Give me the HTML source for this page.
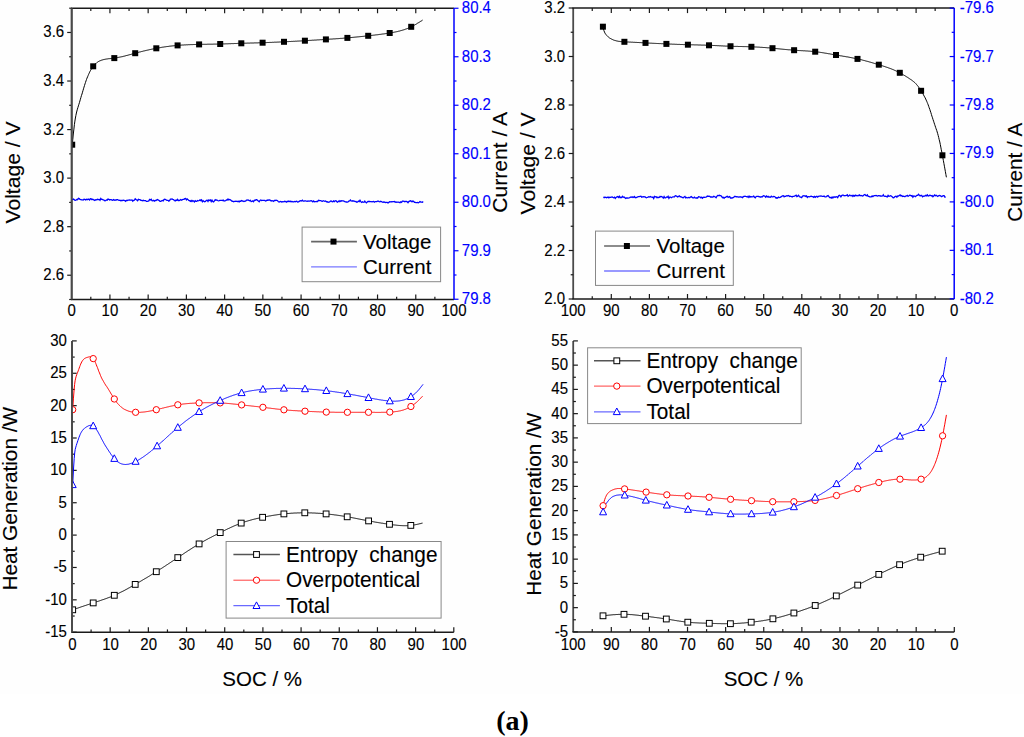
<!DOCTYPE html>
<html><head><meta charset="utf-8"><style>
html,body{margin:0;padding:0;background:#fff;}
body{width:1024px;height:737px;overflow:hidden;}
svg{display:block;}
text{font-family:"Liberation Sans",sans-serif;stroke-width:0.12px;}
</style></head><body>
<svg width="1024" height="737" viewBox="0 0 1024 737">
<rect x="0" y="0" width="1024" height="694" fill="#fefefe"/>
<line x1="71.70" y1="8.25" x2="71.70" y2="299.50" stroke="#4a4a4a" stroke-width="1.8"/>
<line x1="70.95" y1="299.50" x2="454.00" y2="299.50" stroke="#1a1a1a" stroke-width="1.5"/>
<line x1="70.95" y1="8.25" x2="454.00" y2="8.25" stroke="#1a1a1a" stroke-width="1.5"/>
<line x1="454.00" y1="8.25" x2="454.00" y2="299.50" stroke="#0000ff" stroke-width="1.5"/>
<line x1="69.20" y1="299.50" x2="71.70" y2="299.50" stroke="#1a1a1a" stroke-width="1.2"/>
<line x1="67.20" y1="275.22" x2="71.70" y2="275.22" stroke="#1a1a1a" stroke-width="1.2"/>
<text transform="translate(64.20,280.22) scale(1,1.050)" font-size="15" text-anchor="end" fill="#000" stroke="#000" >2.6</text>
<line x1="69.20" y1="250.95" x2="71.70" y2="250.95" stroke="#1a1a1a" stroke-width="1.2"/>
<line x1="67.20" y1="226.68" x2="71.70" y2="226.68" stroke="#1a1a1a" stroke-width="1.2"/>
<text transform="translate(64.20,231.68) scale(1,1.050)" font-size="15" text-anchor="end" fill="#000" stroke="#000" >2.8</text>
<line x1="69.20" y1="202.40" x2="71.70" y2="202.40" stroke="#1a1a1a" stroke-width="1.2"/>
<line x1="67.20" y1="178.12" x2="71.70" y2="178.12" stroke="#1a1a1a" stroke-width="1.2"/>
<text transform="translate(64.20,183.12) scale(1,1.050)" font-size="15" text-anchor="end" fill="#000" stroke="#000" >3.0</text>
<line x1="69.20" y1="153.85" x2="71.70" y2="153.85" stroke="#1a1a1a" stroke-width="1.2"/>
<line x1="67.20" y1="129.57" x2="71.70" y2="129.57" stroke="#1a1a1a" stroke-width="1.2"/>
<text transform="translate(64.20,134.57) scale(1,1.050)" font-size="15" text-anchor="end" fill="#000" stroke="#000" >3.2</text>
<line x1="69.20" y1="105.30" x2="71.70" y2="105.30" stroke="#1a1a1a" stroke-width="1.2"/>
<line x1="67.20" y1="81.03" x2="71.70" y2="81.03" stroke="#1a1a1a" stroke-width="1.2"/>
<text transform="translate(64.20,86.03) scale(1,1.050)" font-size="15" text-anchor="end" fill="#000" stroke="#000" >3.4</text>
<line x1="69.20" y1="56.75" x2="71.70" y2="56.75" stroke="#1a1a1a" stroke-width="1.2"/>
<line x1="67.20" y1="32.47" x2="71.70" y2="32.47" stroke="#1a1a1a" stroke-width="1.2"/>
<text transform="translate(64.20,37.47) scale(1,1.050)" font-size="15" text-anchor="end" fill="#000" stroke="#000" >3.6</text>
<line x1="69.20" y1="8.20" x2="71.70" y2="8.20" stroke="#1a1a1a" stroke-width="1.2"/>
<text transform="translate(71.70,316.40) scale(1,1.050)" font-size="15" text-anchor="middle" fill="#000" stroke="#000" >0</text>
<line x1="90.81" y1="296.70" x2="90.81" y2="299.50" stroke="#1a1a1a" stroke-width="1.2"/>
<line x1="90.81" y1="8.25" x2="90.81" y2="11.05" stroke="#1a1a1a" stroke-width="1.2"/>
<line x1="109.93" y1="294.50" x2="109.93" y2="299.50" stroke="#1a1a1a" stroke-width="1.2"/>
<line x1="109.93" y1="8.25" x2="109.93" y2="13.25" stroke="#1a1a1a" stroke-width="1.2"/>
<text transform="translate(109.93,316.40) scale(1,1.050)" font-size="15" text-anchor="middle" fill="#000" stroke="#000" >10</text>
<line x1="129.05" y1="296.70" x2="129.05" y2="299.50" stroke="#1a1a1a" stroke-width="1.2"/>
<line x1="129.05" y1="8.25" x2="129.05" y2="11.05" stroke="#1a1a1a" stroke-width="1.2"/>
<line x1="148.16" y1="294.50" x2="148.16" y2="299.50" stroke="#1a1a1a" stroke-width="1.2"/>
<line x1="148.16" y1="8.25" x2="148.16" y2="13.25" stroke="#1a1a1a" stroke-width="1.2"/>
<text transform="translate(148.16,316.40) scale(1,1.050)" font-size="15" text-anchor="middle" fill="#000" stroke="#000" >20</text>
<line x1="167.28" y1="296.70" x2="167.28" y2="299.50" stroke="#1a1a1a" stroke-width="1.2"/>
<line x1="167.28" y1="8.25" x2="167.28" y2="11.05" stroke="#1a1a1a" stroke-width="1.2"/>
<line x1="186.39" y1="294.50" x2="186.39" y2="299.50" stroke="#1a1a1a" stroke-width="1.2"/>
<line x1="186.39" y1="8.25" x2="186.39" y2="13.25" stroke="#1a1a1a" stroke-width="1.2"/>
<text transform="translate(186.39,316.40) scale(1,1.050)" font-size="15" text-anchor="middle" fill="#000" stroke="#000" >30</text>
<line x1="205.50" y1="296.70" x2="205.50" y2="299.50" stroke="#1a1a1a" stroke-width="1.2"/>
<line x1="205.50" y1="8.25" x2="205.50" y2="11.05" stroke="#1a1a1a" stroke-width="1.2"/>
<line x1="224.62" y1="294.50" x2="224.62" y2="299.50" stroke="#1a1a1a" stroke-width="1.2"/>
<line x1="224.62" y1="8.25" x2="224.62" y2="13.25" stroke="#1a1a1a" stroke-width="1.2"/>
<text transform="translate(224.62,316.40) scale(1,1.050)" font-size="15" text-anchor="middle" fill="#000" stroke="#000" >40</text>
<line x1="243.74" y1="296.70" x2="243.74" y2="299.50" stroke="#1a1a1a" stroke-width="1.2"/>
<line x1="243.74" y1="8.25" x2="243.74" y2="11.05" stroke="#1a1a1a" stroke-width="1.2"/>
<line x1="262.85" y1="294.50" x2="262.85" y2="299.50" stroke="#1a1a1a" stroke-width="1.2"/>
<line x1="262.85" y1="8.25" x2="262.85" y2="13.25" stroke="#1a1a1a" stroke-width="1.2"/>
<text transform="translate(262.85,316.40) scale(1,1.050)" font-size="15" text-anchor="middle" fill="#000" stroke="#000" >50</text>
<line x1="281.96" y1="296.70" x2="281.96" y2="299.50" stroke="#1a1a1a" stroke-width="1.2"/>
<line x1="281.96" y1="8.25" x2="281.96" y2="11.05" stroke="#1a1a1a" stroke-width="1.2"/>
<line x1="301.08" y1="294.50" x2="301.08" y2="299.50" stroke="#1a1a1a" stroke-width="1.2"/>
<line x1="301.08" y1="8.25" x2="301.08" y2="13.25" stroke="#1a1a1a" stroke-width="1.2"/>
<text transform="translate(301.08,316.40) scale(1,1.050)" font-size="15" text-anchor="middle" fill="#000" stroke="#000" >60</text>
<line x1="320.19" y1="296.70" x2="320.19" y2="299.50" stroke="#1a1a1a" stroke-width="1.2"/>
<line x1="320.19" y1="8.25" x2="320.19" y2="11.05" stroke="#1a1a1a" stroke-width="1.2"/>
<line x1="339.31" y1="294.50" x2="339.31" y2="299.50" stroke="#1a1a1a" stroke-width="1.2"/>
<line x1="339.31" y1="8.25" x2="339.31" y2="13.25" stroke="#1a1a1a" stroke-width="1.2"/>
<text transform="translate(339.31,316.40) scale(1,1.050)" font-size="15" text-anchor="middle" fill="#000" stroke="#000" >70</text>
<line x1="358.43" y1="296.70" x2="358.43" y2="299.50" stroke="#1a1a1a" stroke-width="1.2"/>
<line x1="358.43" y1="8.25" x2="358.43" y2="11.05" stroke="#1a1a1a" stroke-width="1.2"/>
<line x1="377.54" y1="294.50" x2="377.54" y2="299.50" stroke="#1a1a1a" stroke-width="1.2"/>
<line x1="377.54" y1="8.25" x2="377.54" y2="13.25" stroke="#1a1a1a" stroke-width="1.2"/>
<text transform="translate(377.54,316.40) scale(1,1.050)" font-size="15" text-anchor="middle" fill="#000" stroke="#000" >80</text>
<line x1="396.65" y1="296.70" x2="396.65" y2="299.50" stroke="#1a1a1a" stroke-width="1.2"/>
<line x1="396.65" y1="8.25" x2="396.65" y2="11.05" stroke="#1a1a1a" stroke-width="1.2"/>
<line x1="415.77" y1="294.50" x2="415.77" y2="299.50" stroke="#1a1a1a" stroke-width="1.2"/>
<line x1="415.77" y1="8.25" x2="415.77" y2="13.25" stroke="#1a1a1a" stroke-width="1.2"/>
<text transform="translate(415.77,316.40) scale(1,1.050)" font-size="15" text-anchor="middle" fill="#000" stroke="#000" >90</text>
<line x1="434.88" y1="296.70" x2="434.88" y2="299.50" stroke="#1a1a1a" stroke-width="1.2"/>
<line x1="434.88" y1="8.25" x2="434.88" y2="11.05" stroke="#1a1a1a" stroke-width="1.2"/>
<text transform="translate(454.00,316.40) scale(1,1.050)" font-size="15" text-anchor="middle" fill="#000" stroke="#000" >100</text>
<line x1="454.00" y1="8.25" x2="458.50" y2="8.25" stroke="#0000ff" stroke-width="1.2"/>
<text transform="translate(461.80,13.25) scale(1,1.050)" font-size="15" text-anchor="start" fill="#0000ff" stroke="#0000ff" >80.4</text>
<line x1="454.00" y1="32.50" x2="456.50" y2="32.50" stroke="#0000ff" stroke-width="1.2"/>
<line x1="454.00" y1="56.75" x2="458.50" y2="56.75" stroke="#0000ff" stroke-width="1.2"/>
<text transform="translate(461.80,61.75) scale(1,1.050)" font-size="15" text-anchor="start" fill="#0000ff" stroke="#0000ff" >80.3</text>
<line x1="454.00" y1="81.00" x2="456.50" y2="81.00" stroke="#0000ff" stroke-width="1.2"/>
<line x1="454.00" y1="105.25" x2="458.50" y2="105.25" stroke="#0000ff" stroke-width="1.2"/>
<text transform="translate(461.80,110.25) scale(1,1.050)" font-size="15" text-anchor="start" fill="#0000ff" stroke="#0000ff" >80.2</text>
<line x1="454.00" y1="129.50" x2="456.50" y2="129.50" stroke="#0000ff" stroke-width="1.2"/>
<line x1="454.00" y1="153.75" x2="458.50" y2="153.75" stroke="#0000ff" stroke-width="1.2"/>
<text transform="translate(461.80,158.75) scale(1,1.050)" font-size="15" text-anchor="start" fill="#0000ff" stroke="#0000ff" >80.1</text>
<line x1="454.00" y1="178.00" x2="456.50" y2="178.00" stroke="#0000ff" stroke-width="1.2"/>
<line x1="454.00" y1="202.25" x2="458.50" y2="202.25" stroke="#0000ff" stroke-width="1.2"/>
<text transform="translate(461.80,207.25) scale(1,1.050)" font-size="15" text-anchor="start" fill="#0000ff" stroke="#0000ff" >80.0</text>
<line x1="454.00" y1="226.50" x2="456.50" y2="226.50" stroke="#0000ff" stroke-width="1.2"/>
<line x1="454.00" y1="250.75" x2="458.50" y2="250.75" stroke="#0000ff" stroke-width="1.2"/>
<text transform="translate(461.80,255.75) scale(1,1.050)" font-size="15" text-anchor="start" fill="#0000ff" stroke="#0000ff" >79.9</text>
<line x1="454.00" y1="275.00" x2="456.50" y2="275.00" stroke="#0000ff" stroke-width="1.2"/>
<line x1="454.00" y1="299.25" x2="458.50" y2="299.25" stroke="#0000ff" stroke-width="1.2"/>
<text transform="translate(461.80,304.25) scale(1,1.050)" font-size="15" text-anchor="start" fill="#0000ff" stroke="#0000ff" >79.8</text>
<text transform="translate(20.40,172.45) rotate(-90) scale(1.030,1)" font-size="20.5" text-anchor="middle" fill="#000" stroke="#000" >Voltage / V</text>
<text transform="translate(507.00,162.30) rotate(-90) scale(1.030,1)" font-size="20.5" text-anchor="middle" fill="#000" stroke="#000" >Current / A</text>
<polyline points="72.0,199.6 72.8,199.4 73.6,199.0 74.4,199.9 75.2,200.3 76.0,200.2 76.8,199.4 77.6,199.7 78.4,198.4 79.2,198.7 80.0,199.3 80.8,199.5 81.6,199.9 82.4,199.9 83.2,200.1 84.0,199.3 84.8,199.4 85.6,199.9 86.4,199.3 87.2,199.7 88.0,199.2 88.8,199.2 89.6,200.0 90.4,198.7 91.2,198.9 92.0,199.6 92.8,199.2 93.6,199.8 94.4,200.4 95.2,199.8 96.0,200.1 96.8,199.5 97.6,199.3 98.4,199.6 99.2,199.4 100.0,200.3 100.8,198.5 101.6,199.4 102.4,199.4 103.2,200.0 104.0,200.1 104.8,200.8 105.6,200.7 106.4,199.9 107.2,200.2 108.0,199.0 108.8,199.3 109.6,200.0 110.4,199.6 111.2,199.7 112.0,200.1 112.8,200.2 113.6,199.5 114.4,200.2 115.2,199.9 116.0,200.3 116.8,199.6 117.6,199.6 118.4,200.1 119.2,200.4 120.0,200.2 120.8,200.7 121.6,200.5 122.4,200.5 123.2,200.2 124.0,200.3 124.8,200.6 125.6,201.3 126.4,200.4 127.2,200.5 128.0,200.1 128.8,200.2 129.6,200.0 130.4,200.2 131.2,200.1 132.0,199.9 132.8,201.2 133.6,200.4 134.4,200.2 135.2,198.8 136.0,199.5 136.8,200.1 137.6,200.7 138.4,199.4 139.2,199.7 140.0,199.6 140.8,200.3 141.6,200.4 142.4,200.8 143.2,200.3 144.0,200.6 144.8,200.7 145.6,200.6 146.4,201.4 147.2,201.4 148.0,201.2 148.8,200.9 149.6,199.4 150.4,200.0 151.2,199.3 152.0,200.6 152.8,200.8 153.6,200.4 154.4,201.2 155.2,200.5 156.0,200.5 156.8,199.9 157.6,199.6 158.4,200.2 159.2,200.5 160.0,201.4 160.8,201.3 161.6,200.8 162.4,200.5 163.2,200.9 164.0,199.6 164.8,199.2 165.6,199.5 166.4,200.1 167.2,200.4 168.0,200.4 168.8,201.2 169.6,200.5 170.4,199.2 171.2,199.1 172.0,198.9 172.8,199.3 173.6,199.5 174.4,200.6 175.2,201.0 176.0,200.1 176.8,200.4 177.6,199.3 178.4,200.5 179.2,200.5 180.0,200.1 180.8,199.5 181.6,200.2 182.4,199.7 183.2,199.4 184.0,199.3 184.8,198.7 185.6,198.5 186.4,199.8 187.2,198.9 188.0,199.6 188.8,200.5 189.6,200.7 190.4,201.3 191.2,200.5 192.0,201.5 192.8,200.6 193.6,201.0 194.4,201.9 195.2,200.7 196.0,201.3 196.8,201.4 197.6,200.5 198.4,200.8 199.2,200.5 200.0,199.9 200.8,200.6 201.6,199.9 202.4,201.8 203.2,200.7 204.0,201.4 204.8,201.8 205.6,201.3 206.4,200.3 207.2,200.2 208.0,201.5 208.8,200.0 209.6,200.5 210.4,200.0 211.2,201.6 212.0,200.1 212.8,201.5 213.6,202.0 214.4,201.0 215.2,199.6 216.0,200.2 216.8,199.9 217.6,200.5 218.4,200.8 219.2,200.7 220.0,200.4 220.8,200.3 221.6,200.4 222.4,200.5 223.2,200.1 224.0,201.0 224.8,200.8 225.6,200.7 226.4,200.0 227.2,200.0 228.0,199.0 228.8,200.0 229.6,199.5 230.4,199.9 231.2,200.4 232.0,201.3 232.8,201.1 233.6,201.8 234.4,201.4 235.2,201.4 236.0,201.1 236.8,201.3 237.6,201.5 238.4,201.3 239.2,201.8 240.0,201.0 240.8,201.2 241.6,200.5 242.4,201.0 243.2,201.1 244.0,201.5 244.8,201.2 245.6,201.1 246.4,200.2 247.2,200.2 248.0,199.9 248.8,200.4 249.6,200.7 250.4,200.3 251.2,201.6 252.0,201.5 252.8,200.8 253.6,201.7 254.4,200.3 255.2,200.4 256.0,199.7 256.8,199.7 257.6,200.4 258.4,201.0 259.2,201.8 260.0,200.5 260.8,200.0 261.6,200.5 262.4,200.4 263.2,200.3 264.0,200.4 264.8,200.4 265.6,201.1 266.4,200.8 267.2,200.1 268.0,200.4 268.8,200.0 269.6,200.0 270.4,200.4 271.2,201.0 272.0,200.7 272.8,200.8 273.6,201.3 274.4,200.4 275.2,200.5 276.0,200.2 276.8,200.4 277.6,200.7 278.4,201.8 279.2,202.1 280.0,201.5 280.8,201.4 281.6,202.0 282.4,201.7 283.2,201.8 284.0,201.5 284.8,201.3 285.6,201.6 286.4,202.2 287.2,201.3 288.0,201.7 288.8,201.1 289.6,201.5 290.4,201.3 291.2,201.7 292.0,201.4 292.8,201.8 293.6,201.8 294.4,201.4 295.2,201.8 296.0,201.4 296.8,201.2 297.6,202.1 298.4,201.9 299.2,201.4 300.0,200.9 300.8,200.6 301.6,200.9 302.4,200.1 303.2,201.1 304.0,201.1 304.8,200.8 305.6,200.8 306.4,201.2 307.2,201.3 308.0,200.9 308.8,201.1 309.6,201.2 310.4,200.8 311.2,200.6 312.0,201.1 312.8,201.9 313.6,201.0 314.4,201.8 315.2,201.7 316.0,201.6 316.8,201.4 317.6,201.5 318.4,200.2 319.2,200.5 320.0,200.6 320.8,200.6 321.6,201.2 322.4,201.4 323.2,200.7 324.0,201.0 324.8,201.3 325.6,201.0 326.4,201.7 327.2,201.6 328.0,202.3 328.8,202.1 329.6,201.9 330.4,201.2 331.2,201.0 332.0,201.7 332.8,201.8 333.6,200.9 334.4,201.6 335.2,200.8 336.0,200.7 336.8,201.8 337.6,202.2 338.4,201.1 339.2,201.7 340.0,200.7 340.8,201.4 341.6,200.7 342.4,200.9 343.2,200.9 344.0,201.2 344.8,201.7 345.6,201.8 346.4,202.0 347.2,202.2 348.0,202.0 348.8,201.1 349.6,201.0 350.4,200.1 351.2,201.0 352.0,201.1 352.8,200.8 353.6,201.0 354.4,201.1 355.2,201.6 356.0,201.5 356.8,202.2 357.6,201.9 358.4,201.1 359.2,201.6 360.0,200.3 360.8,201.6 361.6,202.4 362.4,201.8 363.2,202.1 364.0,202.3 364.8,201.1 365.6,202.1 366.4,202.9 367.2,202.0 368.0,201.4 368.8,201.5 369.6,201.4 370.4,201.6 371.2,201.7 372.0,201.9 372.8,201.6 373.6,201.4 374.4,202.2 375.2,201.6 376.0,201.7 376.8,201.6 377.6,201.2 378.4,201.1 379.2,201.6 380.0,201.8 380.8,201.2 381.6,201.7 382.4,202.1 383.2,202.3 384.0,201.8 384.8,202.4 385.6,202.5 386.4,202.3 387.2,202.4 388.0,202.9 388.8,202.4 389.6,201.7 390.4,201.8 391.2,201.6 392.0,201.9 392.8,201.6 393.6,201.7 394.4,201.5 395.2,202.3 396.0,201.9 396.8,202.4 397.6,202.2 398.4,202.1 399.2,202.4 400.0,202.7 400.8,201.8 401.6,202.3 402.4,201.2 403.2,201.1 404.0,201.4 404.8,201.7 405.6,201.3 406.4,201.4 407.2,201.8 408.0,202.7 408.8,201.6 409.6,201.1 410.4,200.8 411.2,201.1 412.0,201.8 412.8,201.1 413.6,201.4 414.4,202.3 415.2,202.4 416.0,202.7 416.8,202.7 417.6,202.5 418.4,202.8 419.2,202.3 420.0,201.5 420.8,202.1 421.6,202.2 422.4,202.3 423.2,201.6" fill="none" stroke="#0000ff" stroke-width="1.3"/>
<path d="M72.2,144.7 L72.8,139.3 L73.3,134.0 L73.9,129.1 L74.4,124.6 L74.9,121.1 L75.4,118.0 L75.9,115.4 L76.4,113.0 L76.9,111.0 L77.4,109.2 L77.9,107.5 L78.4,105.9 L78.9,104.3 L79.4,102.7 L79.9,101.0 L80.4,99.2 L80.9,97.5 L81.4,95.7 L82.0,94.0 L82.5,92.2 L83.0,90.5 L83.5,88.8 L84.0,87.1 L84.5,85.5 L85.0,83.9 L85.5,82.4 L86.0,80.9 L86.5,79.5 L87.0,78.1 L87.6,76.8 L88.1,75.6 L88.6,74.4 L89.1,73.3 L89.6,72.2 L90.1,71.2 L90.6,70.3 L91.2,69.4 L91.7,68.5 L92.2,67.7 L92.7,67.0 L93.2,66.3 L93.8,65.6 L94.3,65.0 L94.8,64.4 L95.4,63.9 L96.0,63.4 L96.5,62.9 L97.0,62.5 L97.5,62.2 L98.0,61.8 L98.5,61.5 L99.0,61.3 L99.5,61.0 L100.0,60.8 L100.5,60.6 L101.0,60.4 L101.5,60.2 L102.0,60.0 L102.5,59.9 L103.0,59.7 L103.5,59.6 L104.0,59.5 L104.5,59.4 L105.0,59.3 L105.5,59.2 L106.1,59.1 L106.6,59.0 L107.1,58.9 L107.6,58.9 L108.1,58.8 L108.6,58.7 L109.2,58.7 L109.7,58.6 L110.2,58.6 L110.7,58.5 L111.2,58.5 L111.7,58.4 L112.2,58.3 L112.8,58.3 L113.3,58.2 L113.8,58.2 L114.3,58.1 L114.8,58.0 L115.3,58.0 L115.8,57.9 L116.3,57.8 L116.8,57.7 L117.4,57.6 L117.9,57.5 L118.4,57.4 L118.9,57.3 L119.4,57.2 L119.9,57.1 L120.4,57.0 L120.9,56.9 L121.4,56.8 L121.9,56.7 L122.5,56.6 L123.0,56.4 L123.5,56.3 L124.0,56.2 L124.5,56.1 L125.0,55.9 L125.5,55.8 L126.0,55.7 L126.5,55.5 L127.0,55.4 L127.6,55.3 L128.1,55.1 L128.6,55.0 L129.1,54.9 L129.6,54.7 L130.1,54.6 L130.6,54.5 L131.1,54.3 L131.6,54.2 L132.1,54.0 L132.7,53.9 L133.2,53.8 L133.7,53.6 L134.2,53.5 L134.7,53.3 L135.2,53.2 L135.7,53.1 L136.2,52.9 L136.7,52.8 L137.2,52.7 L137.7,52.5 L138.2,52.4 L138.7,52.3 L139.2,52.1 L139.7,52.0 L140.2,51.9 L140.7,51.8 L141.2,51.6 L141.7,51.5 L142.2,51.4 L142.7,51.3 L143.2,51.1 L143.7,51.0 L144.2,50.9 L144.7,50.8 L145.2,50.7 L145.8,50.5 L146.3,50.4 L146.8,50.3 L147.3,50.2 L147.8,50.1 L148.3,50.0 L148.8,49.8 L149.3,49.7 L149.8,49.6 L150.3,49.5 L150.8,49.4 L151.3,49.3 L151.8,49.2 L152.3,49.1 L152.8,49.0 L153.3,48.9 L153.8,48.8 L154.3,48.7 L154.8,48.6 L155.3,48.5 L155.8,48.4 L156.3,48.3 L156.8,48.2 L157.3,48.1 L157.8,48.0 L158.3,47.9 L158.8,47.8 L159.3,47.8 L159.9,47.7 L160.4,47.6 L160.9,47.5 L161.4,47.4 L161.9,47.3 L162.4,47.2 L162.9,47.2 L163.4,47.1 L163.9,47.0 L164.4,46.9 L164.9,46.9 L165.4,46.8 L165.9,46.7 L166.4,46.6 L166.9,46.6 L167.5,46.5 L168.0,46.4 L168.5,46.4 L169.0,46.3 L169.5,46.2 L170.0,46.2 L170.5,46.1 L171.0,46.1 L171.5,46.0 L172.0,45.9 L172.5,45.9 L173.0,45.8 L173.5,45.8 L174.1,45.7 L174.6,45.7 L175.1,45.6 L175.6,45.6 L176.1,45.5 L176.6,45.5 L177.1,45.4 L177.6,45.4 L178.1,45.4 L178.6,45.3 L179.1,45.3 L179.6,45.2 L180.1,45.2 L180.6,45.2 L181.1,45.1 L181.6,45.1 L182.1,45.1 L182.6,45.0 L183.1,45.0 L183.6,45.0 L184.1,44.9 L184.6,44.9 L185.1,44.9 L185.6,44.9 L186.1,44.8 L186.6,44.8 L187.1,44.8 L187.6,44.8 L188.1,44.7 L188.6,44.7 L189.1,44.7 L189.6,44.7 L190.1,44.7 L190.6,44.6 L191.1,44.6 L191.6,44.6 L192.1,44.6 L192.6,44.6 L193.1,44.6 L193.6,44.5 L194.1,44.5 L194.6,44.5 L195.1,44.5 L195.6,44.5 L196.1,44.5 L196.6,44.5 L197.1,44.4 L197.6,44.4 L198.1,44.4 L198.6,44.4 L199.1,44.4 L199.6,44.4 L200.1,44.4 L200.6,44.4 L201.1,44.4 L201.6,44.3 L202.1,44.3 L202.6,44.3 L203.1,44.3 L203.6,44.3 L204.1,44.3 L204.6,44.3 L205.1,44.3 L205.6,44.3 L206.1,44.3 L206.6,44.3 L207.1,44.3 L207.6,44.2 L208.1,44.2 L208.6,44.2 L209.1,44.2 L209.6,44.2 L210.2,44.2 L210.7,44.2 L211.2,44.2 L211.7,44.2 L212.2,44.2 L212.7,44.2 L213.2,44.2 L213.7,44.1 L214.2,44.1 L214.7,44.1 L215.2,44.1 L215.7,44.1 L216.2,44.1 L216.7,44.1 L217.2,44.1 L217.7,44.1 L218.2,44.0 L218.7,44.0 L219.2,44.0 L219.7,44.0 L220.2,44.0 L220.7,44.0 L221.2,44.0 L221.7,44.0 L222.2,43.9 L222.7,43.9 L223.2,43.9 L223.7,43.9 L224.2,43.9 L224.7,43.9 L225.2,43.9 L225.7,43.8 L226.2,43.8 L226.7,43.8 L227.2,43.8 L227.7,43.8 L228.2,43.8 L228.7,43.7 L229.2,43.7 L229.7,43.7 L230.2,43.7 L230.8,43.7 L231.3,43.6 L231.8,43.6 L232.3,43.6 L232.8,43.6 L233.3,43.6 L233.8,43.6 L234.3,43.5 L234.8,43.5 L235.3,43.5 L235.8,43.5 L236.3,43.5 L236.8,43.5 L237.3,43.4 L237.8,43.4 L238.3,43.4 L238.8,43.4 L239.3,43.4 L239.8,43.3 L240.3,43.3 L240.8,43.3 L241.3,43.3 L241.8,43.3 L242.3,43.3 L242.8,43.3 L243.3,43.2 L243.8,43.2 L244.3,43.2 L244.9,43.2 L245.4,43.2 L245.9,43.2 L246.4,43.2 L246.9,43.1 L247.4,43.1 L247.9,43.1 L248.4,43.1 L248.9,43.1 L249.4,43.1 L249.9,43.1 L250.4,43.0 L250.9,43.0 L251.4,43.0 L252.0,43.0 L252.5,43.0 L253.0,43.0 L253.5,43.0 L254.0,43.0 L254.5,42.9 L255.0,42.9 L255.5,42.9 L256.0,42.9 L256.5,42.9 L257.0,42.9 L257.5,42.9 L258.0,42.8 L258.5,42.8 L259.1,42.8 L259.6,42.8 L260.1,42.8 L260.6,42.8 L261.1,42.7 L261.6,42.7 L262.1,42.7 L262.6,42.7 L263.1,42.7 L263.6,42.7 L264.1,42.6 L264.6,42.6 L265.1,42.6 L265.7,42.6 L266.2,42.6 L266.7,42.6 L267.2,42.5 L267.7,42.5 L268.2,42.5 L268.7,42.5 L269.2,42.5 L269.7,42.4 L270.2,42.4 L270.8,42.4 L271.3,42.4 L271.8,42.4 L272.3,42.3 L272.8,42.3 L273.3,42.3 L273.8,42.3 L274.3,42.2 L274.8,42.2 L275.3,42.2 L275.8,42.2 L276.4,42.2 L276.9,42.1 L277.4,42.1 L277.9,42.1 L278.4,42.1 L278.9,42.0 L279.4,42.0 L279.9,42.0 L280.4,42.0 L280.9,41.9 L281.5,41.9 L282.0,41.9 L282.5,41.9 L283.0,41.8 L283.5,41.8 L284.0,41.8 L284.5,41.8 L285.0,41.8 L285.5,41.7 L286.0,41.7 L286.5,41.7 L287.1,41.7 L287.6,41.6 L288.1,41.6 L288.6,41.6 L289.1,41.5 L289.6,41.5 L290.1,41.5 L290.6,41.5 L291.1,41.4 L291.6,41.4 L292.2,41.4 L292.7,41.4 L293.2,41.3 L293.7,41.3 L294.2,41.3 L294.7,41.3 L295.2,41.2 L295.7,41.2 L296.2,41.2 L296.7,41.2 L297.3,41.1 L297.8,41.1 L298.3,41.1 L298.8,41.0 L299.3,41.0 L299.8,41.0 L300.3,41.0 L300.8,40.9 L301.3,40.9 L301.8,40.9 L302.4,40.8 L302.9,40.8 L303.4,40.8 L303.9,40.8 L304.4,40.7 L304.9,40.7 L305.4,40.7 L305.9,40.6 L306.4,40.6 L306.9,40.6 L307.4,40.6 L307.9,40.5 L308.4,40.5 L308.9,40.5 L309.4,40.4 L309.9,40.4 L310.4,40.4 L310.9,40.3 L311.4,40.3 L311.9,40.3 L312.4,40.2 L312.9,40.2 L313.4,40.2 L313.9,40.2 L314.4,40.1 L314.9,40.1 L315.4,40.1 L315.9,40.0 L316.4,40.0 L316.9,40.0 L317.4,39.9 L317.9,39.9 L318.4,39.9 L318.9,39.8 L319.4,39.8 L319.9,39.8 L320.4,39.7 L320.9,39.7 L321.4,39.7 L321.9,39.7 L322.4,39.6 L322.9,39.6 L323.4,39.6 L323.9,39.5 L324.4,39.5 L324.9,39.5 L325.4,39.4 L325.9,39.4 L326.4,39.4 L326.9,39.3 L327.4,39.3 L327.9,39.3 L328.4,39.2 L328.9,39.2 L329.4,39.2 L329.9,39.1 L330.4,39.1 L330.9,39.1 L331.4,39.1 L331.9,39.0 L332.4,39.0 L332.9,39.0 L333.4,38.9 L333.9,38.9 L334.4,38.9 L334.9,38.8 L335.4,38.8 L335.9,38.8 L336.4,38.7 L336.9,38.7 L337.4,38.7 L337.9,38.6 L338.4,38.6 L338.9,38.6 L339.4,38.5 L339.9,38.5 L340.4,38.4 L340.9,38.4 L341.4,38.4 L341.9,38.3 L342.4,38.3 L342.9,38.3 L343.4,38.2 L343.9,38.2 L344.4,38.1 L344.9,38.1 L345.4,38.1 L345.9,38.0 L346.4,38.0 L346.9,37.9 L347.4,37.9 L347.9,37.9 L348.4,37.8 L348.9,37.8 L349.4,37.7 L349.9,37.7 L350.4,37.6 L351.0,37.6 L351.5,37.5 L352.0,37.5 L352.5,37.4 L353.0,37.4 L353.5,37.3 L354.0,37.3 L354.5,37.2 L355.0,37.2 L355.5,37.1 L356.0,37.1 L356.5,37.0 L357.0,37.0 L357.5,36.9 L358.1,36.9 L358.6,36.8 L359.1,36.8 L359.6,36.7 L360.1,36.7 L360.6,36.6 L361.1,36.6 L361.6,36.5 L362.1,36.5 L362.6,36.4 L363.1,36.4 L363.6,36.3 L364.1,36.2 L364.6,36.2 L365.2,36.1 L365.7,36.1 L366.2,36.0 L366.7,36.0 L367.2,35.9 L367.7,35.9 L368.2,35.8 L368.7,35.7 L369.2,35.7 L369.7,35.6 L370.2,35.6 L370.7,35.5 L371.2,35.5 L371.7,35.4 L372.2,35.3 L372.7,35.3 L373.2,35.2 L373.7,35.2 L374.2,35.1 L374.7,35.1 L375.2,35.0 L375.7,34.9 L376.2,34.9 L376.7,34.8 L377.2,34.8 L377.7,34.7 L378.2,34.6 L378.7,34.6 L379.2,34.5 L379.7,34.4 L380.2,34.4 L380.7,34.3 L381.2,34.2 L381.7,34.2 L382.2,34.1 L382.7,34.0 L383.2,34.0 L383.7,33.9 L384.2,33.8 L384.7,33.8 L385.2,33.7 L385.7,33.6 L386.2,33.5 L386.7,33.5 L387.2,33.4 L387.7,33.3 L388.2,33.2 L388.7,33.2 L389.2,33.1 L389.7,33.0 L390.2,32.9 L390.7,32.8 L391.2,32.7 L391.7,32.7 L392.2,32.6 L392.7,32.5 L393.2,32.4 L393.7,32.3 L394.2,32.2 L394.7,32.1 L395.2,32.0 L395.7,31.9 L396.2,31.8 L396.7,31.7 L397.2,31.6 L397.7,31.5 L398.2,31.3 L398.7,31.2 L399.2,31.1 L399.7,31.0 L400.2,30.8 L400.7,30.7 L401.2,30.6 L401.7,30.4 L402.2,30.3 L402.7,30.1 L403.2,30.0 L403.7,29.8 L404.2,29.7 L404.7,29.5 L405.2,29.3 L405.7,29.1 L406.2,28.9 L406.7,28.8 L407.2,28.6 L407.7,28.4 L408.2,28.2 L408.7,27.9 L409.2,27.7 L409.7,27.5 L410.2,27.3 L410.7,27.0 L411.2,26.8 L411.7,26.5 L412.2,26.3 L412.8,26.0 L413.3,25.7 L413.8,25.5 L414.3,25.2 L414.8,24.9 L415.3,24.6 L415.9,24.3 L416.4,24.0 L416.9,23.7 L417.4,23.3 L417.9,23.0 L418.5,22.7 L419.0,22.4 L419.5,22.1 L420.0,21.7 L420.5,21.4 L421.0,21.1 L421.6,20.8 L422.1,20.4 L422.6,20.1" fill="none" stroke="#000" stroke-width="1"/>
<clipPath id="c1"><rect x="71.70" y="0" width="400" height="300"/></clipPath>
<g clip-path="url(#c1)">
<rect x="69.20" y="141.70" width="6" height="6" fill="#000"/>
<rect x="90.20" y="63.30" width="6" height="6" fill="#000"/>
<rect x="111.30" y="55.10" width="6" height="6" fill="#000"/>
<rect x="132.20" y="50.20" width="6" height="6" fill="#000"/>
<rect x="153.30" y="45.30" width="6" height="6" fill="#000"/>
<rect x="174.60" y="42.40" width="6" height="6" fill="#000"/>
<rect x="196.10" y="41.40" width="6" height="6" fill="#000"/>
<rect x="217.20" y="41.00" width="6" height="6" fill="#000"/>
<rect x="238.30" y="40.30" width="6" height="6" fill="#000"/>
<rect x="259.60" y="39.70" width="6" height="6" fill="#000"/>
<rect x="281.00" y="38.80" width="6" height="6" fill="#000"/>
<rect x="301.90" y="37.70" width="6" height="6" fill="#000"/>
<rect x="322.90" y="36.40" width="6" height="6" fill="#000"/>
<rect x="344.40" y="34.90" width="6" height="6" fill="#000"/>
<rect x="365.20" y="32.80" width="6" height="6" fill="#000"/>
<rect x="386.70" y="30.00" width="6" height="6" fill="#000"/>
<rect x="408.20" y="23.80" width="6" height="6" fill="#000"/>
</g>
<line x1="71.70" y1="8.25" x2="71.70" y2="299.50" stroke="#4a4a4a" stroke-width="1.8"/>
<rect x="302.1" y="227.1" width="138.5" height="54.6" fill="none" stroke="#888" stroke-width="1"/>
<line x1="311.10" y1="241.60" x2="356.90" y2="241.60" stroke="#666" stroke-width="1.6"/>
<rect x="330.50" y="238.60" width="6" height="6" fill="#000"/>
<line x1="311.10" y1="266.80" x2="356.90" y2="266.80" stroke="#7777ff" stroke-width="1.3"/>
<text transform="translate(363.00,249.00) scale(1,1.000)" font-size="20.5" text-anchor="start" fill="#000" stroke="#000" >Voltage</text>
<text transform="translate(363.00,274.20) scale(1,1.000)" font-size="20.5" text-anchor="start" fill="#000" stroke="#000" >Current</text>
<line x1="573.20" y1="8.10" x2="573.20" y2="299.00" stroke="#4a4a4a" stroke-width="1.8"/>
<line x1="572.45" y1="299.00" x2="954.20" y2="299.00" stroke="#1a1a1a" stroke-width="1.5"/>
<line x1="572.45" y1="8.10" x2="954.20" y2="8.10" stroke="#1a1a1a" stroke-width="1.5"/>
<line x1="954.20" y1="8.10" x2="954.20" y2="299.00" stroke="#0000ff" stroke-width="1.5"/>
<line x1="568.70" y1="299.00" x2="573.20" y2="299.00" stroke="#1a1a1a" stroke-width="1.2"/>
<text transform="translate(565.20,304.00) scale(1,1.050)" font-size="15" text-anchor="end" fill="#000" stroke="#000" >2.0</text>
<line x1="570.70" y1="274.75" x2="573.20" y2="274.75" stroke="#1a1a1a" stroke-width="1.2"/>
<line x1="568.70" y1="250.50" x2="573.20" y2="250.50" stroke="#1a1a1a" stroke-width="1.2"/>
<text transform="translate(565.20,255.50) scale(1,1.050)" font-size="15" text-anchor="end" fill="#000" stroke="#000" >2.2</text>
<line x1="570.70" y1="226.25" x2="573.20" y2="226.25" stroke="#1a1a1a" stroke-width="1.2"/>
<line x1="568.70" y1="202.00" x2="573.20" y2="202.00" stroke="#1a1a1a" stroke-width="1.2"/>
<text transform="translate(565.20,207.00) scale(1,1.050)" font-size="15" text-anchor="end" fill="#000" stroke="#000" >2.4</text>
<line x1="570.70" y1="177.75" x2="573.20" y2="177.75" stroke="#1a1a1a" stroke-width="1.2"/>
<line x1="568.70" y1="153.50" x2="573.20" y2="153.50" stroke="#1a1a1a" stroke-width="1.2"/>
<text transform="translate(565.20,158.50) scale(1,1.050)" font-size="15" text-anchor="end" fill="#000" stroke="#000" >2.6</text>
<line x1="570.70" y1="129.25" x2="573.20" y2="129.25" stroke="#1a1a1a" stroke-width="1.2"/>
<line x1="568.70" y1="105.00" x2="573.20" y2="105.00" stroke="#1a1a1a" stroke-width="1.2"/>
<text transform="translate(565.20,110.00) scale(1,1.050)" font-size="15" text-anchor="end" fill="#000" stroke="#000" >2.8</text>
<line x1="570.70" y1="80.75" x2="573.20" y2="80.75" stroke="#1a1a1a" stroke-width="1.2"/>
<line x1="568.70" y1="56.50" x2="573.20" y2="56.50" stroke="#1a1a1a" stroke-width="1.2"/>
<text transform="translate(565.20,61.50) scale(1,1.050)" font-size="15" text-anchor="end" fill="#000" stroke="#000" >3.0</text>
<line x1="570.70" y1="32.25" x2="573.20" y2="32.25" stroke="#1a1a1a" stroke-width="1.2"/>
<line x1="568.70" y1="8.00" x2="573.20" y2="8.00" stroke="#1a1a1a" stroke-width="1.2"/>
<text transform="translate(565.20,13.00) scale(1,1.050)" font-size="15" text-anchor="end" fill="#000" stroke="#000" >3.2</text>
<text transform="translate(573.20,316.40) scale(1,1.050)" font-size="15" text-anchor="middle" fill="#000" stroke="#000" >100</text>
<line x1="592.25" y1="296.20" x2="592.25" y2="299.00" stroke="#1a1a1a" stroke-width="1.2"/>
<line x1="592.25" y1="8.10" x2="592.25" y2="10.90" stroke="#1a1a1a" stroke-width="1.2"/>
<line x1="611.30" y1="294.00" x2="611.30" y2="299.00" stroke="#1a1a1a" stroke-width="1.2"/>
<line x1="611.30" y1="8.10" x2="611.30" y2="13.10" stroke="#1a1a1a" stroke-width="1.2"/>
<text transform="translate(611.30,316.40) scale(1,1.050)" font-size="15" text-anchor="middle" fill="#000" stroke="#000" >90</text>
<line x1="630.35" y1="296.20" x2="630.35" y2="299.00" stroke="#1a1a1a" stroke-width="1.2"/>
<line x1="630.35" y1="8.10" x2="630.35" y2="10.90" stroke="#1a1a1a" stroke-width="1.2"/>
<line x1="649.40" y1="294.00" x2="649.40" y2="299.00" stroke="#1a1a1a" stroke-width="1.2"/>
<line x1="649.40" y1="8.10" x2="649.40" y2="13.10" stroke="#1a1a1a" stroke-width="1.2"/>
<text transform="translate(649.40,316.40) scale(1,1.050)" font-size="15" text-anchor="middle" fill="#000" stroke="#000" >80</text>
<line x1="668.45" y1="296.20" x2="668.45" y2="299.00" stroke="#1a1a1a" stroke-width="1.2"/>
<line x1="668.45" y1="8.10" x2="668.45" y2="10.90" stroke="#1a1a1a" stroke-width="1.2"/>
<line x1="687.50" y1="294.00" x2="687.50" y2="299.00" stroke="#1a1a1a" stroke-width="1.2"/>
<line x1="687.50" y1="8.10" x2="687.50" y2="13.10" stroke="#1a1a1a" stroke-width="1.2"/>
<text transform="translate(687.50,316.40) scale(1,1.050)" font-size="15" text-anchor="middle" fill="#000" stroke="#000" >70</text>
<line x1="706.55" y1="296.20" x2="706.55" y2="299.00" stroke="#1a1a1a" stroke-width="1.2"/>
<line x1="706.55" y1="8.10" x2="706.55" y2="10.90" stroke="#1a1a1a" stroke-width="1.2"/>
<line x1="725.60" y1="294.00" x2="725.60" y2="299.00" stroke="#1a1a1a" stroke-width="1.2"/>
<line x1="725.60" y1="8.10" x2="725.60" y2="13.10" stroke="#1a1a1a" stroke-width="1.2"/>
<text transform="translate(725.60,316.40) scale(1,1.050)" font-size="15" text-anchor="middle" fill="#000" stroke="#000" >60</text>
<line x1="744.65" y1="296.20" x2="744.65" y2="299.00" stroke="#1a1a1a" stroke-width="1.2"/>
<line x1="744.65" y1="8.10" x2="744.65" y2="10.90" stroke="#1a1a1a" stroke-width="1.2"/>
<line x1="763.70" y1="294.00" x2="763.70" y2="299.00" stroke="#1a1a1a" stroke-width="1.2"/>
<line x1="763.70" y1="8.10" x2="763.70" y2="13.10" stroke="#1a1a1a" stroke-width="1.2"/>
<text transform="translate(763.70,316.40) scale(1,1.050)" font-size="15" text-anchor="middle" fill="#000" stroke="#000" >50</text>
<line x1="782.75" y1="296.20" x2="782.75" y2="299.00" stroke="#1a1a1a" stroke-width="1.2"/>
<line x1="782.75" y1="8.10" x2="782.75" y2="10.90" stroke="#1a1a1a" stroke-width="1.2"/>
<line x1="801.80" y1="294.00" x2="801.80" y2="299.00" stroke="#1a1a1a" stroke-width="1.2"/>
<line x1="801.80" y1="8.10" x2="801.80" y2="13.10" stroke="#1a1a1a" stroke-width="1.2"/>
<text transform="translate(801.80,316.40) scale(1,1.050)" font-size="15" text-anchor="middle" fill="#000" stroke="#000" >40</text>
<line x1="820.85" y1="296.20" x2="820.85" y2="299.00" stroke="#1a1a1a" stroke-width="1.2"/>
<line x1="820.85" y1="8.10" x2="820.85" y2="10.90" stroke="#1a1a1a" stroke-width="1.2"/>
<line x1="839.90" y1="294.00" x2="839.90" y2="299.00" stroke="#1a1a1a" stroke-width="1.2"/>
<line x1="839.90" y1="8.10" x2="839.90" y2="13.10" stroke="#1a1a1a" stroke-width="1.2"/>
<text transform="translate(839.90,316.40) scale(1,1.050)" font-size="15" text-anchor="middle" fill="#000" stroke="#000" >30</text>
<line x1="858.95" y1="296.20" x2="858.95" y2="299.00" stroke="#1a1a1a" stroke-width="1.2"/>
<line x1="858.95" y1="8.10" x2="858.95" y2="10.90" stroke="#1a1a1a" stroke-width="1.2"/>
<line x1="878.00" y1="294.00" x2="878.00" y2="299.00" stroke="#1a1a1a" stroke-width="1.2"/>
<line x1="878.00" y1="8.10" x2="878.00" y2="13.10" stroke="#1a1a1a" stroke-width="1.2"/>
<text transform="translate(878.00,316.40) scale(1,1.050)" font-size="15" text-anchor="middle" fill="#000" stroke="#000" >20</text>
<line x1="897.05" y1="296.20" x2="897.05" y2="299.00" stroke="#1a1a1a" stroke-width="1.2"/>
<line x1="897.05" y1="8.10" x2="897.05" y2="10.90" stroke="#1a1a1a" stroke-width="1.2"/>
<line x1="916.10" y1="294.00" x2="916.10" y2="299.00" stroke="#1a1a1a" stroke-width="1.2"/>
<line x1="916.10" y1="8.10" x2="916.10" y2="13.10" stroke="#1a1a1a" stroke-width="1.2"/>
<text transform="translate(916.10,316.40) scale(1,1.050)" font-size="15" text-anchor="middle" fill="#000" stroke="#000" >10</text>
<line x1="935.15" y1="296.20" x2="935.15" y2="299.00" stroke="#1a1a1a" stroke-width="1.2"/>
<line x1="935.15" y1="8.10" x2="935.15" y2="10.90" stroke="#1a1a1a" stroke-width="1.2"/>
<text transform="translate(954.20,316.40) scale(1,1.050)" font-size="15" text-anchor="middle" fill="#000" stroke="#000" >0</text>
<line x1="949.70" y1="8.10" x2="954.20" y2="8.10" stroke="#0000ff" stroke-width="1.2"/>
<text transform="translate(959.70,13.10) scale(1,1.050)" font-size="15" text-anchor="start" fill="#0000ff" stroke="#0000ff" >-79.6</text>
<line x1="951.70" y1="32.32" x2="954.20" y2="32.32" stroke="#0000ff" stroke-width="1.2"/>
<line x1="949.70" y1="56.55" x2="954.20" y2="56.55" stroke="#0000ff" stroke-width="1.2"/>
<text transform="translate(959.70,61.55) scale(1,1.050)" font-size="15" text-anchor="start" fill="#0000ff" stroke="#0000ff" >-79.7</text>
<line x1="951.70" y1="80.78" x2="954.20" y2="80.78" stroke="#0000ff" stroke-width="1.2"/>
<line x1="949.70" y1="105.00" x2="954.20" y2="105.00" stroke="#0000ff" stroke-width="1.2"/>
<text transform="translate(959.70,110.00) scale(1,1.050)" font-size="15" text-anchor="start" fill="#0000ff" stroke="#0000ff" >-79.8</text>
<line x1="951.70" y1="129.22" x2="954.20" y2="129.22" stroke="#0000ff" stroke-width="1.2"/>
<line x1="949.70" y1="153.45" x2="954.20" y2="153.45" stroke="#0000ff" stroke-width="1.2"/>
<text transform="translate(959.70,158.45) scale(1,1.050)" font-size="15" text-anchor="start" fill="#0000ff" stroke="#0000ff" >-79.9</text>
<line x1="951.70" y1="177.67" x2="954.20" y2="177.67" stroke="#0000ff" stroke-width="1.2"/>
<line x1="949.70" y1="201.90" x2="954.20" y2="201.90" stroke="#0000ff" stroke-width="1.2"/>
<text transform="translate(959.70,206.90) scale(1,1.050)" font-size="15" text-anchor="start" fill="#0000ff" stroke="#0000ff" >-80.0</text>
<line x1="951.70" y1="226.13" x2="954.20" y2="226.13" stroke="#0000ff" stroke-width="1.2"/>
<line x1="949.70" y1="250.35" x2="954.20" y2="250.35" stroke="#0000ff" stroke-width="1.2"/>
<text transform="translate(959.70,255.35) scale(1,1.050)" font-size="15" text-anchor="start" fill="#0000ff" stroke="#0000ff" >-80.1</text>
<line x1="951.70" y1="274.57" x2="954.20" y2="274.57" stroke="#0000ff" stroke-width="1.2"/>
<line x1="949.70" y1="298.80" x2="954.20" y2="298.80" stroke="#0000ff" stroke-width="1.2"/>
<text transform="translate(959.70,303.80) scale(1,1.050)" font-size="15" text-anchor="start" fill="#0000ff" stroke="#0000ff" >-80.2</text>
<text transform="translate(535.00,163.45) rotate(-90) scale(1.030,1)" font-size="20.5" text-anchor="middle" fill="#000" stroke="#000" >Voltage / V</text>
<text transform="translate(1022.40,172.25) rotate(-90) scale(1.010,1)" font-size="20.5" text-anchor="middle" fill="#000" stroke="#000" >Current / A</text>
<polyline points="603.3,197.7 604.1,197.3 604.9,197.5 605.7,197.2 606.5,197.7 607.3,197.3 608.1,197.0 608.9,197.9 609.7,197.3 610.5,197.4 611.3,197.1 612.1,197.0 612.9,197.4 613.7,197.7 614.5,197.2 615.3,198.4 616.1,197.4 616.9,196.8 617.7,196.6 618.5,197.5 619.3,196.3 620.1,197.7 620.9,197.3 621.7,197.5 622.5,196.3 623.3,197.3 624.1,197.0 624.9,197.7 625.7,198.4 626.5,197.9 627.3,198.0 628.1,198.1 628.9,197.9 629.7,197.6 630.5,197.1 631.3,197.0 632.1,197.5 632.9,196.8 633.7,197.4 634.5,196.6 635.3,197.8 636.1,197.5 636.9,197.4 637.7,196.8 638.5,196.6 639.3,196.6 640.1,196.3 640.9,196.2 641.7,197.2 642.5,196.9 643.3,196.6 644.1,196.9 644.9,196.8 645.7,197.5 646.5,197.8 647.3,197.3 648.1,197.1 648.9,196.7 649.7,197.0 650.5,196.6 651.3,197.0 652.1,197.4 652.9,197.1 653.7,198.5 654.5,196.5 655.3,196.9 656.1,196.7 656.9,197.7 657.7,197.3 658.5,197.5 659.3,197.4 660.1,196.3 660.9,196.9 661.7,196.5 662.5,197.1 663.3,198.1 664.1,196.5 664.9,197.8 665.7,197.9 666.5,197.0 667.3,197.3 668.1,196.3 668.9,198.4 669.7,197.1 670.5,197.1 671.3,197.8 672.1,197.3 672.9,196.8 673.7,196.8 674.5,196.9 675.3,195.7 676.1,195.8 676.9,196.4 677.7,196.9 678.5,196.4 679.3,195.8 680.1,196.7 680.9,196.6 681.7,197.2 682.5,197.6 683.3,197.7 684.1,196.9 684.9,196.4 685.7,197.9 686.5,197.4 687.3,197.9 688.1,197.7 688.9,197.4 689.7,197.8 690.5,197.0 691.3,196.5 692.1,197.4 692.9,197.9 693.7,197.8 694.5,197.2 695.3,198.0 696.1,198.1 696.9,197.8 697.7,198.0 698.5,196.7 699.3,196.8 700.1,197.0 700.9,197.9 701.7,197.2 702.5,198.2 703.3,197.4 704.1,197.1 704.9,197.3 705.7,197.2 706.5,197.0 707.3,196.0 708.1,196.4 708.9,196.1 709.7,196.3 710.5,197.0 711.3,197.0 712.1,197.0 712.9,197.1 713.7,196.3 714.5,196.7 715.3,197.0 716.1,197.7 716.9,196.3 717.7,195.4 718.5,195.6 719.3,195.3 720.1,195.7 720.9,195.6 721.7,196.6 722.5,197.7 723.3,197.3 724.1,198.2 724.9,197.4 725.7,197.3 726.5,196.5 727.3,196.2 728.1,197.4 728.9,196.9 729.7,196.6 730.5,198.0 731.3,198.0 732.1,198.0 732.9,197.6 733.7,197.4 734.5,196.4 735.3,196.4 736.1,196.9 736.9,196.6 737.7,196.8 738.5,197.0 739.3,197.1 740.1,196.7 740.9,197.0 741.7,197.1 742.5,197.6 743.3,196.7 744.1,196.5 744.9,196.1 745.7,196.4 746.5,196.6 747.3,197.0 748.1,196.3 748.9,197.4 749.7,196.3 750.5,197.0 751.3,196.6 752.1,196.9 752.9,196.6 753.7,196.1 754.5,197.2 755.3,197.8 756.1,196.5 756.9,196.4 757.7,196.4 758.5,196.5 759.3,196.6 760.1,197.0 760.9,197.0 761.7,196.6 762.5,196.8 763.3,195.7 764.1,195.8 764.9,196.3 765.7,197.2 766.5,196.0 767.3,196.9 768.1,196.4 768.9,197.3 769.7,197.0 770.5,197.3 771.3,196.2 772.1,196.9 772.9,196.9 773.7,196.4 774.5,196.5 775.3,197.1 776.1,198.2 776.9,197.8 777.7,198.0 778.5,197.1 779.3,197.6 780.1,197.3 780.9,196.9 781.7,196.4 782.5,195.8 783.3,195.7 784.1,196.8 784.9,196.2 785.7,196.4 786.5,195.7 787.3,196.0 788.1,195.5 788.9,195.9 789.7,196.5 790.5,196.2 791.3,196.5 792.1,196.9 792.9,196.4 793.7,196.3 794.5,196.1 795.3,195.7 796.1,195.1 796.9,196.6 797.7,196.2 798.5,195.3 799.3,196.4 800.1,197.1 800.9,197.1 801.7,197.6 802.5,196.2 803.3,195.7 804.1,196.0 804.9,195.7 805.7,196.4 806.5,195.9 807.3,197.4 808.1,196.7 808.9,196.7 809.7,196.9 810.5,196.3 811.3,196.2 812.1,196.7 812.9,196.7 813.7,197.3 814.5,196.5 815.3,197.3 816.1,196.6 816.9,196.2 817.7,197.1 818.5,196.3 819.3,196.1 820.1,196.1 820.9,195.9 821.7,196.2 822.5,196.4 823.3,196.4 824.1,196.1 824.9,196.9 825.7,196.8 826.5,196.6 827.3,195.9 828.1,195.6 828.9,196.6 829.7,197.6 830.5,197.4 831.3,198.0 832.1,197.0 832.9,197.9 833.7,196.9 834.5,197.0 835.3,197.2 836.1,196.6 836.9,196.8 837.7,197.7 838.5,196.0 839.3,195.3 840.1,195.7 840.9,196.8 841.7,195.6 842.5,195.2 843.3,195.1 844.1,195.8 844.9,195.7 845.7,195.7 846.5,195.4 847.3,194.7 848.1,196.3 848.9,195.8 849.7,195.1 850.5,195.6 851.3,195.9 852.1,195.4 852.9,196.5 853.7,195.4 854.5,196.1 855.3,195.2 856.1,195.7 856.9,195.4 857.7,195.9 858.5,195.6 859.3,194.9 860.1,195.8 860.9,195.5 861.7,195.7 862.5,196.0 863.3,195.8 864.1,194.7 864.9,194.5 865.7,195.4 866.5,195.7 867.3,194.9 868.1,196.4 868.9,196.4 869.7,196.9 870.5,196.8 871.3,196.9 872.1,195.9 872.9,196.6 873.7,195.8 874.5,195.6 875.3,195.7 876.1,195.5 876.9,195.8 877.7,196.1 878.5,195.7 879.3,195.7 880.1,196.0 880.9,195.9 881.7,196.1 882.5,196.0 883.3,194.8 884.1,196.2 884.9,196.4 885.7,196.1 886.5,196.6 887.3,196.9 888.1,195.4 888.9,196.3 889.7,196.1 890.5,195.7 891.3,196.0 892.1,196.7 892.9,197.7 893.7,197.8 894.5,197.0 895.3,196.4 896.1,196.2 896.9,197.1 897.7,195.9 898.5,196.1 899.3,195.4 900.1,194.9 900.9,195.9 901.7,195.5 902.5,196.4 903.3,196.2 904.1,196.3 904.9,196.8 905.7,196.1 906.5,195.9 907.3,195.3 908.1,196.3 908.9,195.8 909.7,195.2 910.5,195.3 911.3,196.0 912.1,195.6 912.9,197.2 913.7,195.9 914.5,196.1 915.3,196.7 916.1,196.0 916.9,195.4 917.7,195.3 918.5,194.3 919.3,195.1 920.1,195.9 920.9,195.5 921.7,195.5 922.5,196.9 923.3,196.3 924.1,196.0 924.9,196.1 925.7,195.3 926.5,195.8 927.3,194.9 928.1,196.0 928.9,195.9 929.7,195.2 930.5,195.3 931.3,195.9 932.1,195.5 932.9,196.7 933.7,196.1 934.5,195.0 935.3,195.7 936.1,195.3 936.9,195.8 937.7,196.4 938.5,195.8 939.3,195.4 940.1,195.6 940.9,196.1 941.7,196.7 942.5,196.1 943.3,195.6 944.1,195.7 944.9,197.2 945.7,196.7" fill="none" stroke="#0000ff" stroke-width="1.3"/>
<path d="M602.9,26.7 L603.4,28.8 L603.9,30.6 L604.5,32.1 L605.0,33.2 L605.6,34.0 L606.1,34.7 L606.6,35.3 L607.2,35.9 L607.7,36.4 L608.2,36.9 L608.8,37.4 L609.3,37.8 L609.9,38.2 L610.5,38.5 L611.0,38.8 L611.6,39.1 L612.1,39.4 L612.7,39.6 L613.2,39.9 L613.8,40.1 L614.4,40.3 L614.9,40.5 L615.5,40.6 L616.0,40.8 L616.5,40.9 L617.0,41.0 L617.5,41.1 L618.0,41.2 L618.5,41.3 L619.0,41.4 L619.5,41.4 L620.0,41.5 L620.5,41.6 L621.1,41.6 L621.6,41.6 L622.2,41.7 L622.8,41.7 L623.3,41.7 L623.9,41.8 L624.4,41.8 L624.9,41.8 L625.4,41.9 L625.9,41.9 L626.4,41.9 L626.9,41.9 L627.4,42.0 L627.9,42.0 L628.4,42.0 L628.9,42.0 L629.4,42.1 L629.9,42.1 L630.4,42.1 L630.9,42.1 L631.4,42.2 L631.9,42.2 L632.4,42.2 L632.9,42.2 L633.4,42.3 L633.9,42.3 L634.4,42.3 L635.0,42.3 L635.5,42.4 L636.0,42.4 L636.5,42.4 L637.0,42.5 L637.5,42.5 L638.0,42.5 L638.5,42.5 L639.0,42.6 L639.5,42.6 L640.0,42.6 L640.5,42.6 L641.0,42.7 L641.5,42.7 L642.0,42.7 L642.5,42.7 L643.0,42.8 L643.5,42.8 L644.0,42.8 L644.5,42.8 L645.0,42.9 L645.5,42.9 L646.0,42.9 L646.5,43.0 L647.0,43.0 L647.5,43.0 L648.0,43.0 L648.6,43.1 L649.1,43.1 L649.6,43.1 L650.1,43.1 L650.6,43.2 L651.1,43.2 L651.6,43.2 L652.1,43.2 L652.6,43.3 L653.1,43.3 L653.7,43.3 L654.2,43.3 L654.7,43.4 L655.2,43.4 L655.7,43.4 L656.2,43.4 L656.7,43.5 L657.2,43.5 L657.7,43.5 L658.2,43.5 L658.8,43.6 L659.3,43.6 L659.8,43.6 L660.3,43.6 L660.8,43.6 L661.3,43.7 L661.8,43.7 L662.3,43.7 L662.8,43.7 L663.3,43.8 L663.9,43.8 L664.4,43.8 L664.9,43.8 L665.4,43.9 L665.9,43.9 L666.4,43.9 L666.9,43.9 L667.4,43.9 L667.9,44.0 L668.4,44.0 L668.9,44.0 L669.4,44.0 L669.9,44.1 L670.4,44.1 L670.9,44.1 L671.4,44.1 L671.9,44.1 L672.4,44.2 L672.9,44.2 L673.4,44.2 L673.9,44.2 L674.4,44.2 L674.9,44.3 L675.4,44.3 L675.9,44.3 L676.4,44.3 L676.9,44.3 L677.4,44.4 L677.9,44.4 L678.4,44.4 L678.9,44.4 L679.4,44.4 L679.9,44.4 L680.4,44.5 L680.9,44.5 L681.4,44.5 L681.9,44.5 L682.4,44.5 L682.9,44.5 L683.4,44.6 L683.9,44.6 L684.4,44.6 L684.9,44.6 L685.4,44.6 L685.9,44.6 L686.4,44.7 L686.9,44.7 L687.4,44.7 L687.9,44.7 L688.4,44.7 L688.9,44.7 L689.4,44.7 L689.9,44.8 L690.4,44.8 L690.9,44.8 L691.4,44.8 L691.9,44.8 L692.4,44.8 L692.9,44.8 L693.4,44.8 L693.9,44.9 L694.4,44.9 L694.9,44.9 L695.4,44.9 L695.9,44.9 L696.4,44.9 L696.9,44.9 L697.4,44.9 L697.9,45.0 L698.5,45.0 L699.0,45.0 L699.5,45.0 L700.0,45.0 L700.5,45.0 L701.0,45.0 L701.5,45.1 L702.0,45.1 L702.5,45.1 L703.0,45.1 L703.5,45.1 L704.0,45.1 L704.5,45.1 L705.0,45.2 L705.5,45.2 L706.0,45.2 L706.5,45.2 L707.0,45.2 L707.5,45.2 L708.0,45.3 L708.5,45.3 L709.0,45.3 L709.5,45.3 L710.0,45.3 L710.5,45.4 L711.0,45.4 L711.5,45.4 L712.0,45.4 L712.5,45.4 L713.0,45.5 L713.5,45.5 L714.0,45.5 L714.5,45.5 L715.0,45.6 L715.5,45.6 L716.0,45.6 L716.5,45.6 L717.0,45.7 L717.5,45.7 L718.0,45.7 L718.5,45.7 L719.0,45.8 L719.5,45.8 L720.0,45.8 L720.5,45.8 L721.0,45.8 L721.5,45.9 L722.0,45.9 L722.5,45.9 L723.0,45.9 L723.5,46.0 L724.0,46.0 L724.5,46.0 L725.0,46.0 L725.5,46.1 L726.0,46.1 L726.5,46.1 L727.0,46.1 L727.5,46.1 L728.0,46.2 L728.5,46.2 L729.0,46.2 L729.5,46.2 L730.0,46.2 L730.5,46.2 L731.0,46.3 L731.5,46.3 L732.0,46.3 L732.5,46.3 L733.0,46.3 L733.6,46.3 L734.1,46.4 L734.6,46.4 L735.1,46.4 L735.6,46.4 L736.1,46.4 L736.6,46.4 L737.1,46.4 L737.6,46.4 L738.1,46.5 L738.7,46.5 L739.2,46.5 L739.7,46.5 L740.2,46.5 L740.7,46.5 L741.2,46.5 L741.7,46.5 L742.2,46.5 L742.7,46.6 L743.2,46.6 L743.8,46.6 L744.3,46.6 L744.8,46.6 L745.3,46.6 L745.8,46.6 L746.3,46.6 L746.8,46.7 L747.3,46.7 L747.8,46.7 L748.3,46.7 L748.9,46.7 L749.4,46.7 L749.9,46.7 L750.4,46.8 L750.9,46.8 L751.4,46.8 L751.9,46.8 L752.4,46.8 L752.9,46.9 L753.4,46.9 L753.9,46.9 L754.4,46.9 L754.9,47.0 L755.4,47.0 L755.9,47.0 L756.4,47.0 L756.9,47.1 L757.4,47.1 L757.9,47.1 L758.4,47.1 L758.9,47.2 L759.4,47.2 L759.9,47.2 L760.4,47.3 L760.9,47.3 L761.4,47.3 L762.0,47.4 L762.5,47.4 L763.0,47.4 L763.5,47.5 L764.0,47.5 L764.5,47.5 L765.0,47.6 L765.5,47.6 L766.0,47.6 L766.5,47.7 L767.0,47.7 L767.5,47.8 L768.0,47.8 L768.5,47.8 L769.0,47.9 L769.5,47.9 L770.0,48.0 L770.5,48.0 L771.0,48.1 L771.5,48.1 L772.0,48.2 L772.5,48.2 L773.0,48.2 L773.5,48.3 L774.0,48.3 L774.5,48.4 L775.0,48.4 L775.5,48.5 L776.0,48.5 L776.5,48.6 L777.0,48.6 L777.5,48.7 L778.0,48.7 L778.5,48.8 L779.0,48.8 L779.5,48.9 L780.0,48.9 L780.5,49.0 L781.0,49.0 L781.5,49.1 L782.0,49.1 L782.5,49.2 L783.0,49.2 L783.6,49.3 L784.1,49.3 L784.6,49.4 L785.1,49.4 L785.6,49.5 L786.1,49.5 L786.6,49.6 L787.1,49.6 L787.6,49.7 L788.1,49.7 L788.6,49.8 L789.1,49.8 L789.6,49.8 L790.1,49.9 L790.6,49.9 L791.1,50.0 L791.6,50.0 L792.1,50.0 L792.6,50.1 L793.1,50.1 L793.6,50.2 L794.1,50.2 L794.6,50.2 L795.1,50.3 L795.6,50.3 L796.1,50.3 L796.6,50.4 L797.1,50.4 L797.6,50.4 L798.1,50.5 L798.6,50.5 L799.1,50.5 L799.6,50.6 L800.1,50.6 L800.6,50.6 L801.1,50.6 L801.6,50.7 L802.1,50.7 L802.6,50.7 L803.1,50.8 L803.6,50.8 L804.1,50.8 L804.7,50.8 L805.2,50.9 L805.7,50.9 L806.2,50.9 L806.7,51.0 L807.2,51.0 L807.7,51.0 L808.2,51.1 L808.7,51.1 L809.2,51.1 L809.7,51.2 L810.2,51.2 L810.7,51.3 L811.2,51.3 L811.7,51.4 L812.2,51.4 L812.7,51.4 L813.2,51.5 L813.7,51.5 L814.2,51.6 L814.7,51.6 L815.2,51.7 L815.7,51.8 L816.2,51.8 L816.7,51.9 L817.2,51.9 L817.7,52.0 L818.2,52.1 L818.8,52.1 L819.3,52.2 L819.8,52.3 L820.3,52.4 L820.8,52.4 L821.3,52.5 L821.8,52.6 L822.3,52.7 L822.8,52.7 L823.3,52.8 L823.8,52.9 L824.3,53.0 L824.8,53.1 L825.3,53.2 L825.9,53.2 L826.4,53.3 L826.9,53.4 L827.4,53.5 L827.9,53.6 L828.4,53.7 L828.9,53.8 L829.4,53.8 L829.9,53.9 L830.4,54.0 L830.9,54.1 L831.4,54.2 L831.9,54.3 L832.4,54.4 L833.0,54.5 L833.5,54.6 L834.0,54.6 L834.5,54.7 L835.0,54.8 L835.5,54.9 L836.0,55.0 L836.5,55.1 L837.0,55.2 L837.5,55.3 L838.0,55.3 L838.5,55.4 L839.0,55.5 L839.5,55.6 L840.0,55.7 L840.5,55.8 L841.0,55.8 L841.5,55.9 L842.0,56.0 L842.5,56.1 L843.0,56.2 L843.5,56.3 L844.0,56.3 L844.5,56.4 L845.0,56.5 L845.5,56.6 L846.0,56.7 L846.5,56.8 L847.0,56.9 L847.5,56.9 L848.0,57.0 L848.5,57.1 L849.0,57.2 L849.5,57.3 L850.0,57.4 L850.5,57.5 L851.0,57.6 L851.5,57.7 L852.0,57.8 L852.5,57.9 L853.0,58.0 L853.5,58.1 L854.0,58.2 L854.5,58.3 L855.0,58.4 L855.5,58.5 L856.0,58.6 L856.5,58.7 L857.0,58.8 L857.5,58.9 L858.0,59.0 L858.5,59.1 L859.0,59.2 L859.5,59.4 L860.0,59.5 L860.5,59.6 L861.0,59.7 L861.6,59.8 L862.1,60.0 L862.6,60.1 L863.1,60.2 L863.6,60.4 L864.1,60.5 L864.6,60.6 L865.1,60.8 L865.6,60.9 L866.1,61.0 L866.6,61.2 L867.1,61.3 L867.6,61.4 L868.1,61.6 L868.7,61.7 L869.2,61.9 L869.7,62.0 L870.2,62.1 L870.7,62.3 L871.2,62.4 L871.7,62.6 L872.2,62.7 L872.7,62.9 L873.2,63.0 L873.7,63.2 L874.2,63.3 L874.7,63.5 L875.2,63.6 L875.8,63.8 L876.3,63.9 L876.8,64.1 L877.3,64.2 L877.8,64.4 L878.3,64.5 L878.8,64.7 L879.3,64.9 L879.8,65.0 L880.3,65.2 L880.8,65.3 L881.3,65.5 L881.8,65.6 L882.3,65.8 L882.8,65.9 L883.3,66.1 L883.8,66.3 L884.3,66.4 L884.8,66.6 L885.3,66.8 L885.8,66.9 L886.3,67.1 L886.8,67.3 L887.3,67.4 L887.8,67.6 L888.3,67.8 L888.8,68.0 L889.3,68.2 L889.8,68.3 L890.3,68.5 L890.8,68.7 L891.3,68.9 L891.8,69.1 L892.3,69.3 L892.8,69.5 L893.3,69.7 L893.8,69.9 L894.3,70.2 L894.8,70.4 L895.3,70.6 L895.8,70.8 L896.3,71.1 L896.8,71.3 L897.3,71.5 L897.8,71.8 L898.3,72.0 L898.8,72.3 L899.3,72.5 L899.8,72.8 L900.3,73.1 L900.8,73.4 L901.4,73.7 L901.9,73.9 L902.4,74.2 L902.9,74.5 L903.4,74.9 L904.0,75.2 L904.5,75.5 L905.0,75.8 L905.5,76.1 L906.1,76.5 L906.6,76.8 L907.1,77.1 L907.6,77.4 L908.1,77.8 L908.7,78.1 L909.2,78.5 L909.7,78.8 L910.2,79.1 L910.7,79.5 L911.2,79.8 L911.8,80.2 L912.3,80.6 L912.8,81.0 L913.3,81.4 L913.8,81.8 L914.3,82.2 L914.9,82.7 L915.4,83.2 L915.9,83.7 L916.4,84.3 L916.9,84.9 L917.4,85.5 L918.0,86.2 L918.5,86.9 L919.0,87.7 L919.5,88.4 L920.1,89.2 L920.6,90.0 L921.1,90.8 L921.6,91.6 L922.1,92.4 L922.6,93.3 L923.1,94.1 L923.6,95.0 L924.1,96.0 L924.6,96.9 L925.2,97.9 L925.7,99.0 L926.2,100.1 L926.7,101.2 L927.2,102.4 L927.7,103.6 L928.2,104.9 L928.7,106.3 L929.2,107.8 L929.8,109.4 L930.3,111.0 L930.9,112.7 L931.4,114.4 L931.9,116.1 L932.5,117.8 L933.0,119.5 L933.6,121.2 L934.1,122.8 L934.6,124.3 L935.1,125.8 L935.6,127.3 L936.1,128.8 L936.7,130.4 L937.2,132.0 L937.7,133.7 L938.2,135.5 L938.7,137.5 L939.2,139.7 L939.8,142.0 L940.3,144.5 L940.8,147.1 L941.3,149.8 L941.9,152.5 L942.4,155.3 L942.9,158.0 L943.4,160.7 L943.9,163.4 L944.4,166.2 L944.9,168.9 L945.4,171.7 L945.9,174.5 L946.4,177.3" fill="none" stroke="#000" stroke-width="1"/>
<rect x="599.90" y="23.70" width="6" height="6" fill="#000"/>
<rect x="621.40" y="38.80" width="6" height="6" fill="#000"/>
<rect x="642.50" y="39.90" width="6" height="6" fill="#000"/>
<rect x="663.40" y="40.90" width="6" height="6" fill="#000"/>
<rect x="684.90" y="41.70" width="6" height="6" fill="#000"/>
<rect x="706.00" y="42.30" width="6" height="6" fill="#000"/>
<rect x="727.50" y="43.25" width="6" height="6" fill="#000"/>
<rect x="748.40" y="43.80" width="6" height="6" fill="#000"/>
<rect x="769.50" y="45.20" width="6" height="6" fill="#000"/>
<rect x="791.10" y="47.20" width="6" height="6" fill="#000"/>
<rect x="812.20" y="48.70" width="6" height="6" fill="#000"/>
<rect x="833.00" y="52.00" width="6" height="6" fill="#000"/>
<rect x="854.50" y="55.90" width="6" height="6" fill="#000"/>
<rect x="875.80" y="61.70" width="6" height="6" fill="#000"/>
<rect x="896.80" y="69.80" width="6" height="6" fill="#000"/>
<rect x="918.10" y="87.80" width="6" height="6" fill="#000"/>
<rect x="939.40" y="152.30" width="6" height="6" fill="#000"/>
<rect x="595.5" y="231.1" width="137.8" height="54.3" fill="none" stroke="#888" stroke-width="1"/>
<line x1="604.10" y1="246.00" x2="650.00" y2="246.00" stroke="#666" stroke-width="1.6"/>
<rect x="623.90" y="243.00" width="6" height="6" fill="#000"/>
<line x1="604.10" y1="271.00" x2="650.00" y2="271.00" stroke="#7777ff" stroke-width="1.3"/>
<text transform="translate(656.50,253.30) scale(1,1.000)" font-size="20.5" text-anchor="start" fill="#000" stroke="#000" >Voltage</text>
<text transform="translate(656.50,278.40) scale(1,1.000)" font-size="20.5" text-anchor="start" fill="#000" stroke="#000" >Current</text>
<line x1="72.00" y1="340.90" x2="72.00" y2="632.20" stroke="#4a4a4a" stroke-width="1.8"/>
<line x1="71.25" y1="632.20" x2="453.80" y2="632.20" stroke="#1a1a1a" stroke-width="1.5"/>
<line x1="72.00" y1="632.20" x2="76.70" y2="632.20" stroke="#1a1a1a" stroke-width="1.2"/>
<text transform="translate(66.80,637.20) scale(1,1.050)" font-size="15" text-anchor="end" fill="#000" stroke="#000" >-15</text>
<line x1="72.00" y1="616.02" x2="74.70" y2="616.02" stroke="#1a1a1a" stroke-width="1.2"/>
<line x1="72.00" y1="599.83" x2="76.70" y2="599.83" stroke="#1a1a1a" stroke-width="1.2"/>
<text transform="translate(66.80,604.83) scale(1,1.050)" font-size="15" text-anchor="end" fill="#000" stroke="#000" >-10</text>
<line x1="72.00" y1="583.65" x2="74.70" y2="583.65" stroke="#1a1a1a" stroke-width="1.2"/>
<line x1="72.00" y1="567.47" x2="76.70" y2="567.47" stroke="#1a1a1a" stroke-width="1.2"/>
<text transform="translate(66.80,572.47) scale(1,1.050)" font-size="15" text-anchor="end" fill="#000" stroke="#000" >-5</text>
<line x1="72.00" y1="551.28" x2="74.70" y2="551.28" stroke="#1a1a1a" stroke-width="1.2"/>
<line x1="72.00" y1="535.10" x2="76.70" y2="535.10" stroke="#1a1a1a" stroke-width="1.2"/>
<text transform="translate(66.80,540.10) scale(1,1.050)" font-size="15" text-anchor="end" fill="#000" stroke="#000" >0</text>
<line x1="72.00" y1="518.92" x2="74.70" y2="518.92" stroke="#1a1a1a" stroke-width="1.2"/>
<line x1="72.00" y1="502.73" x2="76.70" y2="502.73" stroke="#1a1a1a" stroke-width="1.2"/>
<text transform="translate(66.80,507.73) scale(1,1.050)" font-size="15" text-anchor="end" fill="#000" stroke="#000" >5</text>
<line x1="72.00" y1="486.55" x2="74.70" y2="486.55" stroke="#1a1a1a" stroke-width="1.2"/>
<line x1="72.00" y1="470.37" x2="76.70" y2="470.37" stroke="#1a1a1a" stroke-width="1.2"/>
<text transform="translate(66.80,475.37) scale(1,1.050)" font-size="15" text-anchor="end" fill="#000" stroke="#000" >10</text>
<line x1="72.00" y1="454.18" x2="74.70" y2="454.18" stroke="#1a1a1a" stroke-width="1.2"/>
<line x1="72.00" y1="438.00" x2="76.70" y2="438.00" stroke="#1a1a1a" stroke-width="1.2"/>
<text transform="translate(66.80,443.00) scale(1,1.050)" font-size="15" text-anchor="end" fill="#000" stroke="#000" >15</text>
<line x1="72.00" y1="421.82" x2="74.70" y2="421.82" stroke="#1a1a1a" stroke-width="1.2"/>
<line x1="72.00" y1="405.63" x2="76.70" y2="405.63" stroke="#1a1a1a" stroke-width="1.2"/>
<text transform="translate(66.80,410.63) scale(1,1.050)" font-size="15" text-anchor="end" fill="#000" stroke="#000" >20</text>
<line x1="72.00" y1="389.45" x2="74.70" y2="389.45" stroke="#1a1a1a" stroke-width="1.2"/>
<line x1="72.00" y1="373.27" x2="76.70" y2="373.27" stroke="#1a1a1a" stroke-width="1.2"/>
<text transform="translate(66.80,378.27) scale(1,1.050)" font-size="15" text-anchor="end" fill="#000" stroke="#000" >25</text>
<line x1="72.00" y1="357.08" x2="74.70" y2="357.08" stroke="#1a1a1a" stroke-width="1.2"/>
<line x1="72.00" y1="340.90" x2="76.70" y2="340.90" stroke="#1a1a1a" stroke-width="1.2"/>
<text transform="translate(66.80,345.90) scale(1,1.050)" font-size="15" text-anchor="end" fill="#000" stroke="#000" >30</text>
<text transform="translate(72.30,649.80) scale(1,1.050)" font-size="15" text-anchor="middle" fill="#000" stroke="#000" >0</text>
<line x1="91.09" y1="629.40" x2="91.09" y2="632.20" stroke="#1a1a1a" stroke-width="1.2"/>
<line x1="110.18" y1="627.20" x2="110.18" y2="632.20" stroke="#1a1a1a" stroke-width="1.2"/>
<text transform="translate(110.48,649.80) scale(1,1.050)" font-size="15" text-anchor="middle" fill="#000" stroke="#000" >10</text>
<line x1="129.27" y1="629.40" x2="129.27" y2="632.20" stroke="#1a1a1a" stroke-width="1.2"/>
<line x1="148.36" y1="627.20" x2="148.36" y2="632.20" stroke="#1a1a1a" stroke-width="1.2"/>
<text transform="translate(148.66,649.80) scale(1,1.050)" font-size="15" text-anchor="middle" fill="#000" stroke="#000" >20</text>
<line x1="167.45" y1="629.40" x2="167.45" y2="632.20" stroke="#1a1a1a" stroke-width="1.2"/>
<line x1="186.54" y1="627.20" x2="186.54" y2="632.20" stroke="#1a1a1a" stroke-width="1.2"/>
<text transform="translate(186.84,649.80) scale(1,1.050)" font-size="15" text-anchor="middle" fill="#000" stroke="#000" >30</text>
<line x1="205.63" y1="629.40" x2="205.63" y2="632.20" stroke="#1a1a1a" stroke-width="1.2"/>
<line x1="224.72" y1="627.20" x2="224.72" y2="632.20" stroke="#1a1a1a" stroke-width="1.2"/>
<text transform="translate(225.02,649.80) scale(1,1.050)" font-size="15" text-anchor="middle" fill="#000" stroke="#000" >40</text>
<line x1="243.81" y1="629.40" x2="243.81" y2="632.20" stroke="#1a1a1a" stroke-width="1.2"/>
<line x1="262.90" y1="627.20" x2="262.90" y2="632.20" stroke="#1a1a1a" stroke-width="1.2"/>
<text transform="translate(263.20,649.80) scale(1,1.050)" font-size="15" text-anchor="middle" fill="#000" stroke="#000" >50</text>
<line x1="281.99" y1="629.40" x2="281.99" y2="632.20" stroke="#1a1a1a" stroke-width="1.2"/>
<line x1="301.08" y1="627.20" x2="301.08" y2="632.20" stroke="#1a1a1a" stroke-width="1.2"/>
<text transform="translate(301.38,649.80) scale(1,1.050)" font-size="15" text-anchor="middle" fill="#000" stroke="#000" >60</text>
<line x1="320.17" y1="629.40" x2="320.17" y2="632.20" stroke="#1a1a1a" stroke-width="1.2"/>
<line x1="339.26" y1="627.20" x2="339.26" y2="632.20" stroke="#1a1a1a" stroke-width="1.2"/>
<text transform="translate(339.56,649.80) scale(1,1.050)" font-size="15" text-anchor="middle" fill="#000" stroke="#000" >70</text>
<line x1="358.35" y1="629.40" x2="358.35" y2="632.20" stroke="#1a1a1a" stroke-width="1.2"/>
<line x1="377.44" y1="627.20" x2="377.44" y2="632.20" stroke="#1a1a1a" stroke-width="1.2"/>
<text transform="translate(377.74,649.80) scale(1,1.050)" font-size="15" text-anchor="middle" fill="#000" stroke="#000" >80</text>
<line x1="396.53" y1="629.40" x2="396.53" y2="632.20" stroke="#1a1a1a" stroke-width="1.2"/>
<line x1="415.62" y1="627.20" x2="415.62" y2="632.20" stroke="#1a1a1a" stroke-width="1.2"/>
<text transform="translate(415.92,649.80) scale(1,1.050)" font-size="15" text-anchor="middle" fill="#000" stroke="#000" >90</text>
<line x1="434.71" y1="629.40" x2="434.71" y2="632.20" stroke="#1a1a1a" stroke-width="1.2"/>
<line x1="453.80" y1="627.20" x2="453.80" y2="632.20" stroke="#1a1a1a" stroke-width="1.2"/>
<text transform="translate(454.10,649.80) scale(1,1.050)" font-size="15" text-anchor="middle" fill="#000" stroke="#000" >100</text>
<text transform="translate(17.40,498.70) rotate(-90) scale(1.015,1)" font-size="20.5" text-anchor="middle" fill="#000" stroke="#000" >Heat Generation /W</text>
<text transform="translate(262.20,686.30) scale(1,1.030)" font-size="20.5" text-anchor="middle" fill="#000" stroke="#000" >SOC / %</text>
<path d="M72.7,609.8 L73.2,609.6 L73.7,609.5 L74.2,609.3 L74.7,609.1 L75.2,608.9 L75.7,608.8 L76.2,608.6 L76.7,608.4 L77.2,608.3 L77.7,608.1 L78.2,607.9 L78.7,607.8 L79.2,607.6 L79.7,607.4 L80.2,607.2 L80.7,607.1 L81.2,606.9 L81.7,606.7 L82.2,606.6 L82.7,606.4 L83.2,606.2 L83.7,606.1 L84.2,605.9 L84.7,605.7 L85.2,605.6 L85.7,605.4 L86.2,605.2 L86.7,605.1 L87.2,604.9 L87.7,604.7 L88.2,604.6 L88.7,604.4 L89.2,604.2 L89.7,604.1 L90.2,603.9 L90.7,603.7 L91.2,603.6 L91.7,603.4 L92.2,603.2 L92.7,603.1 L93.2,602.9 L93.7,602.7 L94.2,602.6 L94.7,602.4 L95.2,602.2 L95.7,602.1 L96.2,601.9 L96.7,601.7 L97.2,601.6 L97.7,601.4 L98.2,601.3 L98.7,601.1 L99.2,600.9 L99.7,600.8 L100.2,600.6 L100.7,600.4 L101.2,600.2 L101.7,600.1 L102.2,599.9 L102.7,599.7 L103.2,599.6 L103.8,599.4 L104.3,599.2 L104.8,599.0 L105.3,598.8 L105.8,598.7 L106.3,598.5 L106.8,598.3 L107.3,598.1 L107.8,597.9 L108.3,597.7 L108.8,597.6 L109.3,597.4 L109.8,597.2 L110.3,597.0 L110.8,596.8 L111.3,596.6 L111.8,596.4 L112.3,596.2 L112.8,595.9 L113.3,595.7 L113.8,595.5 L114.3,595.3 L114.8,595.1 L115.3,594.9 L115.8,594.6 L116.3,594.4 L116.8,594.2 L117.4,593.9 L117.9,593.7 L118.4,593.4 L118.9,593.2 L119.4,592.9 L119.9,592.7 L120.4,592.4 L120.9,592.2 L121.4,591.9 L121.9,591.7 L122.5,591.4 L123.0,591.1 L123.5,590.9 L124.0,590.6 L124.5,590.4 L125.0,590.1 L125.5,589.8 L126.0,589.5 L126.5,589.3 L127.0,589.0 L127.6,588.7 L128.1,588.4 L128.6,588.1 L129.1,587.9 L129.6,587.6 L130.1,587.3 L130.6,587.0 L131.1,586.7 L131.6,586.4 L132.1,586.1 L132.7,585.9 L133.2,585.6 L133.7,585.3 L134.2,585.0 L134.7,584.7 L135.2,584.4 L135.7,584.1 L136.2,583.8 L136.7,583.5 L137.2,583.2 L137.7,582.9 L138.2,582.7 L138.7,582.4 L139.2,582.1 L139.7,581.8 L140.2,581.5 L140.7,581.2 L141.2,580.9 L141.7,580.6 L142.2,580.3 L142.7,580.0 L143.2,579.7 L143.7,579.4 L144.2,579.1 L144.7,578.8 L145.2,578.5 L145.8,578.2 L146.3,577.9 L146.8,577.6 L147.3,577.3 L147.8,577.0 L148.3,576.7 L148.8,576.4 L149.3,576.1 L149.8,575.8 L150.3,575.5 L150.8,575.1 L151.3,574.8 L151.8,574.5 L152.3,574.2 L152.8,573.9 L153.3,573.6 L153.8,573.3 L154.3,573.0 L154.8,572.6 L155.3,572.3 L155.8,572.0 L156.3,571.7 L156.8,571.4 L157.3,571.1 L157.8,570.7 L158.3,570.4 L158.8,570.1 L159.3,569.8 L159.8,569.5 L160.3,569.1 L160.8,568.8 L161.3,568.5 L161.8,568.2 L162.3,567.9 L162.8,567.5 L163.3,567.2 L163.8,566.9 L164.3,566.6 L164.8,566.2 L165.3,565.9 L165.8,565.6 L166.3,565.2 L166.8,564.9 L167.3,564.6 L167.8,564.3 L168.3,563.9 L168.8,563.6 L169.3,563.3 L169.8,562.9 L170.3,562.6 L170.8,562.3 L171.3,561.9 L171.8,561.6 L172.3,561.3 L172.8,560.9 L173.3,560.6 L173.8,560.3 L174.3,559.9 L174.8,559.6 L175.3,559.3 L175.8,558.9 L176.3,558.6 L176.8,558.3 L177.3,557.9 L177.8,557.6 L178.3,557.3 L178.8,556.9 L179.3,556.6 L179.8,556.2 L180.3,555.9 L180.8,555.6 L181.4,555.2 L181.9,554.9 L182.4,554.6 L182.9,554.2 L183.4,553.9 L183.9,553.5 L184.4,553.2 L184.9,552.9 L185.4,552.5 L185.9,552.2 L186.4,551.9 L186.9,551.5 L187.4,551.2 L187.9,550.9 L188.4,550.5 L189.0,550.2 L189.5,549.9 L190.0,549.6 L190.5,549.2 L191.0,548.9 L191.5,548.6 L192.0,548.3 L192.5,547.9 L193.0,547.6 L193.5,547.3 L194.0,547.0 L194.5,546.7 L195.0,546.4 L195.6,546.0 L196.1,545.7 L196.6,545.4 L197.1,545.1 L197.6,544.8 L198.1,544.5 L198.6,544.2 L199.1,543.9 L199.6,543.6 L200.1,543.3 L200.6,543.0 L201.1,542.7 L201.6,542.4 L202.1,542.1 L202.6,541.9 L203.1,541.6 L203.6,541.3 L204.1,541.0 L204.6,540.7 L205.1,540.5 L205.6,540.2 L206.1,539.9 L206.6,539.6 L207.1,539.4 L207.6,539.1 L208.1,538.8 L208.6,538.5 L209.1,538.3 L209.6,538.0 L210.2,537.7 L210.7,537.5 L211.2,537.2 L211.7,537.0 L212.2,536.7 L212.7,536.4 L213.2,536.2 L213.7,535.9 L214.2,535.7 L214.7,535.4 L215.2,535.1 L215.7,534.9 L216.2,534.6 L216.7,534.4 L217.2,534.1 L217.7,533.9 L218.2,533.6 L218.7,533.4 L219.2,533.1 L219.7,532.9 L220.2,532.6 L220.7,532.3 L221.2,532.1 L221.7,531.8 L222.2,531.6 L222.7,531.4 L223.2,531.1 L223.7,530.9 L224.2,530.6 L224.7,530.4 L225.2,530.1 L225.7,529.9 L226.2,529.6 L226.7,529.4 L227.2,529.1 L227.7,528.9 L228.2,528.7 L228.7,528.4 L229.2,528.2 L229.7,528.0 L230.2,527.7 L230.7,527.5 L231.2,527.3 L231.7,527.0 L232.2,526.8 L232.7,526.6 L233.2,526.4 L233.7,526.1 L234.2,525.9 L234.7,525.7 L235.2,525.5 L235.7,525.3 L236.2,525.1 L236.7,524.9 L237.2,524.7 L237.7,524.5 L238.2,524.3 L238.7,524.1 L239.2,523.9 L239.7,523.7 L240.2,523.5 L240.7,523.3 L241.2,523.1 L241.7,522.9 L242.2,522.7 L242.7,522.6 L243.2,522.4 L243.7,522.2 L244.3,522.0 L244.8,521.9 L245.3,521.7 L245.8,521.5 L246.3,521.4 L246.8,521.2 L247.3,521.1 L247.8,520.9 L248.3,520.8 L248.8,520.6 L249.4,520.5 L249.9,520.3 L250.4,520.2 L250.9,520.0 L251.4,519.9 L251.9,519.8 L252.4,519.6 L252.9,519.5 L253.4,519.4 L253.9,519.2 L254.4,519.1 L255.0,519.0 L255.5,518.9 L256.0,518.7 L256.5,518.6 L257.0,518.5 L257.5,518.4 L258.0,518.3 L258.5,518.2 L259.0,518.1 L259.5,517.9 L260.1,517.8 L260.6,517.7 L261.1,517.6 L261.6,517.5 L262.1,517.4 L262.6,517.3 L263.1,517.2 L263.6,517.1 L264.1,517.0 L264.6,516.9 L265.1,516.8 L265.6,516.7 L266.2,516.6 L266.7,516.5 L267.2,516.4 L267.7,516.3 L268.2,516.2 L268.7,516.1 L269.2,516.0 L269.7,515.9 L270.2,515.9 L270.7,515.8 L271.2,515.7 L271.7,515.6 L272.2,515.5 L272.7,515.4 L273.2,515.3 L273.8,515.3 L274.3,515.2 L274.8,515.1 L275.3,515.0 L275.8,515.0 L276.3,514.9 L276.8,514.8 L277.3,514.7 L277.8,514.7 L278.3,514.6 L278.8,514.5 L279.3,514.4 L279.8,514.4 L280.3,514.3 L280.9,514.3 L281.4,514.2 L281.9,514.1 L282.4,514.1 L282.9,514.0 L283.4,514.0 L283.9,513.9 L284.4,513.8 L284.9,513.8 L285.4,513.7 L285.9,513.7 L286.4,513.6 L287.0,513.6 L287.5,513.5 L288.0,513.5 L288.5,513.5 L289.0,513.4 L289.5,513.4 L290.0,513.3 L290.5,513.3 L291.0,513.3 L291.5,513.2 L292.1,513.2 L292.6,513.2 L293.1,513.1 L293.6,513.1 L294.1,513.1 L294.6,513.0 L295.1,513.0 L295.6,513.0 L296.1,513.0 L296.6,513.0 L297.2,512.9 L297.7,512.9 L298.2,512.9 L298.7,512.9 L299.2,512.9 L299.7,512.9 L300.2,512.8 L300.7,512.8 L301.2,512.8 L301.7,512.8 L302.3,512.8 L302.8,512.8 L303.3,512.8 L303.8,512.8 L304.3,512.8 L304.8,512.8 L305.3,512.8 L305.8,512.8 L306.3,512.8 L306.8,512.8 L307.3,512.8 L307.8,512.8 L308.4,512.8 L308.9,512.8 L309.4,512.9 L309.9,512.9 L310.4,512.9 L310.9,512.9 L311.4,512.9 L311.9,512.9 L312.4,513.0 L312.9,513.0 L313.4,513.0 L313.9,513.0 L314.4,513.0 L314.9,513.1 L315.5,513.1 L316.0,513.1 L316.5,513.2 L317.0,513.2 L317.5,513.2 L318.0,513.2 L318.5,513.3 L319.0,513.3 L319.5,513.3 L320.0,513.4 L320.5,513.4 L321.0,513.5 L321.5,513.5 L322.0,513.5 L322.6,513.6 L323.1,513.6 L323.6,513.7 L324.1,513.7 L324.6,513.8 L325.1,513.8 L325.6,513.9 L326.1,513.9 L326.6,513.9 L327.1,514.0 L327.6,514.1 L328.1,514.1 L328.6,514.2 L329.1,514.2 L329.6,514.3 L330.1,514.3 L330.6,514.4 L331.1,514.4 L331.6,514.5 L332.1,514.6 L332.6,514.6 L333.1,514.7 L333.6,514.7 L334.1,514.8 L334.6,514.9 L335.1,514.9 L335.6,515.0 L336.1,515.1 L336.6,515.1 L337.2,515.2 L337.7,515.3 L338.2,515.4 L338.7,515.4 L339.2,515.5 L339.7,515.6 L340.2,515.7 L340.7,515.7 L341.2,515.8 L341.7,515.9 L342.2,516.0 L342.7,516.0 L343.2,516.1 L343.7,516.2 L344.2,516.3 L344.7,516.4 L345.2,516.5 L345.7,516.5 L346.2,516.6 L346.7,516.7 L347.2,516.8 L347.7,516.9 L348.2,517.0 L348.7,517.1 L349.2,517.2 L349.7,517.3 L350.3,517.4 L350.8,517.4 L351.3,517.5 L351.8,517.6 L352.3,517.7 L352.8,517.8 L353.3,517.9 L353.8,518.0 L354.3,518.1 L354.8,518.2 L355.4,518.3 L355.9,518.4 L356.4,518.5 L356.9,518.6 L357.4,518.7 L357.9,518.8 L358.4,518.9 L358.9,519.0 L359.4,519.1 L359.9,519.2 L360.4,519.3 L361.0,519.4 L361.5,519.5 L362.0,519.6 L362.5,519.7 L363.0,519.8 L363.5,519.9 L364.0,520.0 L364.5,520.1 L365.0,520.2 L365.5,520.3 L366.1,520.4 L366.6,520.5 L367.1,520.6 L367.6,520.7 L368.1,520.8 L368.6,520.9 L369.1,521.0 L369.6,521.1 L370.1,521.2 L370.6,521.3 L371.1,521.4 L371.7,521.5 L372.2,521.5 L372.7,521.6 L373.2,521.7 L373.7,521.8 L374.2,521.9 L374.7,522.0 L375.2,522.1 L375.7,522.2 L376.2,522.3 L376.8,522.3 L377.3,522.4 L377.8,522.5 L378.3,522.6 L378.8,522.7 L379.3,522.8 L379.8,522.8 L380.3,522.9 L380.8,523.0 L381.3,523.1 L381.9,523.2 L382.4,523.2 L382.9,523.3 L383.4,523.4 L383.9,523.5 L384.4,523.6 L384.9,523.6 L385.4,523.7 L385.9,523.8 L386.4,523.9 L387.0,523.9 L387.5,524.0 L388.0,524.1 L388.5,524.2 L389.0,524.2 L389.5,524.3 L390.0,524.4 L390.5,524.4 L391.0,524.5 L391.5,524.6 L392.0,524.7 L392.5,524.7 L393.1,524.8 L393.6,524.9 L394.1,524.9 L394.6,525.0 L395.1,525.0 L395.6,525.1 L396.1,525.2 L396.6,525.2 L397.1,525.3 L397.6,525.3 L398.1,525.4 L398.6,525.4 L399.1,525.4 L399.6,525.5 L400.1,525.5 L400.7,525.6 L401.2,525.6 L401.7,525.6 L402.2,525.6 L402.7,525.7 L403.2,525.7 L403.7,525.7 L404.2,525.7 L404.7,525.7 L405.2,525.7 L405.7,525.7 L406.2,525.7 L406.7,525.7 L407.2,525.7 L407.8,525.6 L408.3,525.6 L408.8,525.6 L409.3,525.5 L409.8,525.5 L410.3,525.5 L410.8,525.4 L411.3,525.3 L411.8,525.3 L412.3,525.2 L412.8,525.1 L413.3,525.1 L413.9,525.0 L414.4,524.9 L414.9,524.8 L415.4,524.7 L415.9,524.6 L416.4,524.5 L416.9,524.4 L417.4,524.3 L417.9,524.2 L418.4,524.1 L418.9,523.9 L419.4,523.8 L420.0,523.7 L420.5,523.6 L421.0,523.5 L421.5,523.3 L422.0,523.2 L422.5,523.1" fill="none" stroke="#000" stroke-width="1"/>
<path d="M72.7,409.7 L73.4,398.9 L74.1,389.7 L74.6,384.6 L75.1,380.8 L75.7,378.1 L76.2,376.2 L76.7,374.8 L77.2,373.5 L77.7,372.2 L78.2,370.9 L78.7,369.5 L79.2,368.1 L79.7,366.7 L80.2,365.4 L80.7,364.1 L81.2,363.0 L81.7,362.0 L82.2,361.1 L82.8,360.3 L83.3,359.7 L83.8,359.1 L84.3,358.7 L84.9,358.4 L85.4,358.1 L85.9,357.8 L86.5,357.6 L87.0,357.5 L87.5,357.3 L88.0,357.1 L88.5,357.0 L89.1,356.9 L89.6,356.8 L90.1,356.8 L90.6,356.9 L91.1,357.0 L91.6,357.2 L92.2,357.5 L92.7,358.0 L93.2,358.6 L93.7,359.3 L94.2,360.2 L94.8,361.2 L95.3,362.3 L95.8,363.5 L96.3,364.8 L96.8,366.1 L97.4,367.4 L97.9,368.8 L98.4,370.2 L98.9,371.6 L99.5,372.9 L100.0,374.2 L100.5,375.5 L101.0,376.7 L101.5,377.8 L102.0,378.8 L102.5,379.8 L103.1,380.7 L103.6,381.6 L104.1,382.5 L104.6,383.4 L105.1,384.2 L105.6,385.0 L106.1,385.8 L106.7,386.5 L107.2,387.3 L107.7,388.1 L108.2,388.9 L108.7,389.7 L109.2,390.5 L109.7,391.4 L110.2,392.2 L110.7,393.1 L111.2,394.0 L111.8,394.8 L112.3,395.7 L112.8,396.6 L113.3,397.4 L113.8,398.2 L114.3,399.0 L114.8,399.8 L115.3,400.5 L115.8,401.2 L116.3,401.9 L116.8,402.5 L117.3,403.1 L117.8,403.7 L118.4,404.3 L118.9,404.8 L119.4,405.4 L119.9,405.8 L120.4,406.3 L120.9,406.8 L121.4,407.2 L121.9,407.6 L122.4,408.0 L122.9,408.3 L123.4,408.7 L123.9,409.0 L124.4,409.3 L124.9,409.6 L125.5,409.8 L126.0,410.1 L126.5,410.3 L127.0,410.5 L127.5,410.7 L128.0,410.9 L128.5,411.1 L129.0,411.3 L129.5,411.4 L130.0,411.5 L130.5,411.7 L131.0,411.8 L131.5,411.9 L132.0,411.9 L132.6,412.0 L133.1,412.1 L133.6,412.1 L134.1,412.2 L134.6,412.2 L135.1,412.3 L135.6,412.3 L136.1,412.3 L136.6,412.3 L137.1,412.3 L137.6,412.4 L138.1,412.4 L138.6,412.3 L139.1,412.3 L139.6,412.3 L140.1,412.3 L140.6,412.3 L141.2,412.2 L141.7,412.2 L142.2,412.2 L142.7,412.1 L143.2,412.1 L143.7,412.0 L144.2,412.0 L144.7,411.9 L145.2,411.8 L145.7,411.8 L146.2,411.7 L146.7,411.6 L147.2,411.5 L147.7,411.5 L148.2,411.4 L148.7,411.3 L149.2,411.2 L149.7,411.1 L150.2,411.0 L150.7,410.9 L151.3,410.8 L151.8,410.7 L152.3,410.6 L152.8,410.5 L153.3,410.4 L153.8,410.3 L154.3,410.2 L154.8,410.1 L155.3,409.9 L155.8,409.8 L156.3,409.7 L156.8,409.6 L157.3,409.5 L157.8,409.3 L158.3,409.2 L158.8,409.1 L159.3,409.0 L159.8,408.9 L160.3,408.7 L160.8,408.6 L161.3,408.5 L161.8,408.4 L162.3,408.2 L162.8,408.1 L163.3,408.0 L163.8,407.9 L164.3,407.7 L164.8,407.6 L165.3,407.5 L165.8,407.4 L166.3,407.3 L166.8,407.1 L167.3,407.0 L167.8,406.9 L168.3,406.8 L168.8,406.7 L169.3,406.5 L169.8,406.4 L170.3,406.3 L170.8,406.2 L171.3,406.1 L171.8,406.0 L172.3,405.9 L172.8,405.8 L173.3,405.7 L173.8,405.6 L174.3,405.5 L174.8,405.4 L175.3,405.3 L175.8,405.2 L176.3,405.1 L176.8,405.0 L177.3,404.9 L177.8,404.8 L178.3,404.7 L178.8,404.6 L179.3,404.6 L179.8,404.5 L180.3,404.4 L180.8,404.3 L181.4,404.3 L181.9,404.2 L182.4,404.1 L182.9,404.1 L183.4,404.0 L183.9,403.9 L184.4,403.9 L184.9,403.8 L185.4,403.8 L185.9,403.7 L186.4,403.7 L186.9,403.6 L187.4,403.6 L187.9,403.5 L188.4,403.5 L189.0,403.5 L189.5,403.4 L190.0,403.4 L190.5,403.3 L191.0,403.3 L191.5,403.3 L192.0,403.2 L192.5,403.2 L193.0,403.2 L193.5,403.2 L194.0,403.1 L194.5,403.1 L195.0,403.1 L195.6,403.0 L196.1,403.0 L196.6,403.0 L197.1,403.0 L197.6,403.0 L198.1,402.9 L198.6,402.9 L199.1,402.9 L199.6,402.9 L200.1,402.9 L200.6,402.8 L201.1,402.8 L201.6,402.8 L202.1,402.8 L202.6,402.8 L203.1,402.8 L203.6,402.8 L204.1,402.7 L204.6,402.7 L205.1,402.7 L205.6,402.7 L206.1,402.7 L206.6,402.7 L207.1,402.7 L207.6,402.7 L208.1,402.7 L208.6,402.7 L209.1,402.7 L209.6,402.7 L210.2,402.7 L210.7,402.7 L211.2,402.7 L211.7,402.7 L212.2,402.7 L212.7,402.7 L213.2,402.7 L213.7,402.7 L214.2,402.7 L214.7,402.7 L215.2,402.7 L215.7,402.7 L216.2,402.7 L216.7,402.8 L217.2,402.8 L217.7,402.8 L218.2,402.8 L218.7,402.8 L219.2,402.9 L219.7,402.9 L220.2,402.9 L220.7,402.9 L221.2,403.0 L221.7,403.0 L222.2,403.0 L222.7,403.1 L223.3,403.1 L223.8,403.1 L224.3,403.2 L224.8,403.2 L225.3,403.2 L225.8,403.3 L226.3,403.3 L226.8,403.4 L227.3,403.4 L227.8,403.5 L228.4,403.5 L228.9,403.5 L229.4,403.6 L229.9,403.6 L230.4,403.7 L230.9,403.7 L231.4,403.8 L231.9,403.8 L232.4,403.9 L232.9,403.9 L233.4,404.0 L234.0,404.1 L234.5,404.1 L235.0,404.2 L235.5,404.2 L236.0,404.3 L236.5,404.3 L237.0,404.4 L237.5,404.4 L238.0,404.5 L238.5,404.6 L239.1,404.6 L239.6,404.7 L240.1,404.7 L240.6,404.8 L241.1,404.8 L241.6,404.9 L242.1,405.0 L242.6,405.0 L243.1,405.1 L243.6,405.1 L244.1,405.2 L244.6,405.2 L245.1,405.3 L245.7,405.3 L246.2,405.4 L246.7,405.5 L247.2,405.5 L247.7,405.6 L248.2,405.6 L248.7,405.7 L249.2,405.7 L249.7,405.8 L250.2,405.8 L250.7,405.9 L251.2,406.0 L251.7,406.0 L252.2,406.1 L252.8,406.1 L253.3,406.2 L253.8,406.2 L254.3,406.3 L254.8,406.4 L255.3,406.4 L255.8,406.5 L256.3,406.5 L256.8,406.6 L257.3,406.6 L257.8,406.7 L258.3,406.8 L258.8,406.8 L259.3,406.9 L259.9,406.9 L260.4,407.0 L260.9,407.1 L261.4,407.1 L261.9,407.2 L262.4,407.2 L262.9,407.3 L263.4,407.4 L263.9,407.4 L264.4,407.5 L264.9,407.5 L265.4,407.6 L265.9,407.7 L266.4,407.7 L266.9,407.8 L267.4,407.9 L267.9,407.9 L268.4,408.0 L268.9,408.1 L269.4,408.1 L269.9,408.2 L270.4,408.2 L270.9,408.3 L271.4,408.4 L271.9,408.4 L272.4,408.5 L272.9,408.6 L273.4,408.6 L273.9,408.7 L274.4,408.7 L274.9,408.8 L275.4,408.9 L275.9,408.9 L276.4,409.0 L276.9,409.0 L277.4,409.1 L277.9,409.2 L278.4,409.2 L278.9,409.3 L279.4,409.3 L279.9,409.4 L280.4,409.4 L280.9,409.5 L281.4,409.5 L281.9,409.6 L282.4,409.7 L282.9,409.7 L283.4,409.8 L283.9,409.8 L284.4,409.8 L284.9,409.9 L285.4,409.9 L285.9,410.0 L286.4,410.0 L286.9,410.1 L287.4,410.1 L287.9,410.2 L288.4,410.2 L288.9,410.2 L289.4,410.3 L289.9,410.3 L290.4,410.3 L290.9,410.4 L291.4,410.4 L291.9,410.5 L292.4,410.5 L292.9,410.5 L293.4,410.6 L293.9,410.6 L294.4,410.6 L295.0,410.6 L295.5,410.7 L296.0,410.7 L296.5,410.7 L297.0,410.8 L297.5,410.8 L298.0,410.8 L298.5,410.9 L299.0,410.9 L299.5,410.9 L300.0,410.9 L300.5,411.0 L301.0,411.0 L301.5,411.0 L302.0,411.0 L302.5,411.1 L303.0,411.1 L303.5,411.1 L304.0,411.1 L304.5,411.2 L305.0,411.2 L305.5,411.2 L306.0,411.3 L306.5,411.3 L307.0,411.3 L307.5,411.3 L308.0,411.4 L308.6,411.4 L309.1,411.4 L309.6,411.4 L310.1,411.5 L310.6,411.5 L311.1,411.5 L311.6,411.5 L312.1,411.6 L312.6,411.6 L313.1,411.6 L313.6,411.6 L314.1,411.6 L314.6,411.7 L315.1,411.7 L315.6,411.7 L316.2,411.7 L316.7,411.8 L317.2,411.8 L317.7,411.8 L318.2,411.8 L318.7,411.8 L319.2,411.9 L319.7,411.9 L320.2,411.9 L320.7,411.9 L321.2,411.9 L321.7,412.0 L322.2,412.0 L322.8,412.0 L323.3,412.0 L323.8,412.0 L324.3,412.0 L324.8,412.1 L325.3,412.1 L325.8,412.1 L326.3,412.1 L326.8,412.1 L327.3,412.1 L327.8,412.1 L328.3,412.1 L328.8,412.2 L329.3,412.2 L329.8,412.2 L330.3,412.2 L330.8,412.2 L331.3,412.2 L331.8,412.2 L332.3,412.2 L332.8,412.2 L333.3,412.2 L333.8,412.2 L334.3,412.2 L334.8,412.3 L335.3,412.3 L335.8,412.3 L336.3,412.3 L336.9,412.3 L337.4,412.3 L337.9,412.3 L338.4,412.3 L338.9,412.3 L339.4,412.3 L339.9,412.3 L340.4,412.3 L340.9,412.3 L341.4,412.3 L341.9,412.3 L342.4,412.3 L342.9,412.3 L343.4,412.3 L343.9,412.3 L344.4,412.3 L344.9,412.3 L345.4,412.3 L345.9,412.3 L346.4,412.3 L346.9,412.3 L347.4,412.3 L347.9,412.3 L348.4,412.3 L348.9,412.3 L349.4,412.3 L349.9,412.3 L350.4,412.3 L350.9,412.3 L351.4,412.3 L351.9,412.3 L352.4,412.3 L352.9,412.3 L353.4,412.3 L353.9,412.3 L354.4,412.3 L354.9,412.3 L355.4,412.3 L355.9,412.3 L356.4,412.3 L356.9,412.3 L357.4,412.3 L357.9,412.3 L358.5,412.3 L359.0,412.3 L359.5,412.3 L360.0,412.3 L360.5,412.3 L361.0,412.3 L361.5,412.3 L362.0,412.3 L362.5,412.3 L363.0,412.3 L363.5,412.3 L364.0,412.3 L364.5,412.3 L365.0,412.3 L365.5,412.3 L366.0,412.3 L366.5,412.3 L367.0,412.3 L367.5,412.3 L368.0,412.3 L368.5,412.3 L369.0,412.3 L369.5,412.3 L370.0,412.3 L370.5,412.3 L371.0,412.3 L371.5,412.3 L372.1,412.3 L372.6,412.3 L373.1,412.3 L373.6,412.3 L374.1,412.3 L374.6,412.3 L375.1,412.4 L375.6,412.4 L376.1,412.4 L376.6,412.4 L377.1,412.4 L377.6,412.4 L378.1,412.4 L378.6,412.4 L379.1,412.4 L379.7,412.4 L380.2,412.4 L380.7,412.4 L381.2,412.3 L381.7,412.3 L382.2,412.3 L382.7,412.3 L383.2,412.3 L383.7,412.3 L384.2,412.3 L384.7,412.3 L385.2,412.3 L385.7,412.3 L386.2,412.2 L386.8,412.2 L387.3,412.2 L387.8,412.2 L388.3,412.2 L388.8,412.2 L389.3,412.1 L389.8,412.1 L390.3,412.1 L390.8,412.0 L391.3,412.0 L391.8,412.0 L392.3,411.9 L392.8,411.9 L393.3,411.9 L393.8,411.8 L394.3,411.8 L394.8,411.7 L395.3,411.6 L395.8,411.6 L396.3,411.5 L396.8,411.4 L397.3,411.4 L397.8,411.3 L398.3,411.2 L398.8,411.1 L399.3,411.0 L399.8,410.9 L400.4,410.8 L400.9,410.7 L401.4,410.5 L401.9,410.4 L402.4,410.3 L402.9,410.1 L403.4,410.0 L403.9,409.8 L404.4,409.6 L404.9,409.4 L405.4,409.3 L405.9,409.1 L406.4,408.8 L406.9,408.6 L407.4,408.4 L407.9,408.2 L408.4,407.9 L408.9,407.6 L409.4,407.4 L409.9,407.1 L410.4,406.8 L410.9,406.5 L411.4,406.2 L411.9,405.8 L412.4,405.5 L412.9,405.2 L413.4,404.8 L413.9,404.4 L414.4,404.0 L415.0,403.6 L415.5,403.2 L416.0,402.8 L416.5,402.3 L417.0,401.9 L417.5,401.4 L418.0,400.9 L418.5,400.4 L419.0,399.9 L419.5,399.4 L420.0,398.8 L420.6,398.3 L421.1,397.8 L421.6,397.2 L422.1,396.7 L422.6,396.1" fill="none" stroke="#ff0000" stroke-width="1"/>
<path d="M72.7,484.8 L73.2,475.0 L73.7,466.0 L74.2,458.5 L74.7,453.0 L75.2,449.4 L75.8,447.1 L76.3,445.4 L76.8,443.8 L77.4,442.1 L77.9,440.5 L78.5,438.9 L79.0,437.3 L79.6,435.9 L80.1,434.6 L80.6,433.5 L81.1,432.6 L81.6,431.7 L82.1,430.9 L82.6,430.3 L83.1,429.7 L83.6,429.1 L84.1,428.7 L84.6,428.2 L85.1,427.9 L85.6,427.5 L86.1,427.1 L86.7,426.8 L87.2,426.5 L87.8,426.2 L88.3,425.9 L88.8,425.7 L89.4,425.5 L89.9,425.4 L90.5,425.3 L91.0,425.3 L91.6,425.3 L92.1,425.4 L92.7,425.6 L93.2,425.9 L93.7,426.3 L94.2,426.7 L94.8,427.3 L95.3,427.9 L95.8,428.5 L96.3,429.3 L96.8,430.1 L97.4,430.9 L97.9,431.8 L98.4,432.7 L98.9,433.7 L99.4,434.6 L100.0,435.6 L100.5,436.6 L101.0,437.7 L101.5,438.7 L102.0,439.7 L102.6,440.7 L103.1,441.6 L103.6,442.6 L104.1,443.5 L104.6,444.4 L105.1,445.2 L105.6,446.1 L106.2,446.9 L106.7,447.7 L107.2,448.5 L107.7,449.3 L108.2,450.0 L108.7,450.8 L109.2,451.6 L109.7,452.3 L110.2,453.1 L110.7,453.8 L111.2,454.6 L111.8,455.3 L112.3,456.0 L112.8,456.7 L113.3,457.4 L113.8,458.0 L114.3,458.6 L114.8,459.2 L115.3,459.7 L115.8,460.2 L116.3,460.7 L116.8,461.1 L117.3,461.5 L117.8,461.9 L118.4,462.3 L118.9,462.6 L119.4,462.9 L119.9,463.1 L120.4,463.4 L120.9,463.6 L121.4,463.8 L121.9,464.0 L122.4,464.1 L122.9,464.2 L123.4,464.3 L123.9,464.4 L124.4,464.4 L124.9,464.5 L125.5,464.5 L126.0,464.5 L126.5,464.4 L127.0,464.4 L127.5,464.3 L128.0,464.3 L128.5,464.2 L129.0,464.1 L129.5,463.9 L130.0,463.8 L130.5,463.6 L131.0,463.5 L131.5,463.3 L132.0,463.1 L132.6,462.9 L133.1,462.7 L133.6,462.5 L134.1,462.2 L134.6,462.0 L135.1,461.8 L135.6,461.5 L136.1,461.2 L136.6,461.0 L137.1,460.7 L137.6,460.4 L138.1,460.2 L138.6,459.9 L139.1,459.6 L139.6,459.3 L140.1,459.0 L140.6,458.7 L141.1,458.3 L141.6,458.0 L142.1,457.7 L142.6,457.4 L143.1,457.0 L143.6,456.7 L144.1,456.3 L144.6,456.0 L145.1,455.6 L145.6,455.3 L146.1,454.9 L146.6,454.5 L147.1,454.2 L147.6,453.8 L148.1,453.4 L148.6,453.0 L149.1,452.6 L149.6,452.3 L150.1,451.9 L150.6,451.5 L151.1,451.1 L151.6,450.6 L152.1,450.2 L152.6,449.8 L153.1,449.4 L153.6,449.0 L154.1,448.6 L154.6,448.2 L155.1,447.7 L155.6,447.3 L156.1,446.9 L156.6,446.4 L157.1,446.0 L157.6,445.6 L158.1,445.1 L158.6,444.7 L159.1,444.2 L159.6,443.8 L160.1,443.3 L160.6,442.9 L161.1,442.4 L161.6,442.0 L162.1,441.5 L162.7,441.1 L163.2,440.6 L163.7,440.1 L164.2,439.7 L164.7,439.2 L165.2,438.8 L165.7,438.3 L166.2,437.8 L166.7,437.4 L167.2,436.9 L167.7,436.5 L168.2,436.0 L168.7,435.6 L169.2,435.1 L169.7,434.6 L170.2,434.2 L170.7,433.7 L171.2,433.3 L171.7,432.8 L172.2,432.4 L172.8,431.9 L173.3,431.5 L173.8,431.0 L174.3,430.6 L174.8,430.1 L175.3,429.7 L175.8,429.2 L176.3,428.8 L176.8,428.4 L177.3,427.9 L177.8,427.5 L178.3,427.1 L178.8,426.6 L179.3,426.2 L179.8,425.8 L180.3,425.4 L180.8,425.0 L181.4,424.5 L181.9,424.1 L182.4,423.7 L182.9,423.3 L183.4,422.9 L183.9,422.5 L184.4,422.1 L184.9,421.7 L185.4,421.3 L185.9,420.9 L186.4,420.5 L186.9,420.1 L187.4,419.8 L187.9,419.4 L188.4,419.0 L189.0,418.6 L189.5,418.3 L190.0,417.9 L190.5,417.5 L191.0,417.2 L191.5,416.8 L192.0,416.4 L192.5,416.1 L193.0,415.7 L193.5,415.4 L194.0,415.0 L194.5,414.7 L195.0,414.3 L195.6,414.0 L196.1,413.7 L196.6,413.3 L197.1,413.0 L197.6,412.7 L198.1,412.3 L198.6,412.0 L199.1,411.7 L199.6,411.4 L200.1,411.1 L200.6,410.8 L201.1,410.5 L201.6,410.2 L202.1,409.9 L202.6,409.6 L203.1,409.3 L203.6,409.0 L204.1,408.7 L204.6,408.4 L205.1,408.1 L205.6,407.8 L206.1,407.5 L206.6,407.2 L207.1,407.0 L207.6,406.7 L208.1,406.4 L208.6,406.2 L209.1,405.9 L209.6,405.6 L210.2,405.4 L210.7,405.1 L211.2,404.8 L211.7,404.6 L212.2,404.3 L212.7,404.1 L213.2,403.8 L213.7,403.6 L214.2,403.3 L214.7,403.1 L215.2,402.8 L215.7,402.6 L216.2,402.3 L216.7,402.1 L217.2,401.9 L217.7,401.6 L218.2,401.4 L218.7,401.2 L219.2,401.0 L219.7,400.7 L220.2,400.5 L220.7,400.3 L221.2,400.0 L221.7,399.8 L222.2,399.6 L222.7,399.4 L223.3,399.2 L223.8,399.0 L224.3,398.7 L224.8,398.5 L225.3,398.3 L225.8,398.1 L226.3,397.9 L226.8,397.7 L227.3,397.5 L227.8,397.3 L228.4,397.1 L228.9,396.9 L229.4,396.7 L229.9,396.5 L230.4,396.3 L230.9,396.1 L231.4,396.0 L231.9,395.8 L232.4,395.6 L232.9,395.4 L233.4,395.2 L234.0,395.1 L234.5,394.9 L235.0,394.7 L235.5,394.6 L236.0,394.4 L236.5,394.3 L237.0,394.1 L237.5,393.9 L238.0,393.8 L238.5,393.6 L239.1,393.5 L239.6,393.3 L240.1,393.2 L240.6,393.1 L241.1,392.9 L241.6,392.8 L242.1,392.7 L242.6,392.5 L243.1,392.4 L243.6,392.3 L244.1,392.2 L244.6,392.1 L245.1,392.0 L245.7,391.8 L246.2,391.7 L246.7,391.6 L247.2,391.5 L247.7,391.4 L248.2,391.3 L248.7,391.2 L249.2,391.1 L249.7,391.0 L250.2,390.9 L250.7,390.9 L251.2,390.8 L251.7,390.7 L252.2,390.6 L252.8,390.5 L253.3,390.5 L253.8,390.4 L254.3,390.3 L254.8,390.2 L255.3,390.2 L255.8,390.1 L256.3,390.0 L256.8,390.0 L257.3,389.9 L257.8,389.8 L258.3,389.8 L258.8,389.7 L259.3,389.7 L259.9,389.6 L260.4,389.6 L260.9,389.5 L261.4,389.4 L261.9,389.4 L262.4,389.3 L262.9,389.3 L263.4,389.3 L263.9,389.2 L264.4,389.2 L264.9,389.1 L265.4,389.1 L265.9,389.0 L266.4,389.0 L266.9,389.0 L267.4,388.9 L267.9,388.9 L268.4,388.9 L268.9,388.8 L269.4,388.8 L269.9,388.8 L270.4,388.7 L270.9,388.7 L271.4,388.7 L271.9,388.6 L272.4,388.6 L272.9,388.6 L273.4,388.6 L273.9,388.5 L274.4,388.5 L274.9,388.5 L275.4,388.5 L275.9,388.5 L276.4,388.4 L276.9,388.4 L277.4,388.4 L277.9,388.4 L278.4,388.4 L278.9,388.4 L279.4,388.4 L279.9,388.4 L280.4,388.3 L280.9,388.3 L281.4,388.3 L281.9,388.3 L282.4,388.3 L282.9,388.3 L283.4,388.3 L283.9,388.3 L284.4,388.3 L284.9,388.3 L285.4,388.3 L285.9,388.3 L286.4,388.3 L286.9,388.3 L287.4,388.3 L287.9,388.3 L288.4,388.3 L288.9,388.3 L289.4,388.3 L289.9,388.3 L290.4,388.3 L290.9,388.3 L291.4,388.4 L291.9,388.4 L292.4,388.4 L292.9,388.4 L293.4,388.4 L293.9,388.4 L294.4,388.4 L295.0,388.5 L295.5,388.5 L296.0,388.5 L296.5,388.5 L297.0,388.5 L297.5,388.5 L298.0,388.6 L298.5,388.6 L299.0,388.6 L299.5,388.6 L300.0,388.6 L300.5,388.7 L301.0,388.7 L301.5,388.7 L302.0,388.7 L302.5,388.8 L303.0,388.8 L303.5,388.8 L304.0,388.8 L304.5,388.9 L305.0,388.9 L305.5,388.9 L306.0,389.0 L306.5,389.0 L307.0,389.0 L307.5,389.1 L308.0,389.1 L308.6,389.1 L309.1,389.1 L309.6,389.2 L310.1,389.2 L310.6,389.3 L311.1,389.3 L311.6,389.3 L312.1,389.4 L312.6,389.4 L313.1,389.4 L313.6,389.5 L314.1,389.5 L314.6,389.6 L315.1,389.6 L315.6,389.6 L316.2,389.7 L316.7,389.7 L317.2,389.8 L317.7,389.8 L318.2,389.9 L318.7,389.9 L319.2,390.0 L319.7,390.0 L320.2,390.1 L320.7,390.1 L321.2,390.2 L321.7,390.2 L322.2,390.3 L322.8,390.3 L323.3,390.4 L323.8,390.4 L324.3,390.5 L324.8,390.5 L325.3,390.6 L325.8,390.6 L326.3,390.7 L326.8,390.8 L327.3,390.8 L327.8,390.9 L328.3,390.9 L328.8,391.0 L329.3,391.1 L329.8,391.1 L330.3,391.2 L330.8,391.3 L331.3,391.3 L331.8,391.4 L332.3,391.5 L332.8,391.5 L333.3,391.6 L333.8,391.7 L334.3,391.7 L334.8,391.8 L335.3,391.9 L335.8,392.0 L336.3,392.0 L336.9,392.1 L337.4,392.2 L337.9,392.3 L338.4,392.3 L338.9,392.4 L339.4,392.5 L339.9,392.6 L340.4,392.6 L340.9,392.7 L341.4,392.8 L341.9,392.9 L342.4,393.0 L342.9,393.0 L343.4,393.1 L343.9,393.2 L344.4,393.3 L344.9,393.4 L345.4,393.5 L345.9,393.5 L346.4,393.6 L346.9,393.7 L347.4,393.8 L347.9,393.9 L348.4,394.0 L348.9,394.1 L349.4,394.1 L349.9,394.2 L350.4,394.3 L350.9,394.4 L351.4,394.5 L351.9,394.6 L352.4,394.7 L352.9,394.8 L353.4,394.9 L353.9,395.0 L354.4,395.0 L354.9,395.1 L355.4,395.2 L355.9,395.3 L356.4,395.4 L356.9,395.5 L357.4,395.6 L357.9,395.7 L358.5,395.8 L359.0,395.9 L359.5,396.0 L360.0,396.1 L360.5,396.2 L361.0,396.3 L361.5,396.4 L362.0,396.4 L362.5,396.5 L363.0,396.6 L363.5,396.7 L364.0,396.8 L364.5,396.9 L365.0,397.0 L365.5,397.1 L366.0,397.2 L366.5,397.3 L367.0,397.4 L367.5,397.5 L368.0,397.6 L368.5,397.7 L369.0,397.8 L369.5,397.9 L370.0,398.0 L370.5,398.1 L371.0,398.2 L371.5,398.3 L372.1,398.4 L372.6,398.5 L373.1,398.6 L373.6,398.7 L374.1,398.8 L374.6,398.9 L375.1,399.0 L375.6,399.1 L376.1,399.1 L376.6,399.2 L377.1,399.3 L377.6,399.4 L378.1,399.5 L378.6,399.6 L379.1,399.7 L379.7,399.8 L380.2,399.8 L380.7,399.9 L381.2,400.0 L381.7,400.1 L382.2,400.1 L382.7,400.2 L383.2,400.3 L383.7,400.4 L384.2,400.4 L384.7,400.5 L385.2,400.6 L385.7,400.6 L386.2,400.7 L386.8,400.7 L387.3,400.8 L387.8,400.8 L388.3,400.9 L388.8,400.9 L389.3,401.0 L389.8,401.0 L390.3,401.0 L390.8,401.1 L391.3,401.1 L391.8,401.1 L392.3,401.1 L392.8,401.2 L393.3,401.2 L393.8,401.2 L394.3,401.2 L394.8,401.2 L395.3,401.2 L395.8,401.2 L396.3,401.1 L396.8,401.1 L397.3,401.1 L397.8,401.0 L398.3,401.0 L398.8,400.9 L399.3,400.9 L399.8,400.8 L400.4,400.7 L400.9,400.6 L401.4,400.5 L401.9,400.4 L402.4,400.3 L402.9,400.2 L403.4,400.1 L403.9,399.9 L404.4,399.8 L404.9,399.6 L405.4,399.4 L405.9,399.2 L406.4,399.0 L406.9,398.8 L407.4,398.6 L407.9,398.4 L408.4,398.1 L408.9,397.9 L409.4,397.6 L409.9,397.3 L410.4,397.0 L410.9,396.7 L411.4,396.4 L411.9,396.0 L412.4,395.7 L412.9,395.3 L413.4,394.9 L413.9,394.5 L414.4,394.1 L415.0,393.6 L415.5,393.2 L416.0,392.7 L416.5,392.2 L417.0,391.7 L417.5,391.2 L418.0,390.6 L418.5,390.0 L419.0,389.5 L419.5,388.9 L420.0,388.2 L420.5,387.6 L421.0,387.0 L421.5,386.3 L422.0,385.7 L422.5,385.1 L423.0,384.4" fill="none" stroke="#0000ff" stroke-width="1"/>
<clipPath id="c3"><rect x="72.00" y="330" width="400" height="310"/></clipPath>
<g clip-path="url(#c3)">
<rect x="69.80" y="606.90" width="5.8" height="5.8" fill="#fff" stroke="#000" stroke-width="1"/>
<rect x="90.30" y="600.00" width="5.8" height="5.8" fill="#fff" stroke="#000" stroke-width="1"/>
<rect x="111.40" y="592.40" width="5.8" height="5.8" fill="#fff" stroke="#000" stroke-width="1"/>
<rect x="132.30" y="581.50" width="5.8" height="5.8" fill="#fff" stroke="#000" stroke-width="1"/>
<rect x="153.40" y="568.80" width="5.8" height="5.8" fill="#fff" stroke="#000" stroke-width="1"/>
<rect x="174.90" y="554.70" width="5.8" height="5.8" fill="#fff" stroke="#000" stroke-width="1"/>
<rect x="196.20" y="541.00" width="5.8" height="5.8" fill="#fff" stroke="#000" stroke-width="1"/>
<rect x="217.30" y="529.70" width="5.8" height="5.8" fill="#fff" stroke="#000" stroke-width="1"/>
<rect x="238.30" y="520.20" width="5.8" height="5.8" fill="#fff" stroke="#000" stroke-width="1"/>
<rect x="259.70" y="514.40" width="5.8" height="5.8" fill="#fff" stroke="#000" stroke-width="1"/>
<rect x="281.00" y="511.00" width="5.8" height="5.8" fill="#fff" stroke="#000" stroke-width="1"/>
<rect x="301.90" y="509.90" width="5.8" height="5.8" fill="#fff" stroke="#000" stroke-width="1"/>
<rect x="323.20" y="511.00" width="5.8" height="5.8" fill="#fff" stroke="#000" stroke-width="1"/>
<rect x="344.30" y="513.90" width="5.8" height="5.8" fill="#fff" stroke="#000" stroke-width="1"/>
<rect x="365.70" y="518.00" width="5.8" height="5.8" fill="#fff" stroke="#000" stroke-width="1"/>
<rect x="386.60" y="521.40" width="5.8" height="5.8" fill="#fff" stroke="#000" stroke-width="1"/>
<rect x="407.90" y="522.50" width="5.8" height="5.8" fill="#fff" stroke="#000" stroke-width="1"/>
<circle cx="72.70" cy="409.70" r="3.15" fill="#fff" stroke="#ff0000" stroke-width="1"/>
<circle cx="93.20" cy="358.60" r="3.15" fill="#fff" stroke="#ff0000" stroke-width="1"/>
<circle cx="114.30" cy="399.00" r="3.15" fill="#fff" stroke="#ff0000" stroke-width="1"/>
<circle cx="135.60" cy="412.30" r="3.15" fill="#fff" stroke="#ff0000" stroke-width="1"/>
<circle cx="156.30" cy="409.70" r="3.15" fill="#fff" stroke="#ff0000" stroke-width="1"/>
<circle cx="177.80" cy="404.80" r="3.15" fill="#fff" stroke="#ff0000" stroke-width="1"/>
<circle cx="199.10" cy="402.90" r="3.15" fill="#fff" stroke="#ff0000" stroke-width="1"/>
<circle cx="220.20" cy="402.90" r="3.15" fill="#fff" stroke="#ff0000" stroke-width="1"/>
<circle cx="241.60" cy="404.90" r="3.15" fill="#fff" stroke="#ff0000" stroke-width="1"/>
<circle cx="262.90" cy="407.30" r="3.15" fill="#fff" stroke="#ff0000" stroke-width="1"/>
<circle cx="283.90" cy="409.80" r="3.15" fill="#fff" stroke="#ff0000" stroke-width="1"/>
<circle cx="305.00" cy="411.20" r="3.15" fill="#fff" stroke="#ff0000" stroke-width="1"/>
<circle cx="326.30" cy="412.10" r="3.15" fill="#fff" stroke="#ff0000" stroke-width="1"/>
<circle cx="347.40" cy="412.30" r="3.15" fill="#fff" stroke="#ff0000" stroke-width="1"/>
<circle cx="368.50" cy="412.30" r="3.15" fill="#fff" stroke="#ff0000" stroke-width="1"/>
<circle cx="389.80" cy="412.10" r="3.15" fill="#fff" stroke="#ff0000" stroke-width="1"/>
<circle cx="410.90" cy="406.50" r="3.15" fill="#fff" stroke="#ff0000" stroke-width="1"/>
<path d="M72.70,481.00 L76.20,487.60 L69.20,487.60 Z" fill="#fff" stroke="#0000ff" stroke-width="1"/>
<path d="M93.20,422.10 L96.70,428.70 L89.70,428.70 Z" fill="#fff" stroke="#0000ff" stroke-width="1"/>
<path d="M114.30,454.80 L117.80,461.40 L110.80,461.40 Z" fill="#fff" stroke="#0000ff" stroke-width="1"/>
<path d="M135.60,457.70 L139.10,464.30 L132.10,464.30 Z" fill="#fff" stroke="#0000ff" stroke-width="1"/>
<path d="M157.10,442.20 L160.60,448.80 L153.60,448.80 Z" fill="#fff" stroke="#0000ff" stroke-width="1"/>
<path d="M177.80,423.70 L181.30,430.30 L174.30,430.30 Z" fill="#fff" stroke="#0000ff" stroke-width="1"/>
<path d="M199.10,407.90 L202.60,414.50 L195.60,414.50 Z" fill="#fff" stroke="#0000ff" stroke-width="1"/>
<path d="M220.20,396.70 L223.70,403.30 L216.70,403.30 Z" fill="#fff" stroke="#0000ff" stroke-width="1"/>
<path d="M241.60,389.00 L245.10,395.60 L238.10,395.60 Z" fill="#fff" stroke="#0000ff" stroke-width="1"/>
<path d="M262.90,385.50 L266.40,392.10 L259.40,392.10 Z" fill="#fff" stroke="#0000ff" stroke-width="1"/>
<path d="M283.90,384.50 L287.40,391.10 L280.40,391.10 Z" fill="#fff" stroke="#0000ff" stroke-width="1"/>
<path d="M305.00,385.10 L308.50,391.70 L301.50,391.70 Z" fill="#fff" stroke="#0000ff" stroke-width="1"/>
<path d="M326.30,386.90 L329.80,393.50 L322.80,393.50 Z" fill="#fff" stroke="#0000ff" stroke-width="1"/>
<path d="M347.40,390.00 L350.90,396.60 L343.90,396.60 Z" fill="#fff" stroke="#0000ff" stroke-width="1"/>
<path d="M368.50,393.90 L372.00,400.50 L365.00,400.50 Z" fill="#fff" stroke="#0000ff" stroke-width="1"/>
<path d="M389.80,397.20 L393.30,403.80 L386.30,403.80 Z" fill="#fff" stroke="#0000ff" stroke-width="1"/>
<path d="M410.90,392.90 L414.40,399.50 L407.40,399.50 Z" fill="#fff" stroke="#0000ff" stroke-width="1"/>
</g>
<line x1="72.00" y1="340.90" x2="72.00" y2="632.20" stroke="#4a4a4a" stroke-width="1.8"/>
<rect x="226.1" y="541.5" width="215" height="76.6" fill="#fff" stroke="#888" stroke-width="1"/>
<line x1="233.40" y1="554.50" x2="279.90" y2="554.50" stroke="#555" stroke-width="1.4"/>
<rect x="253.60" y="551.60" width="5.8" height="5.8" fill="#fff" stroke="#000" stroke-width="1"/>
<line x1="233.40" y1="580.20" x2="279.90" y2="580.20" stroke="#ff4040" stroke-width="1"/>
<circle cx="256.50" cy="580.20" r="3.15" fill="#fff" stroke="#ff0000" stroke-width="1"/>
<line x1="233.40" y1="605.70" x2="279.90" y2="605.70" stroke="#6a6aff" stroke-width="1.2"/>
<path d="M256.50,601.90 L260.00,608.50 L253.00,608.50 Z" fill="#fff" stroke="#0000ff" stroke-width="1"/>
<text transform="translate(286.00,561.80) scale(1,1.030)" font-size="20.8" text-anchor="start" fill="#000" stroke="#000" >Entropy&#160; change</text>
<text transform="translate(286.00,587.40) scale(1,1.030)" font-size="20.8" text-anchor="start" fill="#000" stroke="#000" >Overpotentical</text>
<text transform="translate(286.00,612.80) scale(1,1.030)" font-size="20.8" text-anchor="start" fill="#000" stroke="#000" >Total</text>
<line x1="573.20" y1="340.90" x2="573.20" y2="631.90" stroke="#4a4a4a" stroke-width="1.8"/>
<line x1="572.45" y1="631.90" x2="954.30" y2="631.90" stroke="#1a1a1a" stroke-width="1.5"/>
<line x1="573.20" y1="631.90" x2="577.90" y2="631.90" stroke="#1a1a1a" stroke-width="1.2"/>
<text transform="translate(568.00,636.90) scale(1,1.050)" font-size="15" text-anchor="end" fill="#000" stroke="#000" >-5</text>
<line x1="573.20" y1="619.77" x2="575.90" y2="619.77" stroke="#1a1a1a" stroke-width="1.2"/>
<line x1="573.20" y1="607.65" x2="577.90" y2="607.65" stroke="#1a1a1a" stroke-width="1.2"/>
<text transform="translate(568.00,612.65) scale(1,1.050)" font-size="15" text-anchor="end" fill="#000" stroke="#000" >0</text>
<line x1="573.20" y1="595.52" x2="575.90" y2="595.52" stroke="#1a1a1a" stroke-width="1.2"/>
<line x1="573.20" y1="583.40" x2="577.90" y2="583.40" stroke="#1a1a1a" stroke-width="1.2"/>
<text transform="translate(568.00,588.40) scale(1,1.050)" font-size="15" text-anchor="end" fill="#000" stroke="#000" >5</text>
<line x1="573.20" y1="571.27" x2="575.90" y2="571.27" stroke="#1a1a1a" stroke-width="1.2"/>
<line x1="573.20" y1="559.15" x2="577.90" y2="559.15" stroke="#1a1a1a" stroke-width="1.2"/>
<text transform="translate(568.00,564.15) scale(1,1.050)" font-size="15" text-anchor="end" fill="#000" stroke="#000" >10</text>
<line x1="573.20" y1="547.02" x2="575.90" y2="547.02" stroke="#1a1a1a" stroke-width="1.2"/>
<line x1="573.20" y1="534.90" x2="577.90" y2="534.90" stroke="#1a1a1a" stroke-width="1.2"/>
<text transform="translate(568.00,539.90) scale(1,1.050)" font-size="15" text-anchor="end" fill="#000" stroke="#000" >15</text>
<line x1="573.20" y1="522.77" x2="575.90" y2="522.77" stroke="#1a1a1a" stroke-width="1.2"/>
<line x1="573.20" y1="510.65" x2="577.90" y2="510.65" stroke="#1a1a1a" stroke-width="1.2"/>
<text transform="translate(568.00,515.65) scale(1,1.050)" font-size="15" text-anchor="end" fill="#000" stroke="#000" >20</text>
<line x1="573.20" y1="498.52" x2="575.90" y2="498.52" stroke="#1a1a1a" stroke-width="1.2"/>
<line x1="573.20" y1="486.40" x2="577.90" y2="486.40" stroke="#1a1a1a" stroke-width="1.2"/>
<text transform="translate(568.00,491.40) scale(1,1.050)" font-size="15" text-anchor="end" fill="#000" stroke="#000" >25</text>
<line x1="573.20" y1="474.27" x2="575.90" y2="474.27" stroke="#1a1a1a" stroke-width="1.2"/>
<line x1="573.20" y1="462.15" x2="577.90" y2="462.15" stroke="#1a1a1a" stroke-width="1.2"/>
<text transform="translate(568.00,467.15) scale(1,1.050)" font-size="15" text-anchor="end" fill="#000" stroke="#000" >30</text>
<line x1="573.20" y1="450.02" x2="575.90" y2="450.02" stroke="#1a1a1a" stroke-width="1.2"/>
<line x1="573.20" y1="437.90" x2="577.90" y2="437.90" stroke="#1a1a1a" stroke-width="1.2"/>
<text transform="translate(568.00,442.90) scale(1,1.050)" font-size="15" text-anchor="end" fill="#000" stroke="#000" >35</text>
<line x1="573.20" y1="425.77" x2="575.90" y2="425.77" stroke="#1a1a1a" stroke-width="1.2"/>
<line x1="573.20" y1="413.65" x2="577.90" y2="413.65" stroke="#1a1a1a" stroke-width="1.2"/>
<text transform="translate(568.00,418.65) scale(1,1.050)" font-size="15" text-anchor="end" fill="#000" stroke="#000" >40</text>
<line x1="573.20" y1="401.52" x2="575.90" y2="401.52" stroke="#1a1a1a" stroke-width="1.2"/>
<line x1="573.20" y1="389.40" x2="577.90" y2="389.40" stroke="#1a1a1a" stroke-width="1.2"/>
<text transform="translate(568.00,394.40) scale(1,1.050)" font-size="15" text-anchor="end" fill="#000" stroke="#000" >45</text>
<line x1="573.20" y1="377.27" x2="575.90" y2="377.27" stroke="#1a1a1a" stroke-width="1.2"/>
<line x1="573.20" y1="365.15" x2="577.90" y2="365.15" stroke="#1a1a1a" stroke-width="1.2"/>
<text transform="translate(568.00,370.15) scale(1,1.050)" font-size="15" text-anchor="end" fill="#000" stroke="#000" >50</text>
<line x1="573.20" y1="353.02" x2="575.90" y2="353.02" stroke="#1a1a1a" stroke-width="1.2"/>
<line x1="573.20" y1="340.90" x2="577.90" y2="340.90" stroke="#1a1a1a" stroke-width="1.2"/>
<text transform="translate(568.00,345.90) scale(1,1.050)" font-size="15" text-anchor="end" fill="#000" stroke="#000" >55</text>
<text transform="translate(573.20,649.80) scale(1,1.050)" font-size="15" text-anchor="middle" fill="#000" stroke="#000" >100</text>
<line x1="592.25" y1="629.10" x2="592.25" y2="631.90" stroke="#1a1a1a" stroke-width="1.2"/>
<line x1="611.31" y1="626.90" x2="611.31" y2="631.90" stroke="#1a1a1a" stroke-width="1.2"/>
<text transform="translate(611.31,649.80) scale(1,1.050)" font-size="15" text-anchor="middle" fill="#000" stroke="#000" >90</text>
<line x1="630.37" y1="629.10" x2="630.37" y2="631.90" stroke="#1a1a1a" stroke-width="1.2"/>
<line x1="649.42" y1="626.90" x2="649.42" y2="631.90" stroke="#1a1a1a" stroke-width="1.2"/>
<text transform="translate(649.42,649.80) scale(1,1.050)" font-size="15" text-anchor="middle" fill="#000" stroke="#000" >80</text>
<line x1="668.48" y1="629.10" x2="668.48" y2="631.90" stroke="#1a1a1a" stroke-width="1.2"/>
<line x1="687.53" y1="626.90" x2="687.53" y2="631.90" stroke="#1a1a1a" stroke-width="1.2"/>
<text transform="translate(687.53,649.80) scale(1,1.050)" font-size="15" text-anchor="middle" fill="#000" stroke="#000" >70</text>
<line x1="706.59" y1="629.10" x2="706.59" y2="631.90" stroke="#1a1a1a" stroke-width="1.2"/>
<line x1="725.64" y1="626.90" x2="725.64" y2="631.90" stroke="#1a1a1a" stroke-width="1.2"/>
<text transform="translate(725.64,649.80) scale(1,1.050)" font-size="15" text-anchor="middle" fill="#000" stroke="#000" >60</text>
<line x1="744.70" y1="629.10" x2="744.70" y2="631.90" stroke="#1a1a1a" stroke-width="1.2"/>
<line x1="763.75" y1="626.90" x2="763.75" y2="631.90" stroke="#1a1a1a" stroke-width="1.2"/>
<text transform="translate(763.75,649.80) scale(1,1.050)" font-size="15" text-anchor="middle" fill="#000" stroke="#000" >50</text>
<line x1="782.81" y1="629.10" x2="782.81" y2="631.90" stroke="#1a1a1a" stroke-width="1.2"/>
<line x1="801.86" y1="626.90" x2="801.86" y2="631.90" stroke="#1a1a1a" stroke-width="1.2"/>
<text transform="translate(801.86,649.80) scale(1,1.050)" font-size="15" text-anchor="middle" fill="#000" stroke="#000" >40</text>
<line x1="820.91" y1="629.10" x2="820.91" y2="631.90" stroke="#1a1a1a" stroke-width="1.2"/>
<line x1="839.97" y1="626.90" x2="839.97" y2="631.90" stroke="#1a1a1a" stroke-width="1.2"/>
<text transform="translate(839.97,649.80) scale(1,1.050)" font-size="15" text-anchor="middle" fill="#000" stroke="#000" >30</text>
<line x1="859.02" y1="629.10" x2="859.02" y2="631.90" stroke="#1a1a1a" stroke-width="1.2"/>
<line x1="878.08" y1="626.90" x2="878.08" y2="631.90" stroke="#1a1a1a" stroke-width="1.2"/>
<text transform="translate(878.08,649.80) scale(1,1.050)" font-size="15" text-anchor="middle" fill="#000" stroke="#000" >20</text>
<line x1="897.13" y1="629.10" x2="897.13" y2="631.90" stroke="#1a1a1a" stroke-width="1.2"/>
<line x1="916.19" y1="626.90" x2="916.19" y2="631.90" stroke="#1a1a1a" stroke-width="1.2"/>
<text transform="translate(916.19,649.80) scale(1,1.050)" font-size="15" text-anchor="middle" fill="#000" stroke="#000" >10</text>
<line x1="935.24" y1="629.10" x2="935.24" y2="631.90" stroke="#1a1a1a" stroke-width="1.2"/>
<line x1="954.30" y1="626.90" x2="954.30" y2="631.90" stroke="#1a1a1a" stroke-width="1.2"/>
<text transform="translate(954.30,649.80) scale(1,1.050)" font-size="15" text-anchor="middle" fill="#000" stroke="#000" >0</text>
<text transform="translate(540.90,504.20) rotate(-90) scale(1.010,1)" font-size="20.5" text-anchor="middle" fill="#000" stroke="#000" >Heat Generation /W</text>
<text transform="translate(763.50,686.00) scale(1,1.030)" font-size="20.5" text-anchor="middle" fill="#000" stroke="#000" >SOC / %</text>
<path d="M603.0,615.8 L603.5,615.7 L604.0,615.7 L604.5,615.6 L605.0,615.6 L605.5,615.5 L606.0,615.5 L606.5,615.4 L607.0,615.4 L607.5,615.3 L608.0,615.3 L608.5,615.2 L609.0,615.2 L609.5,615.1 L610.0,615.1 L610.5,615.0 L611.0,615.0 L611.5,614.9 L612.0,614.9 L612.5,614.8 L613.0,614.8 L613.5,614.7 L614.0,614.7 L614.5,614.7 L615.0,614.6 L615.5,614.6 L616.0,614.6 L616.5,614.5 L617.0,614.5 L617.5,614.5 L618.0,614.4 L618.5,614.4 L619.0,614.4 L619.5,614.4 L620.0,614.4 L620.5,614.3 L621.0,614.3 L621.5,614.3 L622.0,614.3 L622.5,614.3 L623.0,614.3 L623.5,614.3 L624.0,614.3 L624.5,614.3 L625.0,614.3 L625.5,614.3 L626.0,614.3 L626.5,614.4 L627.0,614.4 L627.5,614.4 L628.0,614.4 L628.5,614.4 L629.0,614.5 L629.5,614.5 L630.0,614.5 L630.5,614.6 L631.0,614.6 L631.5,614.6 L632.0,614.7 L632.5,614.7 L633.0,614.8 L633.5,614.8 L634.0,614.9 L634.5,614.9 L635.0,615.0 L635.5,615.0 L636.0,615.1 L636.5,615.1 L637.0,615.2 L637.5,615.2 L638.0,615.3 L638.5,615.3 L639.0,615.4 L639.5,615.5 L640.0,615.5 L640.5,615.6 L641.0,615.6 L641.5,615.7 L642.0,615.8 L642.5,615.8 L643.0,615.9 L643.5,615.9 L644.0,616.0 L644.5,616.1 L645.0,616.1 L645.5,616.2 L646.0,616.3 L646.5,616.3 L647.0,616.4 L647.5,616.5 L648.0,616.5 L648.5,616.6 L649.1,616.6 L649.6,616.7 L650.1,616.8 L650.6,616.8 L651.1,616.9 L651.6,617.0 L652.1,617.0 L652.6,617.1 L653.1,617.2 L653.6,617.2 L654.1,617.3 L654.6,617.4 L655.1,617.4 L655.6,617.5 L656.2,617.6 L656.7,617.6 L657.2,617.7 L657.7,617.8 L658.2,617.8 L658.7,617.9 L659.2,618.0 L659.7,618.0 L660.2,618.1 L660.7,618.2 L661.2,618.3 L661.7,618.3 L662.2,618.4 L662.7,618.5 L663.3,618.5 L663.8,618.6 L664.3,618.7 L664.8,618.8 L665.3,618.8 L665.8,618.9 L666.3,619.0 L666.8,619.1 L667.3,619.2 L667.8,619.2 L668.3,619.3 L668.8,619.4 L669.3,619.5 L669.8,619.6 L670.3,619.6 L670.8,619.7 L671.3,619.8 L671.8,619.9 L672.3,620.0 L672.8,620.0 L673.3,620.1 L673.8,620.2 L674.3,620.3 L674.8,620.4 L675.3,620.5 L675.8,620.5 L676.3,620.6 L676.8,620.7 L677.3,620.8 L677.8,620.9 L678.3,620.9 L678.8,621.0 L679.3,621.1 L679.8,621.2 L680.3,621.2 L680.8,621.3 L681.3,621.4 L681.8,621.5 L682.3,621.5 L682.8,621.6 L683.3,621.7 L683.8,621.7 L684.3,621.8 L684.8,621.9 L685.3,621.9 L685.8,622.0 L686.3,622.0 L686.8,622.1 L687.3,622.1 L687.8,622.2 L688.3,622.3 L688.8,622.3 L689.3,622.3 L689.8,622.4 L690.3,622.4 L690.8,622.5 L691.3,622.5 L691.8,622.6 L692.3,622.6 L692.8,622.6 L693.3,622.7 L693.8,622.7 L694.3,622.7 L694.8,622.8 L695.3,622.8 L695.8,622.8 L696.3,622.8 L696.8,622.9 L697.3,622.9 L697.8,622.9 L698.3,622.9 L698.8,623.0 L699.3,623.0 L699.8,623.0 L700.3,623.0 L700.8,623.0 L701.3,623.0 L701.8,623.1 L702.3,623.1 L702.8,623.1 L703.3,623.1 L703.8,623.1 L704.3,623.1 L704.8,623.2 L705.3,623.2 L705.8,623.2 L706.3,623.2 L706.8,623.2 L707.3,623.2 L707.8,623.3 L708.3,623.3 L708.8,623.3 L709.3,623.3 L709.8,623.3 L710.3,623.3 L710.8,623.3 L711.3,623.4 L711.8,623.4 L712.3,623.4 L712.8,623.4 L713.3,623.4 L713.8,623.5 L714.3,623.5 L714.8,623.5 L715.3,623.5 L715.8,623.5 L716.3,623.5 L716.8,623.6 L717.3,623.6 L717.8,623.6 L718.3,623.6 L718.8,623.6 L719.3,623.6 L719.8,623.6 L720.4,623.6 L720.9,623.7 L721.4,623.7 L721.9,623.7 L722.4,623.7 L722.9,623.7 L723.4,623.7 L723.9,623.7 L724.4,623.7 L724.9,623.7 L725.4,623.7 L725.9,623.7 L726.4,623.7 L726.9,623.7 L727.4,623.7 L727.9,623.7 L728.4,623.7 L728.9,623.7 L729.4,623.7 L729.9,623.7 L730.4,623.7 L730.9,623.7 L731.4,623.7 L731.9,623.7 L732.4,623.6 L732.9,623.6 L733.4,623.6 L734.0,623.6 L734.5,623.6 L735.0,623.5 L735.5,623.5 L736.0,623.5 L736.5,623.5 L737.0,623.4 L737.5,623.4 L738.0,623.4 L738.5,623.3 L739.0,623.3 L739.5,623.3 L740.0,623.2 L740.5,623.2 L741.1,623.2 L741.6,623.1 L742.1,623.1 L742.6,623.0 L743.1,623.0 L743.6,623.0 L744.1,622.9 L744.6,622.9 L745.1,622.8 L745.6,622.8 L746.1,622.7 L746.6,622.7 L747.1,622.6 L747.6,622.6 L748.2,622.5 L748.7,622.5 L749.2,622.4 L749.7,622.4 L750.2,622.3 L750.7,622.3 L751.2,622.2 L751.7,622.1 L752.2,622.1 L752.7,622.0 L753.2,622.0 L753.7,621.9 L754.2,621.8 L754.7,621.8 L755.2,621.7 L755.7,621.7 L756.2,621.6 L756.8,621.5 L757.3,621.5 L757.8,621.4 L758.3,621.3 L758.8,621.3 L759.3,621.2 L759.8,621.1 L760.3,621.1 L760.8,621.0 L761.3,620.9 L761.8,620.8 L762.3,620.8 L762.8,620.7 L763.3,620.6 L763.8,620.5 L764.3,620.4 L764.8,620.3 L765.3,620.3 L765.8,620.2 L766.3,620.1 L766.8,620.0 L767.3,619.9 L767.9,619.8 L768.4,619.7 L768.9,619.6 L769.4,619.5 L769.9,619.4 L770.4,619.3 L770.9,619.2 L771.4,619.1 L771.9,619.0 L772.4,618.9 L772.9,618.8 L773.4,618.7 L773.9,618.6 L774.4,618.5 L774.9,618.3 L775.4,618.2 L775.9,618.1 L776.4,618.0 L776.9,617.9 L777.4,617.7 L777.9,617.6 L778.4,617.5 L778.9,617.4 L779.4,617.2 L779.9,617.1 L780.4,617.0 L780.9,616.8 L781.4,616.7 L781.9,616.6 L782.4,616.4 L782.9,616.3 L783.4,616.2 L783.9,616.0 L784.4,615.9 L784.9,615.7 L785.4,615.6 L785.9,615.4 L786.4,615.3 L786.9,615.1 L787.4,615.0 L787.9,614.8 L788.4,614.7 L788.9,614.5 L789.4,614.4 L789.9,614.2 L790.4,614.1 L790.9,613.9 L791.4,613.8 L791.9,613.6 L792.4,613.5 L792.9,613.3 L793.4,613.2 L793.9,613.0 L794.4,612.8 L794.9,612.7 L795.4,612.5 L795.9,612.4 L796.4,612.2 L796.9,612.0 L797.5,611.9 L798.0,611.7 L798.5,611.5 L799.0,611.4 L799.5,611.2 L800.0,611.0 L800.5,610.9 L801.0,610.7 L801.5,610.5 L802.0,610.4 L802.5,610.2 L803.0,610.0 L803.5,609.8 L804.0,609.7 L804.5,609.5 L805.1,609.3 L805.6,609.1 L806.1,609.0 L806.6,608.8 L807.1,608.6 L807.6,608.4 L808.1,608.2 L808.6,608.0 L809.1,607.8 L809.6,607.7 L810.1,607.5 L810.6,607.3 L811.1,607.1 L811.7,606.9 L812.2,606.7 L812.7,606.5 L813.2,606.3 L813.7,606.1 L814.2,605.9 L814.7,605.7 L815.2,605.5 L815.7,605.3 L816.2,605.1 L816.7,604.9 L817.2,604.7 L817.7,604.5 L818.2,604.3 L818.7,604.0 L819.2,603.8 L819.7,603.6 L820.2,603.4 L820.7,603.2 L821.2,603.0 L821.7,602.7 L822.2,602.5 L822.7,602.3 L823.2,602.1 L823.7,601.8 L824.2,601.6 L824.7,601.4 L825.2,601.2 L825.8,600.9 L826.3,600.7 L826.8,600.5 L827.3,600.2 L827.8,600.0 L828.3,599.8 L828.8,599.5 L829.3,599.3 L829.8,599.1 L830.3,598.8 L830.8,598.6 L831.3,598.3 L831.8,598.1 L832.3,597.9 L832.8,597.6 L833.3,597.4 L833.8,597.1 L834.3,596.9 L834.8,596.6 L835.3,596.4 L835.8,596.1 L836.3,595.9 L836.8,595.6 L837.3,595.4 L837.8,595.1 L838.3,594.9 L838.8,594.6 L839.4,594.4 L839.9,594.1 L840.4,593.9 L840.9,593.6 L841.4,593.4 L841.9,593.1 L842.4,592.9 L842.9,592.6 L843.4,592.4 L843.9,592.1 L844.5,591.8 L845.0,591.6 L845.5,591.3 L846.0,591.1 L846.5,590.8 L847.0,590.6 L847.5,590.3 L848.0,590.0 L848.5,589.8 L849.0,589.5 L849.5,589.3 L850.1,589.0 L850.6,588.7 L851.1,588.5 L851.6,588.2 L852.1,588.0 L852.6,587.7 L853.1,587.4 L853.6,587.2 L854.1,586.9 L854.6,586.7 L855.2,586.4 L855.7,586.1 L856.2,585.9 L856.7,585.6 L857.2,585.4 L857.7,585.1 L858.2,584.8 L858.7,584.6 L859.2,584.3 L859.7,584.1 L860.2,583.8 L860.7,583.6 L861.2,583.3 L861.7,583.0 L862.2,582.8 L862.7,582.5 L863.2,582.3 L863.7,582.0 L864.2,581.8 L864.7,581.5 L865.2,581.2 L865.7,581.0 L866.2,580.7 L866.7,580.5 L867.2,580.2 L867.7,580.0 L868.2,579.7 L868.8,579.5 L869.3,579.2 L869.8,578.9 L870.3,578.7 L870.8,578.4 L871.3,578.2 L871.8,577.9 L872.3,577.7 L872.8,577.4 L873.3,577.2 L873.8,576.9 L874.3,576.7 L874.8,576.4 L875.3,576.2 L875.8,575.9 L876.3,575.7 L876.8,575.4 L877.3,575.2 L877.8,574.9 L878.3,574.7 L878.8,574.4 L879.3,574.1 L879.8,573.9 L880.3,573.6 L880.8,573.4 L881.3,573.1 L881.8,572.9 L882.4,572.6 L882.9,572.4 L883.4,572.1 L883.9,571.9 L884.4,571.6 L884.9,571.4 L885.4,571.2 L885.9,570.9 L886.4,570.7 L886.9,570.4 L887.4,570.2 L887.9,569.9 L888.4,569.7 L888.9,569.5 L889.5,569.2 L890.0,569.0 L890.5,568.7 L891.0,568.5 L891.5,568.3 L892.0,568.0 L892.5,567.8 L893.0,567.6 L893.5,567.3 L894.0,567.1 L894.5,566.9 L895.0,566.7 L895.5,566.4 L896.0,566.2 L896.6,566.0 L897.1,565.8 L897.6,565.6 L898.1,565.3 L898.6,565.1 L899.1,564.9 L899.6,564.7 L900.1,564.5 L900.6,564.3 L901.1,564.1 L901.6,563.9 L902.1,563.7 L902.6,563.5 L903.1,563.3 L903.6,563.1 L904.1,562.9 L904.6,562.7 L905.1,562.5 L905.6,562.3 L906.1,562.1 L906.6,561.9 L907.1,561.7 L907.6,561.6 L908.1,561.4 L908.6,561.2 L909.1,561.0 L909.6,560.8 L910.2,560.7 L910.7,560.5 L911.2,560.3 L911.7,560.1 L912.2,560.0 L912.7,559.8 L913.2,559.6 L913.7,559.5 L914.2,559.3 L914.7,559.1 L915.2,559.0 L915.7,558.8 L916.2,558.6 L916.7,558.5 L917.2,558.3 L917.7,558.1 L918.2,558.0 L918.7,557.8 L919.2,557.7 L919.7,557.5 L920.2,557.4 L920.7,557.2 L921.2,557.0 L921.7,556.9 L922.2,556.7 L922.7,556.6 L923.2,556.4 L923.7,556.3 L924.2,556.2 L924.7,556.0 L925.2,555.9 L925.7,555.7 L926.2,555.6 L926.7,555.4 L927.2,555.3 L927.7,555.1 L928.2,555.0 L928.7,554.9 L929.2,554.7 L929.7,554.6 L930.2,554.4 L930.7,554.3 L931.2,554.2 L931.7,554.0 L932.2,553.9 L932.7,553.7 L933.2,553.6 L933.7,553.5 L934.2,553.3 L934.7,553.2 L935.2,553.1 L935.7,552.9 L936.2,552.8 L936.7,552.7 L937.2,552.5 L937.7,552.4 L938.2,552.3 L938.7,552.1 L939.2,552.0 L939.7,551.9 L940.2,551.7 L940.7,551.6 L941.2,551.5 L941.7,551.3 L942.2,551.2" fill="none" stroke="#000" stroke-width="1"/>
<path d="M603.1,505.7 L603.7,503.4 L604.2,501.2 L604.8,499.3 L605.4,497.6 L606.0,496.3 L606.5,495.2 L607.1,494.3 L607.7,493.5 L608.2,492.9 L608.7,492.4 L609.3,491.9 L609.8,491.5 L610.3,491.1 L610.8,490.8 L611.4,490.5 L611.9,490.2 L612.4,490.0 L612.9,489.8 L613.5,489.6 L614.0,489.4 L614.5,489.2 L615.1,489.1 L615.6,488.9 L616.2,488.8 L616.7,488.7 L617.2,488.6 L617.8,488.5 L618.3,488.5 L618.8,488.5 L619.3,488.5 L619.9,488.5 L620.4,488.5 L620.9,488.5 L621.5,488.5 L622.0,488.6 L622.5,488.6 L623.0,488.7 L623.5,488.8 L624.1,488.8 L624.6,488.9 L625.1,489.0 L625.6,489.0 L626.1,489.1 L626.6,489.2 L627.1,489.2 L627.6,489.3 L628.1,489.4 L628.6,489.5 L629.1,489.5 L629.6,489.6 L630.1,489.7 L630.6,489.7 L631.1,489.8 L631.6,489.9 L632.1,490.0 L632.6,490.0 L633.1,490.1 L633.6,490.2 L634.1,490.3 L634.6,490.3 L635.1,490.4 L635.6,490.5 L636.1,490.6 L636.6,490.6 L637.1,490.7 L637.6,490.8 L638.1,490.9 L638.6,490.9 L639.1,491.0 L639.6,491.1 L640.1,491.2 L640.6,491.3 L641.1,491.3 L641.6,491.4 L642.1,491.5 L642.6,491.6 L643.1,491.6 L643.6,491.7 L644.1,491.8 L644.6,491.9 L645.1,491.9 L645.6,492.0 L646.1,492.1 L646.6,492.2 L647.1,492.3 L647.6,492.3 L648.1,492.4 L648.6,492.5 L649.1,492.6 L649.6,492.6 L650.1,492.7 L650.6,492.8 L651.1,492.9 L651.7,492.9 L652.2,493.0 L652.7,493.1 L653.2,493.2 L653.7,493.2 L654.2,493.3 L654.7,493.4 L655.2,493.4 L655.7,493.5 L656.2,493.6 L656.7,493.6 L657.2,493.7 L657.7,493.8 L658.2,493.8 L658.7,493.9 L659.2,494.0 L659.7,494.0 L660.2,494.1 L660.7,494.2 L661.2,494.2 L661.8,494.3 L662.3,494.3 L662.8,494.4 L663.3,494.4 L663.8,494.5 L664.3,494.6 L664.8,494.6 L665.3,494.7 L665.8,494.7 L666.3,494.8 L666.8,494.8 L667.3,494.8 L667.8,494.9 L668.3,494.9 L668.8,495.0 L669.3,495.0 L669.8,495.1 L670.3,495.1 L670.8,495.1 L671.3,495.2 L671.8,495.2 L672.4,495.2 L672.9,495.3 L673.4,495.3 L673.9,495.3 L674.4,495.4 L674.9,495.4 L675.4,495.4 L675.9,495.4 L676.4,495.5 L676.9,495.5 L677.4,495.5 L677.9,495.5 L678.4,495.6 L678.9,495.6 L679.4,495.6 L679.9,495.6 L680.4,495.7 L680.9,495.7 L681.4,495.7 L681.9,495.7 L682.4,495.8 L683.0,495.8 L683.5,495.8 L684.0,495.8 L684.5,495.8 L685.0,495.9 L685.5,495.9 L686.0,495.9 L686.5,495.9 L687.0,496.0 L687.5,496.0 L688.0,496.0 L688.5,496.0 L689.0,496.0 L689.5,496.1 L690.0,496.1 L690.5,496.1 L691.0,496.1 L691.5,496.2 L692.0,496.2 L692.5,496.2 L693.0,496.2 L693.5,496.3 L694.0,496.3 L694.5,496.3 L695.0,496.3 L695.5,496.4 L696.0,496.4 L696.5,496.4 L697.0,496.5 L697.5,496.5 L698.0,496.5 L698.5,496.5 L699.1,496.6 L699.6,496.6 L700.1,496.6 L700.6,496.7 L701.1,496.7 L701.6,496.7 L702.1,496.8 L702.6,496.8 L703.1,496.8 L703.6,496.9 L704.1,496.9 L704.6,496.9 L705.1,497.0 L705.6,497.0 L706.1,497.1 L706.6,497.1 L707.1,497.1 L707.6,497.2 L708.1,497.2 L708.6,497.3 L709.1,497.3 L709.6,497.3 L710.1,497.4 L710.6,497.4 L711.1,497.5 L711.6,497.5 L712.1,497.6 L712.6,497.6 L713.1,497.7 L713.6,497.7 L714.1,497.7 L714.6,497.8 L715.1,497.8 L715.6,497.9 L716.1,497.9 L716.6,498.0 L717.1,498.0 L717.6,498.1 L718.1,498.1 L718.6,498.2 L719.1,498.2 L719.6,498.3 L720.1,498.3 L720.6,498.4 L721.1,498.4 L721.6,498.5 L722.1,498.5 L722.6,498.6 L723.1,498.6 L723.6,498.7 L724.1,498.7 L724.6,498.8 L725.1,498.8 L725.6,498.9 L726.1,498.9 L726.6,498.9 L727.1,499.0 L727.6,499.0 L728.1,499.1 L728.6,499.1 L729.1,499.2 L729.6,499.2 L730.1,499.3 L730.6,499.3 L731.1,499.3 L731.6,499.4 L732.1,499.4 L732.6,499.5 L733.1,499.5 L733.7,499.5 L734.2,499.6 L734.7,499.6 L735.2,499.7 L735.7,499.7 L736.2,499.7 L736.7,499.8 L737.2,499.8 L737.7,499.8 L738.2,499.9 L738.8,499.9 L739.3,500.0 L739.8,500.0 L740.3,500.0 L740.8,500.1 L741.3,500.1 L741.8,500.1 L742.3,500.2 L742.8,500.2 L743.3,500.2 L743.9,500.2 L744.4,500.3 L744.9,500.3 L745.4,500.3 L745.9,500.4 L746.4,500.4 L746.9,500.4 L747.4,500.5 L747.9,500.5 L748.4,500.5 L749.0,500.6 L749.5,500.6 L750.0,500.6 L750.5,500.6 L751.0,500.7 L751.5,500.7 L752.0,500.7 L752.5,500.8 L753.0,500.8 L753.5,500.8 L754.0,500.8 L754.5,500.9 L755.0,500.9 L755.5,500.9 L756.0,501.0 L756.5,501.0 L757.1,501.0 L757.6,501.0 L758.1,501.1 L758.6,501.1 L759.1,501.1 L759.6,501.2 L760.1,501.2 L760.6,501.2 L761.1,501.2 L761.6,501.3 L762.1,501.3 L762.6,501.3 L763.1,501.3 L763.6,501.4 L764.1,501.4 L764.6,501.4 L765.1,501.4 L765.6,501.5 L766.1,501.5 L766.6,501.5 L767.1,501.5 L767.7,501.5 L768.2,501.6 L768.7,501.6 L769.2,501.6 L769.7,501.6 L770.2,501.6 L770.7,501.6 L771.2,501.7 L771.7,501.7 L772.2,501.7 L772.7,501.7 L773.2,501.7 L773.7,501.7 L774.2,501.7 L774.7,501.7 L775.2,501.8 L775.7,501.8 L776.2,501.8 L776.7,501.8 L777.2,501.8 L777.7,501.8 L778.3,501.8 L778.8,501.8 L779.3,501.8 L779.8,501.8 L780.3,501.8 L780.8,501.8 L781.3,501.8 L781.8,501.8 L782.3,501.8 L782.8,501.8 L783.3,501.8 L783.8,501.8 L784.3,501.8 L784.8,501.8 L785.3,501.8 L785.8,501.8 L786.3,501.8 L786.8,501.8 L787.3,501.8 L787.8,501.8 L788.3,501.8 L788.9,501.8 L789.4,501.8 L789.9,501.8 L790.4,501.8 L790.9,501.7 L791.4,501.7 L791.9,501.7 L792.4,501.7 L792.9,501.7 L793.4,501.7 L793.9,501.7 L794.4,501.7 L794.9,501.7 L795.4,501.7 L795.9,501.7 L796.4,501.7 L796.9,501.6 L797.4,501.6 L797.9,501.6 L798.4,501.6 L798.9,501.6 L799.5,501.6 L800.0,501.6 L800.5,501.5 L801.0,501.5 L801.5,501.5 L802.0,501.5 L802.5,501.5 L803.0,501.4 L803.5,501.4 L804.0,501.4 L804.5,501.4 L805.0,501.3 L805.5,501.3 L806.0,501.3 L806.5,501.3 L807.0,501.2 L807.5,501.2 L808.0,501.1 L808.5,501.1 L809.0,501.1 L809.5,501.0 L810.1,501.0 L810.6,500.9 L811.1,500.9 L811.6,500.8 L812.1,500.8 L812.6,500.7 L813.1,500.7 L813.6,500.6 L814.1,500.5 L814.6,500.5 L815.1,500.4 L815.6,500.3 L816.1,500.3 L816.6,500.2 L817.1,500.1 L817.6,500.0 L818.2,499.9 L818.7,499.8 L819.2,499.8 L819.7,499.7 L820.2,499.6 L820.7,499.5 L821.2,499.4 L821.7,499.3 L822.2,499.2 L822.7,499.1 L823.3,498.9 L823.8,498.8 L824.3,498.7 L824.8,498.6 L825.3,498.5 L825.8,498.4 L826.3,498.3 L826.8,498.1 L827.3,498.0 L827.8,497.9 L828.3,497.8 L828.9,497.6 L829.4,497.5 L829.9,497.4 L830.4,497.2 L830.9,497.1 L831.4,497.0 L831.9,496.8 L832.4,496.7 L832.9,496.5 L833.4,496.4 L834.0,496.2 L834.5,496.1 L835.0,495.9 L835.5,495.8 L836.0,495.7 L836.5,495.5 L837.0,495.3 L837.5,495.2 L838.0,495.0 L838.5,494.9 L839.0,494.7 L839.5,494.6 L840.0,494.4 L840.5,494.3 L841.0,494.1 L841.5,494.0 L842.1,493.8 L842.6,493.6 L843.1,493.5 L843.6,493.3 L844.1,493.1 L844.6,493.0 L845.1,492.8 L845.6,492.7 L846.1,492.5 L846.6,492.3 L847.1,492.2 L847.6,492.0 L848.1,491.8 L848.6,491.7 L849.1,491.5 L849.6,491.3 L850.1,491.2 L850.6,491.0 L851.1,490.8 L851.6,490.7 L852.1,490.5 L852.7,490.3 L853.2,490.2 L853.7,490.0 L854.2,489.8 L854.7,489.7 L855.2,489.5 L855.7,489.4 L856.2,489.2 L856.7,489.0 L857.2,488.9 L857.7,488.7 L858.2,488.5 L858.7,488.4 L859.2,488.2 L859.7,488.1 L860.2,487.9 L860.7,487.7 L861.2,487.6 L861.7,487.4 L862.2,487.3 L862.7,487.1 L863.2,487.0 L863.7,486.8 L864.2,486.6 L864.7,486.5 L865.2,486.3 L865.7,486.2 L866.2,486.0 L866.7,485.9 L867.2,485.7 L867.7,485.6 L868.2,485.4 L868.8,485.3 L869.3,485.1 L869.8,485.0 L870.3,484.9 L870.8,484.7 L871.3,484.6 L871.8,484.4 L872.3,484.3 L872.8,484.1 L873.3,484.0 L873.8,483.9 L874.3,483.7 L874.8,483.6 L875.3,483.4 L875.8,483.3 L876.3,483.2 L876.8,483.0 L877.3,482.9 L877.8,482.8 L878.3,482.6 L878.8,482.5 L879.3,482.4 L879.8,482.2 L880.3,482.1 L880.8,482.0 L881.3,481.9 L881.8,481.7 L882.3,481.6 L882.8,481.5 L883.3,481.4 L883.8,481.3 L884.4,481.1 L884.9,481.0 L885.4,480.9 L885.9,480.8 L886.4,480.7 L886.9,480.6 L887.4,480.5 L887.9,480.4 L888.4,480.3 L888.9,480.2 L889.4,480.1 L889.9,480.0 L890.4,480.0 L890.9,479.9 L891.4,479.8 L891.9,479.7 L892.4,479.7 L892.9,479.6 L893.4,479.5 L893.9,479.5 L894.4,479.4 L895.0,479.4 L895.5,479.3 L896.0,479.3 L896.5,479.3 L897.0,479.3 L897.5,479.2 L898.0,479.2 L898.5,479.2 L899.0,479.2 L899.5,479.2 L900.0,479.2 L900.5,479.2 L901.0,479.2 L901.5,479.2 L902.0,479.3 L902.5,479.3 L903.0,479.3 L903.5,479.4 L904.0,479.4 L904.5,479.4 L905.0,479.5 L905.5,479.5 L906.0,479.6 L906.5,479.6 L907.0,479.7 L907.5,479.7 L908.0,479.7 L908.5,479.8 L909.0,479.8 L909.5,479.9 L910.0,479.9 L910.5,479.9 L911.1,480.0 L911.6,480.0 L912.1,480.0 L912.6,480.0 L913.1,480.0 L913.6,480.0 L914.1,480.0 L914.6,480.0 L915.1,480.0 L915.6,480.0 L916.1,480.0 L916.6,479.9 L917.1,479.9 L917.6,479.9 L918.1,479.8 L918.6,479.7 L919.1,479.6 L919.6,479.5 L920.1,479.4 L920.6,479.3 L921.1,479.2 L921.6,479.1 L922.1,478.9 L922.6,478.7 L923.1,478.6 L923.6,478.3 L924.1,478.1 L924.6,477.9 L925.1,477.6 L925.6,477.3 L926.1,476.9 L926.6,476.6 L927.1,476.2 L927.6,475.7 L928.1,475.2 L928.6,474.7 L929.1,474.2 L929.6,473.6 L930.1,472.9 L930.6,472.2 L931.1,471.5 L931.6,470.7 L932.1,469.8 L932.6,468.9 L933.1,467.9 L933.6,466.9 L934.1,465.8 L934.6,464.6 L935.1,463.4 L935.6,462.1 L936.1,460.8 L936.6,459.3 L937.1,457.8 L937.6,456.2 L938.1,454.6 L938.6,452.8 L939.1,451.0 L939.6,449.1 L940.1,447.1 L940.6,445.0 L941.1,442.9 L941.6,440.6 L942.1,438.3 L942.6,435.8 L943.1,433.0 L943.7,430.2 L944.2,427.2 L944.8,424.2 L945.3,421.1 L945.9,418.0 L946.4,414.9" fill="none" stroke="#ff0000" stroke-width="1"/>
<path d="M603.1,512.0 L603.7,509.6 L604.2,507.5 L604.7,506.0 L605.2,504.9 L605.8,504.1 L606.3,503.4 L606.8,502.7 L607.4,502.0 L607.9,501.3 L608.4,500.6 L609.0,499.9 L609.5,499.3 L610.0,498.8 L610.5,498.3 L611.1,497.8 L611.6,497.4 L612.1,497.1 L612.6,496.7 L613.1,496.5 L613.7,496.2 L614.2,496.0 L614.7,495.8 L615.2,495.6 L615.8,495.5 L616.3,495.3 L616.8,495.2 L617.4,495.1 L617.9,495.1 L618.5,495.0 L619.0,494.9 L619.5,494.9 L620.1,494.9 L620.6,494.9 L621.1,494.9 L621.6,494.9 L622.1,495.0 L622.7,495.0 L623.2,495.0 L623.7,495.1 L624.2,495.1 L624.7,495.2 L625.2,495.3 L625.7,495.3 L626.2,495.4 L626.7,495.5 L627.2,495.6 L627.7,495.7 L628.2,495.8 L628.7,495.9 L629.2,496.0 L629.7,496.1 L630.2,496.2 L630.7,496.3 L631.2,496.4 L631.7,496.5 L632.2,496.6 L632.7,496.7 L633.2,496.9 L633.7,497.0 L634.2,497.1 L634.7,497.2 L635.2,497.4 L635.8,497.5 L636.3,497.6 L636.8,497.8 L637.3,497.9 L637.8,498.1 L638.3,498.2 L638.8,498.3 L639.3,498.5 L639.8,498.6 L640.3,498.8 L640.8,498.9 L641.3,499.0 L641.8,499.2 L642.3,499.3 L642.8,499.5 L643.3,499.6 L643.8,499.7 L644.3,499.9 L644.8,500.0 L645.3,500.2 L645.8,500.3 L646.3,500.4 L646.8,500.6 L647.3,500.7 L647.8,500.8 L648.3,501.0 L648.8,501.1 L649.3,501.2 L649.8,501.3 L650.3,501.5 L650.8,501.6 L651.3,501.7 L651.8,501.8 L652.3,501.9 L652.8,502.1 L653.3,502.2 L653.8,502.3 L654.3,502.4 L654.8,502.5 L655.3,502.7 L655.8,502.8 L656.3,502.9 L656.8,503.0 L657.3,503.1 L657.8,503.2 L658.3,503.3 L658.8,503.4 L659.3,503.6 L659.8,503.7 L660.3,503.8 L660.8,503.9 L661.3,504.0 L661.8,504.1 L662.3,504.2 L662.8,504.3 L663.3,504.4 L663.8,504.5 L664.3,504.7 L664.8,504.8 L665.3,504.9 L665.8,505.0 L666.3,505.1 L666.8,505.2 L667.3,505.3 L667.8,505.4 L668.3,505.5 L668.8,505.6 L669.3,505.8 L669.8,505.9 L670.3,506.0 L670.8,506.1 L671.3,506.2 L671.8,506.3 L672.4,506.4 L672.9,506.5 L673.4,506.6 L673.9,506.8 L674.4,506.9 L674.9,507.0 L675.4,507.1 L675.9,507.2 L676.4,507.3 L676.9,507.4 L677.4,507.5 L677.9,507.6 L678.4,507.7 L678.9,507.8 L679.4,507.9 L679.9,508.0 L680.4,508.1 L680.9,508.2 L681.4,508.3 L681.9,508.4 L682.4,508.5 L683.0,508.6 L683.5,508.7 L684.0,508.8 L684.5,508.9 L685.0,509.0 L685.5,509.1 L686.0,509.2 L686.5,509.3 L687.0,509.3 L687.5,509.4 L688.0,509.5 L688.5,509.6 L689.0,509.7 L689.5,509.7 L690.0,509.8 L690.5,509.9 L691.0,510.0 L691.5,510.0 L692.0,510.1 L692.5,510.2 L693.0,510.2 L693.5,510.3 L694.0,510.4 L694.5,510.4 L695.0,510.5 L695.5,510.5 L696.0,510.6 L696.5,510.7 L697.0,510.7 L697.5,510.8 L698.0,510.8 L698.5,510.9 L699.1,511.0 L699.6,511.0 L700.1,511.1 L700.6,511.1 L701.1,511.2 L701.6,511.2 L702.1,511.3 L702.6,511.3 L703.1,511.4 L703.6,511.4 L704.1,511.5 L704.6,511.5 L705.1,511.6 L705.6,511.6 L706.1,511.7 L706.6,511.7 L707.1,511.8 L707.6,511.8 L708.1,511.9 L708.6,511.9 L709.1,512.0 L709.6,512.1 L710.1,512.1 L710.6,512.2 L711.1,512.2 L711.6,512.3 L712.1,512.3 L712.6,512.4 L713.1,512.4 L713.6,512.5 L714.1,512.5 L714.6,512.6 L715.1,512.6 L715.6,512.7 L716.1,512.7 L716.6,512.8 L717.1,512.8 L717.6,512.9 L718.1,512.9 L718.6,513.0 L719.1,513.0 L719.6,513.1 L720.1,513.1 L720.6,513.2 L721.1,513.2 L721.6,513.3 L722.1,513.3 L722.6,513.3 L723.1,513.4 L723.6,513.4 L724.1,513.5 L724.6,513.5 L725.1,513.6 L725.6,513.6 L726.1,513.6 L726.6,513.7 L727.1,513.7 L727.6,513.7 L728.1,513.8 L728.6,513.8 L729.1,513.8 L729.6,513.8 L730.1,513.9 L730.6,513.9 L731.1,513.9 L731.6,513.9 L732.1,514.0 L732.6,514.0 L733.1,514.0 L733.7,514.0 L734.2,514.0 L734.7,514.0 L735.2,514.1 L735.7,514.1 L736.2,514.1 L736.7,514.1 L737.2,514.1 L737.7,514.1 L738.2,514.1 L738.8,514.1 L739.3,514.1 L739.8,514.1 L740.3,514.1 L740.8,514.1 L741.3,514.1 L741.8,514.1 L742.3,514.1 L742.8,514.1 L743.3,514.1 L743.9,514.1 L744.4,514.1 L744.9,514.1 L745.4,514.1 L745.9,514.0 L746.4,514.0 L746.9,514.0 L747.4,514.0 L747.9,514.0 L748.4,514.0 L749.0,514.0 L749.5,514.0 L750.0,513.9 L750.5,513.9 L751.0,513.9 L751.5,513.9 L752.0,513.9 L752.5,513.9 L753.0,513.9 L753.5,513.8 L754.0,513.8 L754.5,513.8 L755.0,513.8 L755.5,513.8 L756.0,513.7 L756.5,513.7 L757.1,513.7 L757.6,513.7 L758.1,513.7 L758.6,513.6 L759.1,513.6 L759.6,513.6 L760.1,513.5 L760.6,513.5 L761.1,513.5 L761.6,513.5 L762.1,513.4 L762.6,513.4 L763.1,513.3 L763.6,513.3 L764.1,513.3 L764.6,513.2 L765.1,513.2 L765.6,513.1 L766.1,513.1 L766.6,513.0 L767.1,513.0 L767.7,512.9 L768.2,512.9 L768.7,512.8 L769.2,512.8 L769.7,512.7 L770.2,512.7 L770.7,512.6 L771.2,512.5 L771.7,512.4 L772.2,512.4 L772.7,512.3 L773.2,512.2 L773.7,512.1 L774.2,512.1 L774.7,512.0 L775.2,511.9 L775.7,511.8 L776.2,511.7 L776.7,511.6 L777.2,511.5 L777.7,511.4 L778.3,511.3 L778.8,511.2 L779.3,511.1 L779.8,511.0 L780.3,510.9 L780.8,510.8 L781.3,510.6 L781.8,510.5 L782.3,510.4 L782.8,510.3 L783.3,510.1 L783.8,510.0 L784.3,509.9 L784.8,509.7 L785.3,509.6 L785.8,509.5 L786.3,509.3 L786.8,509.2 L787.3,509.0 L787.8,508.9 L788.3,508.7 L788.9,508.6 L789.4,508.4 L789.9,508.3 L790.4,508.1 L790.9,507.9 L791.4,507.8 L791.9,507.6 L792.4,507.4 L792.9,507.3 L793.4,507.1 L793.9,506.9 L794.4,506.7 L794.9,506.5 L795.4,506.4 L795.9,506.2 L796.4,506.0 L796.9,505.8 L797.4,505.6 L797.9,505.4 L798.4,505.2 L798.9,505.0 L799.5,504.8 L800.0,504.6 L800.5,504.4 L801.0,504.2 L801.5,504.0 L802.0,503.7 L802.5,503.5 L803.0,503.3 L803.5,503.1 L804.0,502.9 L804.5,502.6 L805.0,502.4 L805.5,502.2 L806.0,501.9 L806.5,501.7 L807.0,501.5 L807.5,501.2 L808.0,501.0 L808.5,500.7 L809.0,500.5 L809.5,500.3 L810.1,500.0 L810.6,499.8 L811.1,499.5 L811.6,499.2 L812.1,499.0 L812.6,498.7 L813.1,498.5 L813.6,498.2 L814.1,497.9 L814.6,497.7 L815.1,497.4 L815.6,497.1 L816.1,496.8 L816.6,496.6 L817.1,496.3 L817.6,496.0 L818.2,495.7 L818.7,495.4 L819.2,495.1 L819.7,494.8 L820.2,494.6 L820.7,494.3 L821.2,494.0 L821.7,493.7 L822.2,493.4 L822.7,493.0 L823.3,492.7 L823.8,492.4 L824.3,492.1 L824.8,491.8 L825.3,491.5 L825.8,491.2 L826.3,490.8 L826.8,490.5 L827.3,490.2 L827.8,489.8 L828.3,489.5 L828.9,489.2 L829.4,488.8 L829.9,488.5 L830.4,488.2 L830.9,487.8 L831.4,487.5 L831.9,487.1 L832.4,486.7 L832.9,486.4 L833.4,486.0 L834.0,485.7 L834.5,485.3 L835.0,484.9 L835.5,484.6 L836.0,484.2 L836.5,483.8 L837.0,483.4 L837.5,483.0 L838.0,482.7 L838.5,482.3 L839.0,481.9 L839.5,481.5 L840.0,481.1 L840.5,480.7 L841.0,480.3 L841.5,479.9 L842.1,479.5 L842.6,479.1 L843.1,478.7 L843.6,478.3 L844.1,477.9 L844.6,477.4 L845.1,477.0 L845.6,476.6 L846.1,476.2 L846.6,475.8 L847.1,475.3 L847.6,474.9 L848.1,474.5 L848.6,474.1 L849.1,473.6 L849.6,473.2 L850.1,472.8 L850.6,472.3 L851.1,471.9 L851.6,471.5 L852.1,471.0 L852.7,470.6 L853.2,470.2 L853.7,469.7 L854.2,469.3 L854.7,468.8 L855.2,468.4 L855.7,468.0 L856.2,467.5 L856.7,467.1 L857.2,466.6 L857.7,466.2 L858.2,465.8 L858.7,465.3 L859.2,464.9 L859.7,464.4 L860.2,464.0 L860.7,463.6 L861.2,463.1 L861.7,462.7 L862.2,462.2 L862.7,461.8 L863.2,461.4 L863.7,460.9 L864.2,460.5 L864.7,460.1 L865.2,459.6 L865.7,459.2 L866.2,458.8 L866.7,458.3 L867.2,457.9 L867.7,457.5 L868.2,457.0 L868.8,456.6 L869.3,456.2 L869.8,455.8 L870.3,455.4 L870.8,454.9 L871.3,454.5 L871.8,454.1 L872.3,453.7 L872.8,453.3 L873.3,452.9 L873.8,452.5 L874.3,452.1 L874.8,451.7 L875.3,451.3 L875.8,450.9 L876.3,450.5 L876.8,450.1 L877.3,449.7 L877.8,449.4 L878.3,449.0 L878.8,448.6 L879.3,448.2 L879.8,447.9 L880.3,447.5 L880.8,447.1 L881.3,446.8 L881.8,446.4 L882.3,446.1 L882.8,445.7 L883.3,445.4 L883.8,445.0 L884.4,444.7 L884.9,444.4 L885.4,444.0 L885.9,443.7 L886.4,443.4 L886.9,443.1 L887.4,442.8 L887.9,442.5 L888.4,442.2 L888.9,441.9 L889.4,441.6 L889.9,441.3 L890.4,441.0 L890.9,440.7 L891.4,440.4 L891.9,440.1 L892.4,439.9 L892.9,439.6 L893.4,439.3 L893.9,439.1 L894.4,438.8 L895.0,438.6 L895.5,438.3 L896.0,438.1 L896.5,437.8 L897.0,437.6 L897.5,437.4 L898.0,437.2 L898.5,436.9 L899.0,436.7 L899.5,436.5 L900.0,436.3 L900.5,436.1 L901.0,435.9 L901.5,435.7 L902.0,435.5 L902.5,435.3 L903.0,435.2 L903.5,435.0 L904.0,434.8 L904.5,434.6 L905.0,434.4 L905.5,434.3 L906.0,434.1 L906.5,433.9 L907.0,433.8 L907.5,433.6 L908.0,433.4 L908.5,433.2 L909.0,433.1 L909.5,432.9 L910.0,432.7 L910.5,432.5 L911.1,432.3 L911.6,432.2 L912.1,432.0 L912.6,431.8 L913.1,431.6 L913.6,431.4 L914.1,431.2 L914.6,431.0 L915.1,430.8 L915.6,430.6 L916.1,430.3 L916.6,430.1 L917.1,429.9 L917.6,429.6 L918.1,429.4 L918.6,429.1 L919.1,428.8 L919.6,428.6 L920.1,428.3 L920.6,428.0 L921.1,427.7 L921.6,427.4 L922.1,427.1 L922.6,426.7 L923.1,426.4 L923.6,426.0 L924.1,425.6 L924.6,425.2 L925.1,424.8 L925.6,424.4 L926.1,423.9 L926.6,423.4 L927.1,422.8 L927.6,422.2 L928.1,421.6 L928.6,421.0 L929.1,420.3 L929.6,419.5 L930.1,418.7 L930.6,417.9 L931.1,417.0 L931.6,416.1 L932.1,415.1 L932.6,414.1 L933.1,413.0 L933.6,411.9 L934.1,410.7 L934.6,409.4 L935.1,408.1 L935.6,406.6 L936.1,405.2 L936.6,403.6 L937.1,402.0 L937.6,400.3 L938.1,398.5 L938.6,396.7 L939.1,394.8 L939.6,392.8 L940.1,390.7 L940.6,388.5 L941.1,386.2 L941.6,383.8 L942.1,381.4 L942.6,378.8 L943.1,375.9 L943.7,372.9 L944.2,369.9 L944.8,366.7 L945.3,363.5 L945.9,360.3 L946.4,357.1" fill="none" stroke="#0000ff" stroke-width="1"/>
<rect x="600.10" y="612.90" width="5.8" height="5.8" fill="#fff" stroke="#000" stroke-width="1"/>
<rect x="621.10" y="611.40" width="5.8" height="5.8" fill="#fff" stroke="#000" stroke-width="1"/>
<rect x="642.60" y="613.30" width="5.8" height="5.8" fill="#fff" stroke="#000" stroke-width="1"/>
<rect x="663.40" y="616.10" width="5.8" height="5.8" fill="#fff" stroke="#000" stroke-width="1"/>
<rect x="684.90" y="619.30" width="5.8" height="5.8" fill="#fff" stroke="#000" stroke-width="1"/>
<rect x="706.40" y="620.40" width="5.8" height="5.8" fill="#fff" stroke="#000" stroke-width="1"/>
<rect x="727.50" y="620.80" width="5.8" height="5.8" fill="#fff" stroke="#000" stroke-width="1"/>
<rect x="748.30" y="619.30" width="5.8" height="5.8" fill="#fff" stroke="#000" stroke-width="1"/>
<rect x="770.00" y="615.90" width="5.8" height="5.8" fill="#fff" stroke="#000" stroke-width="1"/>
<rect x="791.00" y="610.10" width="5.8" height="5.8" fill="#fff" stroke="#000" stroke-width="1"/>
<rect x="812.30" y="602.60" width="5.8" height="5.8" fill="#fff" stroke="#000" stroke-width="1"/>
<rect x="833.40" y="593.00" width="5.8" height="5.8" fill="#fff" stroke="#000" stroke-width="1"/>
<rect x="854.80" y="582.20" width="5.8" height="5.8" fill="#fff" stroke="#000" stroke-width="1"/>
<rect x="875.90" y="571.50" width="5.8" height="5.8" fill="#fff" stroke="#000" stroke-width="1"/>
<rect x="896.70" y="561.80" width="5.8" height="5.8" fill="#fff" stroke="#000" stroke-width="1"/>
<rect x="917.80" y="554.30" width="5.8" height="5.8" fill="#fff" stroke="#000" stroke-width="1"/>
<rect x="939.30" y="548.30" width="5.8" height="5.8" fill="#fff" stroke="#000" stroke-width="1"/>
<circle cx="603.10" cy="505.70" r="3.15" fill="#fff" stroke="#ff0000" stroke-width="1"/>
<circle cx="624.60" cy="488.90" r="3.15" fill="#fff" stroke="#ff0000" stroke-width="1"/>
<circle cx="646.10" cy="492.10" r="3.15" fill="#fff" stroke="#ff0000" stroke-width="1"/>
<circle cx="666.80" cy="494.80" r="3.15" fill="#fff" stroke="#ff0000" stroke-width="1"/>
<circle cx="688.00" cy="496.00" r="3.15" fill="#fff" stroke="#ff0000" stroke-width="1"/>
<circle cx="709.10" cy="497.30" r="3.15" fill="#fff" stroke="#ff0000" stroke-width="1"/>
<circle cx="730.60" cy="499.30" r="3.15" fill="#fff" stroke="#ff0000" stroke-width="1"/>
<circle cx="751.50" cy="500.70" r="3.15" fill="#fff" stroke="#ff0000" stroke-width="1"/>
<circle cx="772.70" cy="501.70" r="3.15" fill="#fff" stroke="#ff0000" stroke-width="1"/>
<circle cx="793.90" cy="501.70" r="3.15" fill="#fff" stroke="#ff0000" stroke-width="1"/>
<circle cx="815.10" cy="500.40" r="3.15" fill="#fff" stroke="#ff0000" stroke-width="1"/>
<circle cx="836.50" cy="495.50" r="3.15" fill="#fff" stroke="#ff0000" stroke-width="1"/>
<circle cx="857.70" cy="488.70" r="3.15" fill="#fff" stroke="#ff0000" stroke-width="1"/>
<circle cx="878.80" cy="482.50" r="3.15" fill="#fff" stroke="#ff0000" stroke-width="1"/>
<circle cx="900.00" cy="479.20" r="3.15" fill="#fff" stroke="#ff0000" stroke-width="1"/>
<circle cx="921.10" cy="479.20" r="3.15" fill="#fff" stroke="#ff0000" stroke-width="1"/>
<circle cx="942.60" cy="435.80" r="3.15" fill="#fff" stroke="#ff0000" stroke-width="1"/>
<path d="M603.10,508.20 L606.60,514.80 L599.60,514.80 Z" fill="#fff" stroke="#0000ff" stroke-width="1"/>
<path d="M624.70,491.40 L628.20,498.00 L621.20,498.00 Z" fill="#fff" stroke="#0000ff" stroke-width="1"/>
<path d="M645.80,496.50 L649.30,503.10 L642.30,503.10 Z" fill="#fff" stroke="#0000ff" stroke-width="1"/>
<path d="M666.80,501.40 L670.30,508.00 L663.30,508.00 Z" fill="#fff" stroke="#0000ff" stroke-width="1"/>
<path d="M688.00,505.70 L691.50,512.30 L684.50,512.30 Z" fill="#fff" stroke="#0000ff" stroke-width="1"/>
<path d="M709.10,508.20 L712.60,514.80 L705.60,514.80 Z" fill="#fff" stroke="#0000ff" stroke-width="1"/>
<path d="M730.60,510.10 L734.10,516.70 L727.10,516.70 Z" fill="#fff" stroke="#0000ff" stroke-width="1"/>
<path d="M751.50,510.10 L755.00,516.70 L748.00,516.70 Z" fill="#fff" stroke="#0000ff" stroke-width="1"/>
<path d="M772.70,508.50 L776.20,515.10 L769.20,515.10 Z" fill="#fff" stroke="#0000ff" stroke-width="1"/>
<path d="M793.90,503.10 L797.40,509.70 L790.40,509.70 Z" fill="#fff" stroke="#0000ff" stroke-width="1"/>
<path d="M815.10,493.60 L818.60,500.20 L811.60,500.20 Z" fill="#fff" stroke="#0000ff" stroke-width="1"/>
<path d="M836.50,480.00 L840.00,486.60 L833.00,486.60 Z" fill="#fff" stroke="#0000ff" stroke-width="1"/>
<path d="M857.70,462.40 L861.20,469.00 L854.20,469.00 Z" fill="#fff" stroke="#0000ff" stroke-width="1"/>
<path d="M878.80,444.80 L882.30,451.40 L875.30,451.40 Z" fill="#fff" stroke="#0000ff" stroke-width="1"/>
<path d="M900.00,432.50 L903.50,439.10 L896.50,439.10 Z" fill="#fff" stroke="#0000ff" stroke-width="1"/>
<path d="M921.10,423.90 L924.60,430.50 L917.60,430.50 Z" fill="#fff" stroke="#0000ff" stroke-width="1"/>
<path d="M942.60,375.00 L946.10,381.60 L939.10,381.60 Z" fill="#fff" stroke="#0000ff" stroke-width="1"/>
<rect x="587.6" y="347.8" width="213.6" height="75.8" fill="#fff" stroke="#888" stroke-width="1"/>
<line x1="594.00" y1="360.80" x2="640.50" y2="360.80" stroke="#555" stroke-width="1.4"/>
<rect x="613.90" y="357.90" width="5.8" height="5.8" fill="#fff" stroke="#000" stroke-width="1"/>
<line x1="594.00" y1="386.10" x2="640.50" y2="386.10" stroke="#ff4040" stroke-width="1"/>
<circle cx="616.80" cy="386.10" r="3.15" fill="#fff" stroke="#ff0000" stroke-width="1"/>
<line x1="594.00" y1="411.80" x2="640.50" y2="411.80" stroke="#6a6aff" stroke-width="1.2"/>
<path d="M616.80,408.00 L620.30,414.60 L613.30,414.60 Z" fill="#fff" stroke="#0000ff" stroke-width="1"/>
<text transform="translate(646.40,367.90) scale(1,1.030)" font-size="20.8" text-anchor="start" fill="#000" stroke="#000" >Entropy&#160; change</text>
<text transform="translate(646.40,393.20) scale(1,1.030)" font-size="20.8" text-anchor="start" fill="#000" stroke="#000" >Overpotentical</text>
<text transform="translate(646.40,418.80) scale(1,1.030)" font-size="20.8" text-anchor="start" fill="#000" stroke="#000" >Total</text>
<text x="512.5" y="730.3" style="font-family:Liberation Serif,serif;font-weight:bold" font-size="28" text-anchor="middle" fill="#000">(a)</text>
</svg>
</body></html>
